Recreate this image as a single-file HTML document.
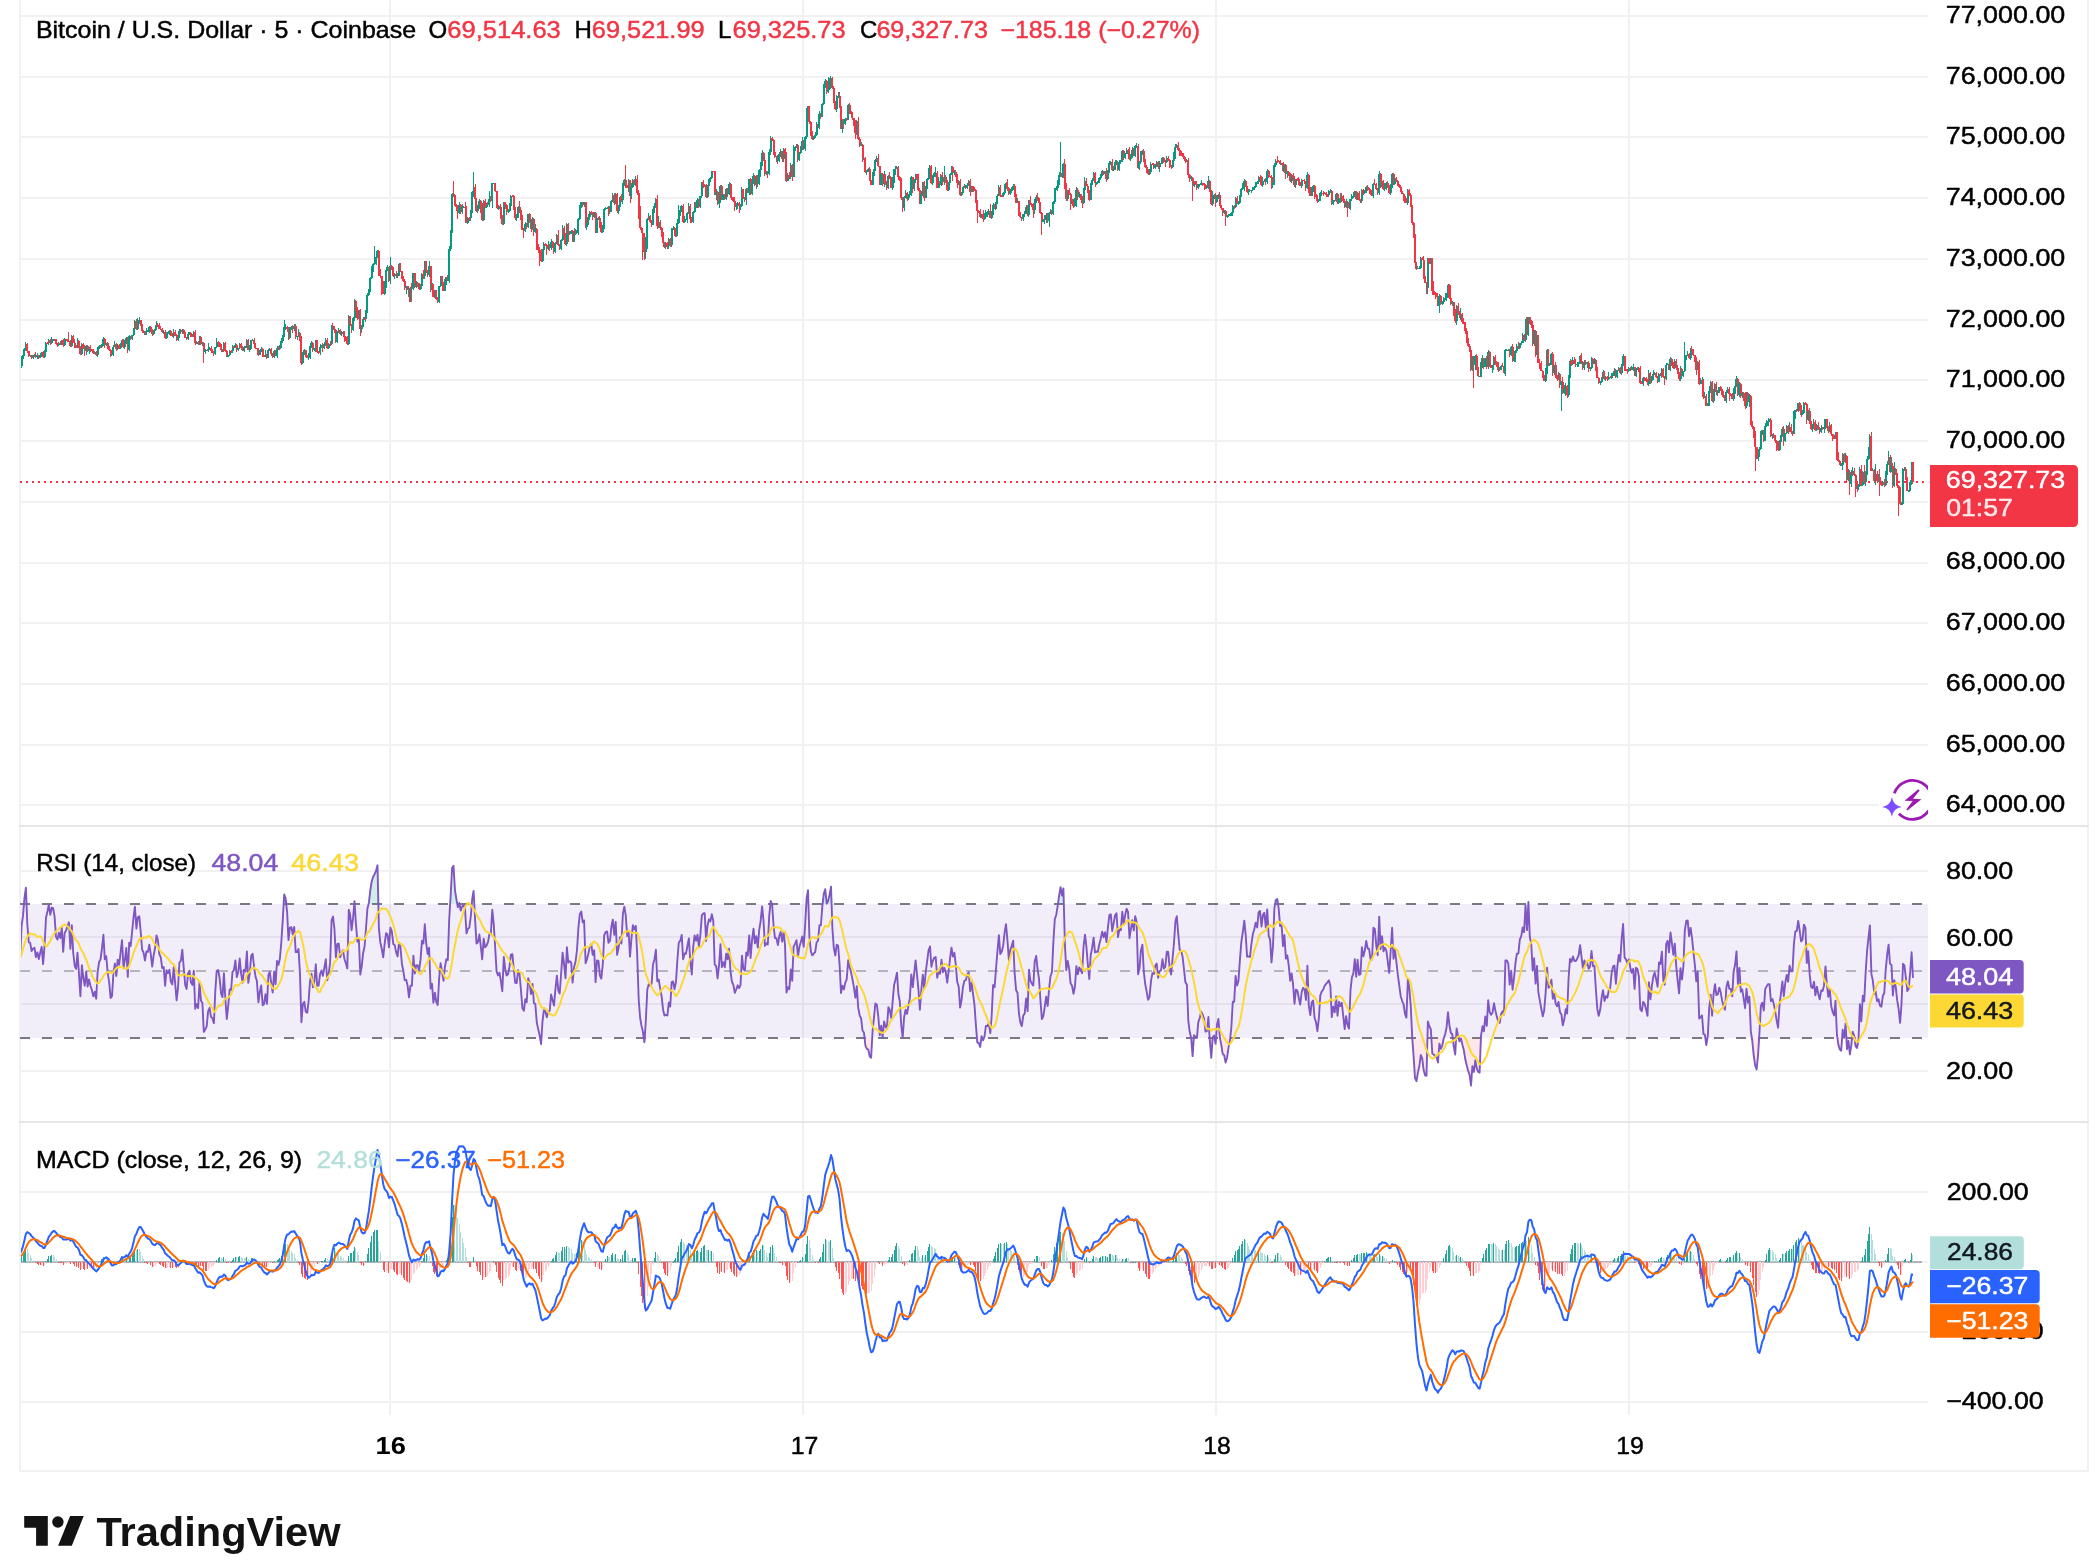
<!DOCTYPE html>
<html><head><meta charset="utf-8"><title>BTCUSD</title>
<style>
html,body{margin:0;padding:0;background:#fff;}
body{width:2097px;height:1560px;position:relative;overflow:hidden;}
svg text{font-family:"Liberation Sans",sans-serif;}
.tv{position:absolute;left:96px;top:1503px;font:bold 40px "Liberation Sans",sans-serif;color:#131313;letter-spacing:-0.6px;white-space:nowrap;line-height:1;}
</style></head><body>
<svg width="2097" height="1560" style="position:absolute;left:0;top:0;will-change:transform">
<defs><clipPath id="clipi"><rect x="1860" y="760" width="68" height="70"/></clipPath><clipPath id="clipc"><rect x="21" y="0" width="1907" height="824"/></clipPath>
<clipPath id="clipm"><rect x="21" y="0" width="1907" height="824"/></clipPath>
<clipPath id="clipob"><rect x="21" y="827" width="1907" height="77.0"/></clipPath><clipPath id="clipos"><rect x="21" y="1037.6" width="1907" height="90"/></clipPath><clipPath id="clipr"><rect x="21" y="827" width="1907" height="294"/></clipPath>
<clipPath id="clipd"><rect x="21" y="1123" width="1907" height="292"/></clipPath></defs>
<rect x="389" y="0" width="2" height="1415" fill="#F1F1F1"/><rect x="802" y="0" width="2" height="1415" fill="#F1F1F1"/><rect x="1215" y="0" width="2" height="1415" fill="#F1F1F1"/><rect x="1628" y="0" width="2" height="1415" fill="#F1F1F1"/><rect x="21" y="15" width="1907" height="2" fill="#F1F1F1"/><rect x="21" y="76" width="1907" height="2" fill="#F1F1F1"/><rect x="21" y="136" width="1907" height="2" fill="#F1F1F1"/><rect x="21" y="197" width="1907" height="2" fill="#F1F1F1"/><rect x="21" y="258" width="1907" height="2" fill="#F1F1F1"/><rect x="21" y="319" width="1907" height="2" fill="#F1F1F1"/><rect x="21" y="379" width="1907" height="2" fill="#F1F1F1"/><rect x="21" y="440" width="1907" height="2" fill="#F1F1F1"/><rect x="21" y="501" width="1907" height="2" fill="#F1F1F1"/><rect x="21" y="562" width="1907" height="2" fill="#F1F1F1"/><rect x="21" y="622" width="1907" height="2" fill="#F1F1F1"/><rect x="21" y="683" width="1907" height="2" fill="#F1F1F1"/><rect x="21" y="744" width="1907" height="2" fill="#F1F1F1"/><rect x="21" y="804" width="1907" height="2" fill="#F1F1F1"/><rect x="21" y="870" width="1907" height="2" fill="#F1F1F1"/><rect x="21" y="936" width="1907" height="2" fill="#F1F1F1"/><rect x="21" y="1003" width="1907" height="2" fill="#F1F1F1"/><rect x="21" y="1070" width="1907" height="2" fill="#F1F1F1"/><rect x="21" y="1191" width="1907" height="2" fill="#F1F1F1"/><rect x="21" y="1261" width="1907" height="2" fill="#F1F1F1"/><rect x="21" y="1331" width="1907" height="2" fill="#F1F1F1"/><rect x="21" y="1401" width="1907" height="2" fill="#F1F1F1"/><rect x="19" y="0" width="2" height="1472" fill="#F1F1F1"/><rect x="2087" y="0" width="2" height="1472" fill="#F1F1F1"/><rect x="19" y="825" width="2070" height="2" fill="#E6E6E6"/><rect x="19" y="1121" width="2070" height="2" fill="#E6E6E6"/><rect x="19" y="1470" width="2070" height="2" fill="#F1F1F1"/><rect x="21" y="904" width="1907" height="133.6" fill="#7E57C2" fill-opacity="0.1"/><line x1="20" x2="1922" y1="904" y2="904" stroke="#787B86" stroke-width="2" stroke-dasharray="10 12"/><line x1="20" x2="1922" y1="971" y2="971" stroke="rgba(120,123,134,0.5)" stroke-width="2" stroke-dasharray="10 12"/><line x1="20" x2="1922" y1="1038" y2="1038" stroke="#787B86" stroke-width="2" stroke-dasharray="10 12"/><line x1="20" x2="1926" y1="482" y2="482" stroke="#F23645" stroke-width="2" stroke-dasharray="2 4"/>
<g clip-path="url(#clipm)"><g shape-rendering="crispEdges"><path d="M20 365h1v5h-1zM21 356h1v12h-1zM23 355h1v4h-1zM24 348h1v8h-1zM25 342h1v9h-1z" fill="#089981"/><path d="M27 343h1v10h-1zM28 351h1v6h-1z" fill="#F23645"/><path d="M30 355h1v2h-1z" fill="#089981"/><path d="M31 355h1v4h-1z" fill="#F23645"/><path d="M33 356h1v3h-1zM34 354h1v3h-1z" fill="#089981"/><path d="M35 352h1v6h-1z" fill="#F23645"/><path d="M37 353h1v6h-1z" fill="#089981"/><path d="M38 355h1v4h-1z" fill="#F23645"/><path d="M40 353h1v5h-1zM41 352h1v5h-1z" fill="#089981"/><path d="M43 351h1v7h-1z" fill="#F23645"/><path d="M44 350h1v8h-1zM45 342h1v12h-1z" fill="#089981"/><path d="M47 342h1v2h-1z" fill="#F23645"/><path d="M48 339h1v6h-1z" fill="#089981"/><path d="M50 339h1v6h-1z" fill="#F23645"/><path d="M51 337h1v7h-1zM53 339h1v2h-1z" fill="#089981"/><path d="M54 339h1v2h-1zM56 339h1v6h-1zM57 343h1v4h-1z" fill="#F23645"/><path d="M58 342h1v4h-1z" fill="#089981"/><path d="M60 341h1v4h-1z" fill="#F23645"/><path d="M61 340h1v5h-1z" fill="#089981"/><path d="M63 339h1v8h-1z" fill="#F23645"/><path d="M64 338h1v8h-1z" fill="#089981"/><path d="M66 339h1v2h-1zM67 339h1v3h-1zM68 332h1v10h-1zM70 340h1v7h-1z" fill="#F23645"/><path d="M71 335h1v12h-1z" fill="#089981"/><path d="M73 335h1v8h-1zM74 339h1v9h-1zM76 345h1v3h-1z" fill="#F23645"/><path d="M77 338h1v10h-1z" fill="#089981"/><path d="M78 340h1v8h-1zM80 346h1v9h-1z" fill="#F23645"/><path d="M81 343h1v12h-1z" fill="#089981"/><path d="M83 343h1v6h-1zM84 345h1v11h-1z" fill="#F23645"/><path d="M86 345h1v10h-1z" fill="#089981"/><path d="M87 345h1v7h-1z" fill="#F23645"/><path d="M89 347h1v7h-1z" fill="#089981"/><path d="M90 345h1v7h-1zM91 349h1v2h-1zM93 349h1v5h-1z" fill="#F23645"/><path d="M94 351h1v3h-1z" fill="#089981"/><path d="M96 351h1v5h-1z" fill="#F23645"/><path d="M97 347h1v10h-1zM99 345h1v4h-1z" fill="#089981"/><path d="M100 345h1v3h-1z" fill="#F23645"/><path d="M101 344h1v4h-1zM103 337h1v9h-1z" fill="#089981"/><path d="M104 338h1v10h-1z" fill="#F23645"/><path d="M106 343h1v3h-1z" fill="#089981"/><path d="M107 342h1v7h-1zM109 346h1v5h-1zM110 349h1v8h-1z" fill="#F23645"/><path d="M111 353h1v3h-1zM113 345h1v11h-1zM114 341h1v6h-1z" fill="#089981"/><path d="M116 343h1v8h-1z" fill="#F23645"/><path d="M117 344h1v6h-1z" fill="#089981"/><path d="M119 344h1v5h-1z" fill="#F23645"/><path d="M120 343h1v6h-1zM122 339h1v8h-1z" fill="#089981"/><path d="M123 339h1v9h-1z" fill="#F23645"/><path d="M124 340h1v9h-1zM126 337h1v7h-1z" fill="#089981"/><path d="M127 337h1v16h-1z" fill="#F23645"/><path d="M129 335h1v16h-1z" fill="#089981"/><path d="M130 336h1v4h-1z" fill="#F23645"/><path d="M132 335h1v5h-1zM133 328h1v8h-1zM134 320h1v9h-1z" fill="#089981"/><path d="M136 319h1v11h-1z" fill="#F23645"/><path d="M137 318h1v12h-1zM139 317h1v7h-1z" fill="#089981"/><path d="M140 320h1v6h-1zM142 324h1v9h-1zM143 330h1v3h-1zM144 331h1v4h-1z" fill="#F23645"/><path d="M146 328h1v7h-1zM147 330h1v1h-1zM149 326h1v7h-1z" fill="#089981"/><path d="M150 326h1v6h-1zM152 329h1v7h-1z" fill="#F23645"/><path d="M153 330h1v5h-1zM155 329h1v2h-1zM156 321h1v9h-1z" fill="#089981"/><path d="M157 323h1v4h-1zM159 323h1v6h-1zM160 326h1v4h-1zM162 328h1v5h-1z" fill="#F23645"/><path d="M163 330h1v4h-1z" fill="#089981"/><path d="M165 330h1v9h-1z" fill="#F23645"/><path d="M166 332h1v7h-1zM167 332h1v2h-1zM169 330h1v5h-1z" fill="#089981"/><path d="M170 330h1v6h-1zM172 333h1v4h-1z" fill="#F23645"/><path d="M173 329h1v9h-1z" fill="#089981"/><path d="M175 330h1v6h-1zM176 334h1v7h-1z" fill="#F23645"/><path d="M178 337h1v4h-1zM179 329h1v9h-1z" fill="#089981"/><path d="M180 329h1v5h-1z" fill="#F23645"/><path d="M182 329h1v5h-1z" fill="#089981"/><path d="M183 329h1v5h-1zM185 332h1v6h-1zM186 337h1v3h-1z" fill="#F23645"/><path d="M188 332h1v8h-1zM189 332h1v3h-1z" fill="#089981"/><path d="M190 332h1v5h-1zM192 334h1v3h-1z" fill="#F23645"/><path d="M193 331h1v6h-1z" fill="#089981"/><path d="M195 330h1v15h-1z" fill="#F23645"/><path d="M196 341h1v3h-1z" fill="#089981"/><path d="M198 341h1v4h-1z" fill="#F23645"/><path d="M199 336h1v9h-1z" fill="#089981"/><path d="M200 336h1v9h-1z" fill="#F23645"/><path d="M202 342h1v4h-1z" fill="#089981"/><path d="M203 342h1v21h-1z" fill="#F23645"/><path d="M205 349h1v5h-1z" fill="#089981"/><path d="M206 350h1v1h-1z" fill="#F23645"/><path d="M208 343h1v9h-1zM209 347h1v3h-1z" fill="#089981"/><path d="M211 346h1v7h-1zM212 349h1v4h-1zM213 351h1v5h-1z" fill="#F23645"/><path d="M215 347h1v8h-1zM216 338h1v10h-1z" fill="#089981"/><path d="M218 341h1v6h-1zM219 342h1v5h-1zM221 344h1v8h-1zM222 349h1v3h-1z" fill="#F23645"/><path d="M223 342h1v10h-1z" fill="#089981"/><path d="M225 342h1v10h-1zM226 350h1v7h-1z" fill="#F23645"/><path d="M228 355h1v2h-1zM229 350h1v6h-1z" fill="#089981"/><path d="M231 350h1v3h-1z" fill="#F23645"/><path d="M232 345h1v8h-1z" fill="#089981"/><path d="M233 346h1v3h-1z" fill="#F23645"/><path d="M235 343h1v5h-1z" fill="#089981"/><path d="M236 344h1v8h-1z" fill="#F23645"/><path d="M238 348h1v3h-1zM239 343h1v6h-1z" fill="#089981"/><path d="M241 343h1v7h-1zM242 346h1v5h-1z" fill="#F23645"/><path d="M244 346h1v6h-1zM245 346h1v1h-1zM246 339h1v9h-1z" fill="#089981"/><path d="M248 339h1v11h-1z" fill="#F23645"/><path d="M249 345h1v7h-1zM251 340h1v9h-1zM252 339h1v2h-1z" fill="#089981"/><path d="M254 338h1v9h-1zM255 343h1v6h-1zM256 348h1v1h-1zM258 348h1v8h-1z" fill="#F23645"/><path d="M259 350h1v5h-1zM261 347h1v5h-1z" fill="#089981"/><path d="M262 348h1v9h-1zM264 355h1v2h-1z" fill="#F23645"/><path d="M265 350h1v7h-1z" fill="#089981"/><path d="M266 354h1v5h-1z" fill="#F23645"/><path d="M268 349h1v9h-1zM269 348h1v3h-1z" fill="#089981"/><path d="M271 348h1v8h-1zM272 353h1v5h-1z" fill="#F23645"/><path d="M274 350h1v8h-1z" fill="#089981"/><path d="M275 350h1v6h-1z" fill="#F23645"/><path d="M277 346h1v12h-1z" fill="#089981"/><path d="M278 346h1v4h-1z" fill="#F23645"/><path d="M279 345h1v5h-1zM281 338h1v10h-1zM282 335h1v8h-1zM284 320h1v17h-1zM285 324h1v6h-1z" fill="#089981"/><path d="M287 326h1v6h-1zM288 327h1v13h-1z" fill="#F23645"/><path d="M289 327h1v12h-1zM291 326h1v4h-1z" fill="#089981"/><path d="M292 325h1v8h-1z" fill="#F23645"/><path d="M294 324h1v7h-1z" fill="#089981"/><path d="M295 324h1v15h-1z" fill="#F23645"/><path d="M297 336h1v4h-1zM298 329h1v8h-1z" fill="#089981"/><path d="M299 332h1v9h-1zM301 336h1v29h-1z" fill="#F23645"/><path d="M302 352h1v12h-1zM304 349h1v6h-1z" fill="#089981"/><path d="M305 350h1v7h-1zM307 355h1v3h-1z" fill="#F23645"/><path d="M308 353h1v7h-1zM310 345h1v14h-1zM311 341h1v7h-1z" fill="#089981"/><path d="M312 342h1v10h-1z" fill="#F23645"/><path d="M314 348h1v3h-1zM315 340h1v12h-1z" fill="#089981"/><path d="M317 340h1v13h-1zM318 351h1v3h-1z" fill="#F23645"/><path d="M320 344h1v11h-1zM321 345h1v3h-1z" fill="#089981"/><path d="M322 343h1v9h-1z" fill="#F23645"/><path d="M324 342h1v7h-1zM325 338h1v8h-1z" fill="#089981"/><path d="M327 338h1v11h-1z" fill="#F23645"/><path d="M328 343h1v6h-1z" fill="#089981"/><path d="M330 341h1v5h-1z" fill="#F23645"/><path d="M331 325h1v20h-1z" fill="#089981"/><path d="M332 323h1v6h-1zM334 326h1v7h-1zM335 329h1v14h-1z" fill="#F23645"/><path d="M337 331h1v12h-1zM338 328h1v5h-1z" fill="#089981"/><path d="M340 329h1v6h-1z" fill="#F23645"/><path d="M341 331h1v5h-1zM343 331h1v2h-1z" fill="#089981"/><path d="M344 331h1v11h-1zM345 336h1v5h-1zM347 336h1v9h-1z" fill="#F23645"/><path d="M348 315h1v30h-1z" fill="#089981"/><path d="M350 316h1v10h-1zM351 324h1v9h-1z" fill="#F23645"/><path d="M353 317h1v14h-1zM354 299h1v22h-1z" fill="#089981"/><path d="M355 300h1v14h-1zM357 307h1v13h-1z" fill="#F23645"/><path d="M358 310h1v9h-1z" fill="#089981"/><path d="M360 309h1v27h-1z" fill="#F23645"/><path d="M361 325h1v8h-1zM363 317h1v10h-1z" fill="#089981"/><path d="M364 317h1v3h-1z" fill="#F23645"/><path d="M365 310h1v12h-1zM367 293h1v20h-1zM368 289h1v7h-1zM370 277h1v15h-1zM371 266h1v13h-1zM373 263h1v9h-1zM374 246h1v19h-1zM376 255h1v10h-1zM377 250h1v8h-1z" fill="#089981"/><path d="M378 250h1v26h-1zM380 269h1v9h-1zM381 276h1v19h-1zM383 281h1v13h-1z" fill="#F23645"/><path d="M384 281h1v14h-1zM386 267h1v21h-1zM387 265h1v6h-1z" fill="#089981"/><path d="M388 267h1v15h-1z" fill="#F23645"/><path d="M390 257h1v27h-1z" fill="#089981"/><path d="M391 265h1v5h-1zM393 267h1v10h-1z" fill="#F23645"/><path d="M394 273h1v6h-1z" fill="#089981"/><path d="M396 271h1v7h-1z" fill="#F23645"/><path d="M397 273h1v5h-1zM399 263h1v13h-1z" fill="#089981"/><path d="M400 263h1v9h-1zM401 271h1v8h-1zM403 276h1v6h-1zM404 279h1v11h-1z" fill="#F23645"/><path d="M406 286h1v8h-1z" fill="#089981"/><path d="M407 286h1v4h-1zM409 289h1v13h-1z" fill="#F23645"/><path d="M410 287h1v15h-1z" fill="#089981"/><path d="M411 283h1v19h-1z" fill="#F23645"/><path d="M413 273h1v17h-1z" fill="#089981"/><path d="M414 273h1v15h-1z" fill="#F23645"/><path d="M416 281h1v7h-1z" fill="#089981"/><path d="M417 282h1v5h-1zM419 283h1v7h-1z" fill="#F23645"/><path d="M420 284h1v6h-1zM421 273h1v14h-1z" fill="#089981"/><path d="M423 270h1v9h-1z" fill="#F23645"/><path d="M424 261h1v18h-1z" fill="#089981"/><path d="M426 261h1v12h-1zM427 270h1v7h-1z" fill="#F23645"/><path d="M429 261h1v16h-1z" fill="#089981"/><path d="M430 266h1v26h-1z" fill="#F23645"/><path d="M432 283h1v8h-1z" fill="#089981"/><path d="M433 284h1v13h-1z" fill="#F23645"/><path d="M434 290h1v8h-1z" fill="#089981"/><path d="M436 290h1v10h-1zM437 297h1v6h-1z" fill="#F23645"/><path d="M439 286h1v17h-1zM440 276h1v11h-1z" fill="#089981"/><path d="M442 276h1v8h-1zM443 282h1v9h-1z" fill="#F23645"/><path d="M444 279h1v12h-1zM446 277h1v8h-1z" fill="#089981"/><path d="M447 275h1v6h-1z" fill="#F23645"/><path d="M449 246h1v37h-1zM450 230h1v21h-1zM452 193h1v40h-1z" fill="#089981"/><path d="M453 181h1v16h-1zM454 194h1v12h-1zM456 204h1v7h-1zM457 205h1v14h-1z" fill="#F23645"/><path d="M459 202h1v12h-1z" fill="#089981"/><path d="M460 204h1v10h-1z" fill="#F23645"/><path d="M462 204h1v10h-1zM463 206h1v2h-1z" fill="#089981"/><path d="M465 202h1v7h-1zM466 206h1v17h-1z" fill="#F23645"/><path d="M467 217h1v7h-1z" fill="#089981"/><path d="M469 217h1v4h-1z" fill="#F23645"/><path d="M470 210h1v11h-1zM472 191h1v22h-1zM473 172h1v25h-1z" fill="#089981"/><path d="M475 184h1v16h-1zM476 198h1v14h-1z" fill="#F23645"/><path d="M477 205h1v8h-1zM479 199h1v10h-1z" fill="#089981"/><path d="M480 200h1v13h-1zM482 203h1v18h-1z" fill="#F23645"/><path d="M483 200h1v21h-1z" fill="#089981"/><path d="M485 199h1v9h-1z" fill="#F23645"/><path d="M486 203h1v5h-1z" fill="#089981"/><path d="M487 202h1v3h-1z" fill="#F23645"/><path d="M489 191h1v16h-1z" fill="#089981"/><path d="M490 196h1v6h-1z" fill="#F23645"/><path d="M492 183h1v25h-1zM493 183h1v1h-1z" fill="#089981"/><path d="M495 183h1v9h-1zM496 191h1v17h-1zM498 205h1v5h-1z" fill="#F23645"/><path d="M499 206h1v3h-1z" fill="#089981"/><path d="M500 204h1v15h-1zM502 215h1v10h-1z" fill="#F23645"/><path d="M503 202h1v23h-1z" fill="#089981"/><path d="M505 202h1v7h-1zM506 204h1v11h-1z" fill="#F23645"/><path d="M508 209h1v4h-1zM509 203h1v9h-1zM510 195h1v13h-1z" fill="#089981"/><path d="M512 195h1v2h-1zM513 195h1v15h-1zM515 207h1v13h-1z" fill="#F23645"/><path d="M516 214h1v7h-1zM518 206h1v12h-1z" fill="#089981"/><path d="M519 201h1v12h-1zM520 208h1v12h-1zM522 215h1v15h-1zM523 228h1v10h-1z" fill="#F23645"/><path d="M525 222h1v10h-1z" fill="#089981"/><path d="M526 223h1v6h-1z" fill="#F23645"/><path d="M528 214h1v14h-1z" fill="#089981"/><path d="M529 213h1v10h-1zM531 221h1v11h-1z" fill="#F23645"/><path d="M532 217h1v13h-1z" fill="#089981"/><path d="M533 218h1v18h-1z" fill="#F23645"/><path d="M535 224h1v9h-1z" fill="#089981"/><path d="M536 228h1v22h-1zM538 244h1v9h-1zM539 247h1v19h-1zM541 249h1v13h-1z" fill="#F23645"/><path d="M542 249h1v13h-1zM543 242h1v10h-1z" fill="#089981"/><path d="M545 243h1v3h-1zM546 244h1v11h-1z" fill="#F23645"/><path d="M548 241h1v9h-1z" fill="#089981"/><path d="M549 244h1v7h-1z" fill="#F23645"/><path d="M551 239h1v11h-1z" fill="#089981"/><path d="M552 241h1v7h-1zM553 246h1v8h-1z" fill="#F23645"/><path d="M555 242h1v11h-1zM556 234h1v10h-1z" fill="#089981"/><path d="M558 230h1v16h-1zM559 244h1v6h-1z" fill="#F23645"/><path d="M561 239h1v11h-1zM562 225h1v16h-1z" fill="#089981"/><path d="M564 226h1v10h-1zM565 233h1v12h-1z" fill="#F23645"/><path d="M566 223h1v23h-1z" fill="#089981"/><path d="M568 223h1v19h-1z" fill="#F23645"/><path d="M569 231h1v4h-1zM571 230h1v4h-1z" fill="#089981"/><path d="M572 230h1v12h-1z" fill="#F23645"/><path d="M574 228h1v14h-1z" fill="#089981"/><path d="M575 229h1v6h-1z" fill="#F23645"/><path d="M576 230h1v4h-1zM578 218h1v17h-1zM579 205h1v15h-1zM581 202h1v6h-1z" fill="#089981"/><path d="M582 202h1v5h-1z" fill="#F23645"/><path d="M584 202h1v5h-1z" fill="#089981"/><path d="M585 202h1v26h-1z" fill="#F23645"/><path d="M586 217h1v13h-1zM588 214h1v11h-1zM589 211h1v9h-1z" fill="#089981"/><path d="M591 211h1v4h-1zM592 212h1v8h-1z" fill="#F23645"/><path d="M594 212h1v6h-1z" fill="#089981"/><path d="M595 212h1v21h-1z" fill="#F23645"/><path d="M597 218h1v15h-1zM598 217h1v3h-1z" fill="#089981"/><path d="M599 216h1v12h-1zM601 222h1v11h-1z" fill="#F23645"/><path d="M602 225h1v8h-1zM604 208h1v21h-1zM605 207h1v3h-1zM607 207h1v1h-1z" fill="#089981"/><path d="M608 206h1v10h-1z" fill="#F23645"/><path d="M609 206h1v8h-1zM611 200h1v12h-1zM612 193h1v9h-1z" fill="#089981"/><path d="M614 193h1v12h-1z" fill="#F23645"/><path d="M615 193h1v11h-1z" fill="#089981"/><path d="M617 193h1v20h-1z" fill="#F23645"/><path d="M618 205h1v9h-1zM620 196h1v11h-1z" fill="#089981"/><path d="M621 194h1v8h-1z" fill="#F23645"/><path d="M622 183h1v21h-1zM624 179h1v7h-1z" fill="#089981"/><path d="M625 165h1v23h-1zM627 185h1v2h-1z" fill="#F23645"/><path d="M628 179h1v13h-1z" fill="#089981"/><path d="M630 180h1v23h-1z" fill="#F23645"/><path d="M631 183h1v16h-1zM632 179h1v9h-1z" fill="#089981"/><path d="M634 179h1v6h-1z" fill="#F23645"/><path d="M635 176h1v10h-1z" fill="#089981"/><path d="M637 175h1v20h-1zM638 190h1v29h-1zM640 206h1v24h-1zM641 227h1v6h-1zM642 231h1v29h-1zM644 233h1v27h-1z" fill="#F23645"/><path d="M645 237h1v22h-1zM647 218h1v31h-1zM648 213h1v7h-1z" fill="#089981"/><path d="M650 215h1v8h-1zM651 220h1v7h-1z" fill="#F23645"/><path d="M653 206h1v19h-1zM654 203h1v10h-1zM655 198h1v10h-1z" fill="#089981"/><path d="M657 195h1v34h-1z" fill="#F23645"/><path d="M658 216h1v12h-1z" fill="#089981"/><path d="M660 220h1v10h-1zM661 227h1v10h-1zM663 232h1v12h-1zM664 242h1v6h-1z" fill="#F23645"/><path d="M665 242h1v7h-1z" fill="#089981"/><path d="M667 242h1v7h-1z" fill="#F23645"/><path d="M668 238h1v11h-1z" fill="#089981"/><path d="M670 238h1v9h-1z" fill="#F23645"/><path d="M671 228h1v19h-1zM673 226h1v4h-1z" fill="#089981"/><path d="M674 227h1v9h-1zM675 234h1v3h-1z" fill="#F23645"/><path d="M677 219h1v17h-1zM678 205h1v19h-1zM680 206h1v10h-1zM681 205h1v7h-1z" fill="#089981"/><path d="M683 204h1v19h-1z" fill="#F23645"/><path d="M684 216h1v7h-1zM686 218h1v1h-1zM687 212h1v11h-1zM688 203h1v11h-1z" fill="#089981"/><path d="M690 204h1v19h-1zM691 217h1v6h-1z" fill="#F23645"/><path d="M693 211h1v12h-1zM694 202h1v11h-1z" fill="#089981"/><path d="M696 200h1v8h-1z" fill="#F23645"/><path d="M697 198h1v10h-1z" fill="#089981"/><path d="M698 199h1v9h-1z" fill="#F23645"/><path d="M700 196h1v12h-1zM701 182h1v16h-1z" fill="#089981"/><path d="M703 180h1v8h-1zM704 184h1v3h-1zM706 184h1v14h-1z" fill="#F23645"/><path d="M707 185h1v13h-1zM708 179h1v9h-1zM710 177h1v5h-1zM711 171h1v8h-1z" fill="#089981"/><path d="M713 171h1v1h-1zM714 171h1v24h-1z" fill="#F23645"/><path d="M716 189h1v11h-1z" fill="#089981"/><path d="M717 191h1v14h-1z" fill="#F23645"/><path d="M719 200h1v8h-1zM720 185h1v18h-1z" fill="#089981"/><path d="M721 185h1v15h-1z" fill="#F23645"/><path d="M723 194h1v6h-1z" fill="#089981"/><path d="M724 194h1v6h-1z" fill="#F23645"/><path d="M726 188h1v12h-1z" fill="#089981"/><path d="M727 188h1v9h-1z" fill="#F23645"/><path d="M729 182h1v13h-1z" fill="#089981"/><path d="M730 183h1v15h-1zM731 195h1v5h-1zM733 197h1v5h-1zM734 197h1v14h-1z" fill="#F23645"/><path d="M736 203h1v7h-1zM737 202h1v7h-1z" fill="#089981"/><path d="M739 202h1v11h-1z" fill="#F23645"/><path d="M740 204h1v6h-1zM741 187h1v20h-1z" fill="#089981"/><path d="M743 189h1v10h-1zM744 197h1v5h-1z" fill="#F23645"/><path d="M746 188h1v17h-1z" fill="#089981"/><path d="M747 188h1v5h-1z" fill="#F23645"/><path d="M749 179h1v16h-1z" fill="#089981"/><path d="M750 178h1v17h-1z" fill="#F23645"/><path d="M752 182h1v13h-1zM753 173h1v11h-1z" fill="#089981"/><path d="M754 175h1v11h-1z" fill="#F23645"/><path d="M756 175h1v14h-1z" fill="#089981"/><path d="M757 175h1v12h-1z" fill="#F23645"/><path d="M759 169h1v16h-1zM760 162h1v15h-1zM762 150h1v16h-1z" fill="#089981"/><path d="M763 152h1v9h-1zM764 159h1v17h-1z" fill="#F23645"/><path d="M766 171h1v4h-1z" fill="#089981"/><path d="M767 171h1v7h-1z" fill="#F23645"/><path d="M769 149h1v26h-1zM770 136h1v19h-1z" fill="#089981"/><path d="M772 137h1v4h-1zM773 139h1v16h-1zM774 147h1v11h-1z" fill="#F23645"/><path d="M776 156h1v6h-1z" fill="#089981"/><path d="M777 155h1v9h-1z" fill="#F23645"/><path d="M779 152h1v10h-1zM780 149h1v8h-1z" fill="#089981"/><path d="M782 151h1v11h-1z" fill="#F23645"/><path d="M783 148h1v14h-1z" fill="#089981"/><path d="M785 148h1v9h-1zM786 152h1v30h-1z" fill="#F23645"/><path d="M787 173h1v8h-1z" fill="#089981"/><path d="M789 172h1v7h-1z" fill="#F23645"/><path d="M790 163h1v16h-1z" fill="#089981"/><path d="M792 164h1v17h-1z" fill="#F23645"/><path d="M793 145h1v32h-1zM795 146h1v5h-1zM796 144h1v4h-1z" fill="#089981"/><path d="M797 144h1v18h-1z" fill="#F23645"/><path d="M799 152h1v9h-1zM800 146h1v8h-1zM802 137h1v13h-1z" fill="#089981"/><path d="M803 140h1v10h-1z" fill="#F23645"/><path d="M805 136h1v15h-1zM806 108h1v31h-1zM807 106h1v6h-1z" fill="#089981"/><path d="M809 106h1v18h-1zM810 121h1v15h-1zM812 131h1v9h-1z" fill="#F23645"/><path d="M813 136h1v4h-1zM815 132h1v6h-1zM816 122h1v14h-1z" fill="#089981"/><path d="M818 123h1v5h-1z" fill="#F23645"/><path d="M819 111h1v18h-1z" fill="#089981"/><path d="M820 113h1v6h-1z" fill="#F23645"/><path d="M822 103h1v14h-1zM823 84h1v21h-1zM825 79h1v9h-1z" fill="#089981"/><path d="M826 80h1v14h-1z" fill="#F23645"/><path d="M828 77h1v16h-1zM829 78h1v12h-1zM830 76h1v6h-1z" fill="#089981"/><path d="M832 77h1v12h-1zM833 86h1v17h-1zM835 101h1v9h-1z" fill="#F23645"/><path d="M836 95h1v17h-1zM838 92h1v6h-1z" fill="#089981"/><path d="M839 92h1v16h-1zM841 106h1v23h-1z" fill="#F23645"/><path d="M842 119h1v14h-1z" fill="#089981"/><path d="M843 119h1v10h-1z" fill="#F23645"/><path d="M845 118h1v7h-1z" fill="#089981"/><path d="M846 118h1v3h-1z" fill="#F23645"/><path d="M848 104h1v16h-1z" fill="#089981"/><path d="M849 103h1v11h-1zM851 111h1v6h-1zM852 112h1v8h-1zM853 118h1v8h-1zM855 120h1v19h-1z" fill="#F23645"/><path d="M856 120h1v15h-1z" fill="#089981"/><path d="M858 117h1v23h-1zM859 137h1v10h-1z" fill="#F23645"/><path d="M861 142h1v4h-1z" fill="#089981"/><path d="M862 144h1v18h-1z" fill="#F23645"/><path d="M863 157h1v3h-1z" fill="#089981"/><path d="M865 157h1v16h-1z" fill="#F23645"/><path d="M866 170h1v5h-1zM868 168h1v4h-1z" fill="#089981"/><path d="M869 167h1v14h-1zM871 180h1v5h-1z" fill="#F23645"/><path d="M872 172h1v13h-1zM874 168h1v8h-1zM875 159h1v12h-1zM876 156h1v6h-1z" fill="#089981"/><path d="M878 154h1v13h-1zM879 166h1v19h-1z" fill="#F23645"/><path d="M881 173h1v12h-1z" fill="#089981"/><path d="M882 173h1v13h-1z" fill="#F23645"/><path d="M884 171h1v16h-1z" fill="#089981"/><path d="M885 174h1v11h-1zM886 181h1v9h-1z" fill="#F23645"/><path d="M888 175h1v14h-1z" fill="#089981"/><path d="M889 172h1v7h-1zM891 177h1v11h-1z" fill="#F23645"/><path d="M892 177h1v13h-1zM894 169h1v14h-1zM895 166h1v9h-1zM896 166h1v1h-1z" fill="#089981"/><path d="M898 166h1v14h-1zM899 176h1v5h-1zM901 178h1v22h-1zM902 197h1v15h-1z" fill="#F23645"/><path d="M904 196h1v15h-1zM905 190h1v8h-1z" fill="#089981"/><path d="M907 192h1v9h-1z" fill="#F23645"/><path d="M908 194h1v6h-1zM909 191h1v7h-1zM911 176h1v20h-1z" fill="#089981"/><path d="M912 177h1v16h-1z" fill="#F23645"/><path d="M914 179h1v12h-1zM915 174h1v9h-1z" fill="#089981"/><path d="M917 174h1v5h-1zM918 174h1v17h-1zM919 188h1v16h-1z" fill="#F23645"/><path d="M921 191h1v13h-1zM922 182h1v14h-1z" fill="#089981"/><path d="M924 181h1v20h-1z" fill="#F23645"/><path d="M925 186h1v12h-1zM927 178h1v11h-1zM928 168h1v12h-1zM929 165h1v5h-1z" fill="#089981"/><path d="M931 165h1v19h-1z" fill="#F23645"/><path d="M932 175h1v10h-1zM934 172h1v5h-1zM935 167h1v10h-1z" fill="#089981"/><path d="M937 171h1v17h-1z" fill="#F23645"/><path d="M938 177h1v11h-1z" fill="#089981"/><path d="M940 174h1v11h-1z" fill="#F23645"/><path d="M941 175h1v11h-1z" fill="#089981"/><path d="M942 172h1v13h-1z" fill="#F23645"/><path d="M944 166h1v19h-1z" fill="#089981"/><path d="M945 175h1v8h-1zM947 180h1v11h-1z" fill="#F23645"/><path d="M948 182h1v9h-1zM950 173h1v10h-1zM951 166h1v9h-1z" fill="#089981"/><path d="M952 166h1v15h-1z" fill="#F23645"/><path d="M954 170h1v5h-1z" fill="#089981"/><path d="M955 170h1v7h-1zM957 174h1v14h-1z" fill="#F23645"/><path d="M958 180h1v5h-1z" fill="#089981"/><path d="M960 179h1v17h-1z" fill="#F23645"/><path d="M961 192h1v4h-1zM962 187h1v8h-1zM964 184h1v4h-1z" fill="#089981"/><path d="M965 185h1v4h-1z" fill="#F23645"/><path d="M967 183h1v6h-1zM968 180h1v6h-1z" fill="#089981"/><path d="M970 179h1v17h-1z" fill="#F23645"/><path d="M971 186h1v6h-1z" fill="#089981"/><path d="M973 186h1v6h-1zM974 187h1v4h-1zM975 189h1v14h-1zM977 200h1v23h-1zM978 210h1v3h-1zM980 209h1v9h-1z" fill="#F23645"/><path d="M981 214h1v4h-1z" fill="#089981"/><path d="M983 210h1v12h-1z" fill="#F23645"/><path d="M984 213h1v7h-1zM985 210h1v8h-1zM987 211h1v6h-1zM988 209h1v6h-1z" fill="#089981"/><path d="M990 204h1v14h-1z" fill="#F23645"/><path d="M991 211h1v8h-1zM993 203h1v12h-1z" fill="#089981"/><path d="M994 204h1v5h-1z" fill="#F23645"/><path d="M995 202h1v8h-1zM997 194h1v10h-1zM998 185h1v11h-1z" fill="#089981"/><path d="M1000 185h1v12h-1zM1001 195h1v1h-1z" fill="#F23645"/><path d="M1003 192h1v5h-1zM1004 184h1v11h-1zM1006 182h1v7h-1z" fill="#089981"/><path d="M1007 179h1v12h-1zM1008 187h1v8h-1z" fill="#F23645"/><path d="M1010 189h1v6h-1zM1011 187h1v6h-1zM1013 184h1v6h-1z" fill="#089981"/><path d="M1014 184h1v13h-1zM1016 194h1v9h-1z" fill="#F23645"/><path d="M1017 198h1v5h-1z" fill="#089981"/><path d="M1018 201h1v15h-1zM1020 212h1v6h-1zM1021 217h1v4h-1z" fill="#F23645"/><path d="M1023 214h1v7h-1zM1024 211h1v6h-1zM1026 205h1v9h-1z" fill="#089981"/><path d="M1027 205h1v11h-1z" fill="#F23645"/><path d="M1028 200h1v17h-1z" fill="#089981"/><path d="M1030 196h1v9h-1zM1031 203h1v4h-1zM1033 203h1v15h-1z" fill="#F23645"/><path d="M1034 199h1v15h-1zM1036 195h1v8h-1z" fill="#089981"/><path d="M1037 193h1v8h-1zM1039 198h1v8h-1zM1040 202h1v12h-1zM1041 212h1v23h-1z" fill="#F23645"/><path d="M1043 219h1v3h-1zM1044 215h1v9h-1zM1046 213h1v10h-1z" fill="#089981"/><path d="M1047 213h1v10h-1z" fill="#F23645"/><path d="M1049 212h1v15h-1zM1050 209h1v5h-1z" fill="#089981"/><path d="M1051 210h1v5h-1z" fill="#F23645"/><path d="M1053 201h1v14h-1zM1054 188h1v16h-1zM1056 186h1v4h-1zM1057 180h1v11h-1zM1059 172h1v13h-1zM1060 142h1v35h-1z" fill="#089981"/><path d="M1062 171h1v7h-1z" fill="#F23645"/><path d="M1063 163h1v15h-1z" fill="#089981"/><path d="M1064 159h1v30h-1zM1066 183h1v18h-1z" fill="#F23645"/><path d="M1067 190h1v11h-1z" fill="#089981"/><path d="M1069 188h1v7h-1zM1070 193h1v17h-1z" fill="#F23645"/><path d="M1072 199h1v6h-1z" fill="#089981"/><path d="M1073 199h1v9h-1z" fill="#F23645"/><path d="M1074 198h1v9h-1zM1076 187h1v20h-1z" fill="#089981"/><path d="M1077 188h1v12h-1z" fill="#F23645"/><path d="M1079 192h1v6h-1z" fill="#089981"/><path d="M1080 194h1v6h-1zM1082 196h1v12h-1z" fill="#F23645"/><path d="M1083 188h1v16h-1zM1084 177h1v13h-1z" fill="#089981"/><path d="M1086 178h1v8h-1zM1087 184h1v9h-1zM1089 190h1v11h-1z" fill="#F23645"/><path d="M1090 183h1v17h-1zM1092 178h1v7h-1zM1093 172h1v9h-1z" fill="#089981"/><path d="M1095 172h1v15h-1z" fill="#F23645"/><path d="M1096 182h1v3h-1zM1097 181h1v3h-1zM1099 177h1v6h-1zM1100 174h1v6h-1zM1102 170h1v6h-1z" fill="#089981"/><path d="M1103 171h1v4h-1z" fill="#F23645"/><path d="M1105 171h1v4h-1z" fill="#089981"/><path d="M1106 168h1v14h-1z" fill="#F23645"/><path d="M1107 170h1v10h-1zM1109 161h1v12h-1zM1110 161h1v4h-1z" fill="#089981"/><path d="M1112 159h1v12h-1z" fill="#F23645"/><path d="M1113 166h1v5h-1zM1115 160h1v10h-1zM1116 160h1v5h-1z" fill="#089981"/><path d="M1117 161h1v10h-1z" fill="#F23645"/><path d="M1119 160h1v11h-1zM1120 160h1v4h-1zM1122 150h1v12h-1z" fill="#089981"/><path d="M1123 150h1v10h-1z" fill="#F23645"/><path d="M1125 153h1v6h-1zM1126 148h1v6h-1z" fill="#089981"/><path d="M1128 149h1v1h-1zM1129 147h1v13h-1z" fill="#F23645"/><path d="M1130 154h1v7h-1zM1132 147h1v11h-1z" fill="#089981"/><path d="M1133 148h1v8h-1z" fill="#F23645"/><path d="M1135 145h1v12h-1zM1136 143h1v5h-1z" fill="#089981"/><path d="M1138 144h1v25h-1z" fill="#F23645"/><path d="M1139 161h1v9h-1zM1140 151h1v13h-1zM1142 150h1v5h-1z" fill="#089981"/><path d="M1143 149h1v13h-1zM1145 159h1v9h-1zM1146 165h1v8h-1zM1148 169h1v6h-1z" fill="#F23645"/><path d="M1149 169h1v6h-1zM1150 162h1v12h-1z" fill="#089981"/><path d="M1152 163h1v2h-1zM1153 163h1v6h-1z" fill="#F23645"/><path d="M1155 164h1v5h-1zM1156 161h1v6h-1z" fill="#089981"/><path d="M1158 161h1v8h-1z" fill="#F23645"/><path d="M1159 161h1v11h-1zM1161 162h1v2h-1zM1162 157h1v7h-1z" fill="#089981"/><path d="M1163 157h1v6h-1zM1165 160h1v7h-1z" fill="#F23645"/><path d="M1166 156h1v7h-1z" fill="#089981"/><path d="M1168 156h1v5h-1zM1169 159h1v9h-1zM1171 165h1v4h-1z" fill="#F23645"/><path d="M1172 160h1v8h-1zM1173 152h1v12h-1zM1175 144h1v15h-1zM1176 144h1v4h-1z" fill="#089981"/><path d="M1178 142h1v9h-1zM1179 148h1v8h-1zM1181 151h1v5h-1zM1182 153h1v4h-1zM1183 153h1v6h-1zM1185 157h1v6h-1z" fill="#F23645"/><path d="M1186 159h1v3h-1z" fill="#089981"/><path d="M1188 158h1v20h-1zM1189 174h1v8h-1z" fill="#F23645"/><path d="M1191 176h1v5h-1z" fill="#089981"/><path d="M1192 177h1v24h-1z" fill="#F23645"/><path d="M1194 181h1v6h-1z" fill="#089981"/><path d="M1195 181h1v4h-1zM1196 181h1v9h-1z" fill="#F23645"/><path d="M1198 184h1v5h-1zM1199 184h1v3h-1zM1201 180h1v5h-1z" fill="#089981"/><path d="M1202 183h1v3h-1zM1204 183h1v7h-1zM1205 184h1v5h-1z" fill="#F23645"/><path d="M1206 185h1v4h-1zM1208 176h1v13h-1z" fill="#089981"/><path d="M1209 180h1v12h-1zM1211 190h1v15h-1z" fill="#F23645"/><path d="M1212 191h1v15h-1zM1214 194h1v5h-1z" fill="#089981"/><path d="M1215 193h1v14h-1z" fill="#F23645"/><path d="M1216 196h1v7h-1zM1218 194h1v5h-1z" fill="#089981"/><path d="M1219 192h1v14h-1zM1221 205h1v5h-1zM1222 208h1v8h-1z" fill="#F23645"/><path d="M1224 210h1v4h-1z" fill="#089981"/><path d="M1225 210h1v16h-1z" fill="#F23645"/><path d="M1227 215h1v3h-1zM1228 214h1v3h-1zM1229 214h1v2h-1zM1231 212h1v4h-1zM1232 205h1v11h-1z" fill="#089981"/><path d="M1234 205h1v4h-1z" fill="#F23645"/><path d="M1235 197h1v11h-1z" fill="#089981"/><path d="M1237 196h1v8h-1z" fill="#F23645"/><path d="M1238 201h1v4h-1zM1239 195h1v8h-1zM1241 188h1v9h-1zM1242 183h1v7h-1zM1244 179h1v12h-1z" fill="#089981"/><path d="M1245 180h1v7h-1zM1247 186h1v7h-1z" fill="#F23645"/><path d="M1248 189h1v6h-1z" fill="#089981"/><path d="M1249 189h1v3h-1z" fill="#F23645"/><path d="M1251 190h1v3h-1zM1252 187h1v4h-1zM1254 186h1v4h-1zM1255 182h1v6h-1zM1257 181h1v3h-1zM1258 176h1v8h-1z" fill="#089981"/><path d="M1260 175h1v5h-1zM1261 176h1v10h-1z" fill="#F23645"/><path d="M1262 177h1v10h-1zM1264 179h1v3h-1z" fill="#089981"/><path d="M1265 178h1v7h-1z" fill="#F23645"/><path d="M1267 169h1v15h-1z" fill="#089981"/><path d="M1268 170h1v8h-1zM1270 176h1v2h-1zM1271 175h1v14h-1z" fill="#F23645"/><path d="M1272 181h1v7h-1zM1274 163h1v22h-1zM1275 159h1v8h-1z" fill="#089981"/><path d="M1277 156h1v7h-1zM1278 160h1v2h-1zM1280 160h1v5h-1z" fill="#F23645"/><path d="M1281 163h1v2h-1z" fill="#089981"/><path d="M1283 162h1v10h-1z" fill="#F23645"/><path d="M1284 164h1v9h-1z" fill="#089981"/><path d="M1285 164h1v15h-1z" fill="#F23645"/><path d="M1287 171h1v7h-1z" fill="#089981"/><path d="M1288 171h1v5h-1zM1290 173h1v9h-1z" fill="#F23645"/><path d="M1291 174h1v9h-1z" fill="#089981"/><path d="M1293 173h1v4h-1zM1294 176h1v11h-1z" fill="#F23645"/><path d="M1295 179h1v9h-1z" fill="#089981"/><path d="M1297 178h1v3h-1zM1298 177h1v8h-1zM1300 182h1v4h-1z" fill="#F23645"/><path d="M1301 179h1v9h-1z" fill="#089981"/><path d="M1303 180h1v1h-1zM1304 179h1v5h-1zM1305 183h1v8h-1z" fill="#F23645"/><path d="M1307 172h1v17h-1z" fill="#089981"/><path d="M1308 174h1v19h-1zM1310 187h1v9h-1z" fill="#F23645"/><path d="M1311 187h1v9h-1zM1313 185h1v7h-1z" fill="#089981"/><path d="M1314 185h1v14h-1zM1316 194h1v5h-1zM1317 195h1v8h-1z" fill="#F23645"/><path d="M1318 199h1v3h-1zM1320 192h1v9h-1zM1321 190h1v6h-1z" fill="#089981"/><path d="M1323 191h1v5h-1zM1324 192h1v2h-1zM1326 192h1v5h-1zM1327 194h1v3h-1z" fill="#F23645"/><path d="M1328 190h1v7h-1zM1330 189h1v4h-1z" fill="#089981"/><path d="M1331 190h1v15h-1z" fill="#F23645"/><path d="M1333 200h1v5h-1z" fill="#089981"/><path d="M1334 200h1v2h-1z" fill="#F23645"/><path d="M1336 193h1v9h-1z" fill="#089981"/><path d="M1337 193h1v11h-1z" fill="#F23645"/><path d="M1338 194h1v10h-1z" fill="#089981"/><path d="M1340 193h1v10h-1z" fill="#F23645"/><path d="M1341 193h1v9h-1z" fill="#089981"/><path d="M1343 195h1v8h-1zM1344 199h1v9h-1z" fill="#F23645"/><path d="M1346 199h1v9h-1z" fill="#089981"/><path d="M1347 201h1v16h-1zM1349 204h1v5h-1z" fill="#F23645"/><path d="M1350 199h1v11h-1zM1351 194h1v7h-1zM1353 192h1v6h-1zM1354 191h1v6h-1z" fill="#089981"/><path d="M1356 191h1v9h-1z" fill="#F23645"/><path d="M1357 192h1v8h-1z" fill="#089981"/><path d="M1359 191h1v10h-1zM1360 199h1v4h-1z" fill="#F23645"/><path d="M1361 189h1v14h-1z" fill="#089981"/><path d="M1363 189h1v6h-1z" fill="#F23645"/><path d="M1364 190h1v4h-1zM1366 186h1v7h-1z" fill="#089981"/><path d="M1367 185h1v6h-1zM1369 188h1v6h-1zM1370 189h1v6h-1zM1371 193h1v3h-1z" fill="#F23645"/><path d="M1373 183h1v15h-1z" fill="#089981"/><path d="M1374 179h1v6h-1zM1376 183h1v7h-1zM1377 188h1v7h-1z" fill="#F23645"/><path d="M1379 171h1v24h-1z" fill="#089981"/><path d="M1380 173h1v15h-1z" fill="#F23645"/><path d="M1382 181h1v7h-1z" fill="#089981"/><path d="M1383 180h1v10h-1z" fill="#F23645"/><path d="M1384 183h1v8h-1zM1386 182h1v8h-1z" fill="#089981"/><path d="M1387 181h1v7h-1zM1389 185h1v9h-1z" fill="#F23645"/><path d="M1390 184h1v11h-1zM1392 173h1v15h-1z" fill="#089981"/><path d="M1393 173h1v12h-1z" fill="#F23645"/><path d="M1394 174h1v11h-1z" fill="#089981"/><path d="M1396 177h1v5h-1zM1397 180h1v6h-1zM1399 184h1v4h-1zM1400 185h1v7h-1zM1402 191h1v3h-1zM1403 193h1v8h-1zM1404 195h1v8h-1zM1406 198h1v5h-1z" fill="#F23645"/><path d="M1407 189h1v16h-1z" fill="#089981"/><path d="M1409 189h1v7h-1zM1410 193h1v14h-1zM1412 205h1v20h-1zM1413 222h1v16h-1zM1415 234h1v34h-1zM1416 262h1v8h-1z" fill="#F23645"/><path d="M1417 266h1v3h-1zM1419 266h1v3h-1zM1420 257h1v12h-1z" fill="#089981"/><path d="M1422 257h1v3h-1zM1423 256h1v23h-1zM1425 276h1v7h-1zM1426 282h1v12h-1z" fill="#F23645"/><path d="M1427 258h1v36h-1z" fill="#089981"/><path d="M1429 258h1v6h-1z" fill="#F23645"/><path d="M1430 258h1v6h-1z" fill="#089981"/><path d="M1432 258h1v37h-1zM1433 281h1v14h-1zM1435 292h1v7h-1zM1436 293h1v4h-1zM1437 293h1v13h-1z" fill="#F23645"/><path d="M1439 294h1v19h-1z" fill="#089981"/><path d="M1440 295h1v10h-1z" fill="#F23645"/><path d="M1442 301h1v4h-1zM1443 297h1v7h-1zM1445 293h1v7h-1zM1446 293h1v8h-1zM1448 284h1v13h-1z" fill="#089981"/><path d="M1449 284h1v15h-1zM1450 285h1v20h-1z" fill="#F23645"/><path d="M1452 301h1v5h-1z" fill="#089981"/><path d="M1453 302h1v14h-1zM1455 309h1v14h-1z" fill="#F23645"/><path d="M1456 305h1v20h-1z" fill="#089981"/><path d="M1458 303h1v12h-1zM1459 311h1v7h-1z" fill="#F23645"/><path d="M1460 308h1v12h-1z" fill="#089981"/><path d="M1462 313h1v11h-1zM1463 318h1v6h-1zM1465 322h1v12h-1zM1466 328h1v15h-1zM1468 338h1v9h-1zM1469 344h1v8h-1zM1470 347h1v24h-1z" fill="#F23645"/><path d="M1472 356h1v15h-1z" fill="#089981"/><path d="M1473 356h1v32h-1z" fill="#F23645"/><path d="M1475 355h1v15h-1z" fill="#089981"/><path d="M1476 354h1v16h-1zM1478 367h1v10h-1z" fill="#F23645"/><path d="M1479 376h1v1h-1zM1481 361h1v16h-1zM1482 355h1v13h-1z" fill="#089981"/><path d="M1483 358h1v11h-1z" fill="#F23645"/><path d="M1485 358h1v9h-1z" fill="#089981"/><path d="M1486 356h1v13h-1z" fill="#F23645"/><path d="M1488 350h1v19h-1z" fill="#089981"/><path d="M1489 351h1v16h-1zM1491 365h1v3h-1z" fill="#F23645"/><path d="M1492 365h1v8h-1zM1493 356h1v14h-1z" fill="#089981"/><path d="M1495 355h1v10h-1zM1496 361h1v6h-1zM1498 362h1v10h-1z" fill="#F23645"/><path d="M1499 367h1v4h-1zM1501 365h1v5h-1z" fill="#089981"/><path d="M1502 363h1v4h-1zM1504 366h1v8h-1z" fill="#F23645"/><path d="M1505 349h1v27h-1zM1506 349h1v1h-1zM1508 349h1v1h-1z" fill="#089981"/><path d="M1509 349h1v8h-1z" fill="#F23645"/><path d="M1511 346h1v10h-1z" fill="#089981"/><path d="M1512 344h1v18h-1z" fill="#F23645"/><path d="M1514 357h1v5h-1zM1515 350h1v12h-1zM1516 344h1v9h-1z" fill="#089981"/><path d="M1518 342h1v7h-1z" fill="#F23645"/><path d="M1519 343h1v6h-1zM1521 341h1v4h-1zM1522 333h1v10h-1z" fill="#089981"/><path d="M1524 334h1v7h-1z" fill="#F23645"/><path d="M1525 319h1v23h-1z" fill="#089981"/><path d="M1526 317h1v22h-1z" fill="#F23645"/><path d="M1528 317h1v19h-1z" fill="#089981"/><path d="M1529 317h1v7h-1zM1531 320h1v8h-1zM1532 321h1v25h-1z" fill="#F23645"/><path d="M1534 330h1v16h-1z" fill="#089981"/><path d="M1535 330h1v27h-1z" fill="#F23645"/><path d="M1537 335h1v23h-1z" fill="#089981"/><path d="M1538 335h1v28h-1zM1539 359h1v10h-1zM1541 361h1v10h-1zM1542 370h1v8h-1zM1544 375h1v6h-1z" fill="#F23645"/><path d="M1545 368h1v14h-1zM1547 349h1v25h-1z" fill="#089981"/><path d="M1548 349h1v17h-1z" fill="#F23645"/><path d="M1549 363h1v3h-1zM1551 353h1v12h-1z" fill="#089981"/><path d="M1552 352h1v24h-1z" fill="#F23645"/><path d="M1554 365h1v10h-1z" fill="#089981"/><path d="M1555 362h1v16h-1zM1557 375h1v6h-1z" fill="#F23645"/><path d="M1558 372h1v8h-1z" fill="#089981"/><path d="M1559 373h1v15h-1z" fill="#F23645"/><path d="M1561 381h1v30h-1z" fill="#089981"/><path d="M1562 377h1v17h-1z" fill="#F23645"/><path d="M1564 385h1v9h-1zM1565 383h1v13h-1z" fill="#089981"/><path d="M1567 385h1v13h-1z" fill="#F23645"/><path d="M1568 375h1v22h-1zM1570 359h1v19h-1z" fill="#089981"/><path d="M1571 360h1v6h-1z" fill="#F23645"/><path d="M1572 357h1v8h-1z" fill="#089981"/><path d="M1574 357h1v7h-1zM1575 359h1v8h-1z" fill="#F23645"/><path d="M1577 362h1v5h-1zM1578 362h1v5h-1zM1580 355h1v9h-1z" fill="#089981"/><path d="M1581 353h1v11h-1zM1582 361h1v9h-1z" fill="#F23645"/><path d="M1584 360h1v10h-1z" fill="#089981"/><path d="M1585 360h1v5h-1z" fill="#F23645"/><path d="M1587 362h1v6h-1z" fill="#089981"/><path d="M1588 361h1v11h-1z" fill="#F23645"/><path d="M1590 367h1v4h-1zM1591 357h1v12h-1z" fill="#089981"/><path d="M1592 358h1v6h-1z" fill="#F23645"/><path d="M1594 358h1v6h-1z" fill="#089981"/><path d="M1595 359h1v12h-1zM1597 367h1v11h-1zM1598 377h1v7h-1z" fill="#F23645"/><path d="M1600 381h1v4h-1zM1601 377h1v6h-1zM1603 370h1v9h-1z" fill="#089981"/><path d="M1604 371h1v9h-1z" fill="#F23645"/><path d="M1605 376h1v5h-1z" fill="#089981"/><path d="M1607 376h1v5h-1z" fill="#F23645"/><path d="M1608 372h1v8h-1z" fill="#089981"/><path d="M1610 376h1v2h-1z" fill="#F23645"/><path d="M1611 373h1v6h-1zM1613 371h1v5h-1zM1614 368h1v8h-1z" fill="#089981"/><path d="M1615 369h1v9h-1z" fill="#F23645"/><path d="M1617 370h1v8h-1zM1618 367h1v4h-1z" fill="#089981"/><path d="M1620 367h1v7h-1z" fill="#F23645"/><path d="M1621 364h1v11h-1zM1623 354h1v12h-1z" fill="#089981"/><path d="M1624 356h1v15h-1zM1625 366h1v5h-1zM1627 369h1v5h-1z" fill="#F23645"/><path d="M1628 367h1v5h-1z" fill="#089981"/><path d="M1630 367h1v4h-1z" fill="#F23645"/><path d="M1631 366h1v4h-1zM1633 364h1v7h-1z" fill="#089981"/><path d="M1634 367h1v9h-1z" fill="#F23645"/><path d="M1636 368h1v9h-1zM1637 367h1v3h-1z" fill="#089981"/><path d="M1638 367h1v5h-1zM1640 366h1v18h-1zM1641 381h1v3h-1z" fill="#F23645"/><path d="M1643 377h1v9h-1z" fill="#089981"/><path d="M1644 377h1v4h-1zM1646 377h1v5h-1zM1647 379h1v6h-1z" fill="#F23645"/><path d="M1648 370h1v16h-1z" fill="#089981"/><path d="M1650 372h1v12h-1z" fill="#F23645"/><path d="M1651 376h1v7h-1zM1653 370h1v10h-1zM1654 372h1v3h-1z" fill="#089981"/><path d="M1656 372h1v6h-1zM1657 376h1v7h-1z" fill="#F23645"/><path d="M1658 373h1v9h-1z" fill="#089981"/><path d="M1660 373h1v3h-1z" fill="#F23645"/><path d="M1661 368h1v10h-1z" fill="#089981"/><path d="M1663 368h1v10h-1zM1664 376h1v9h-1z" fill="#F23645"/><path d="M1666 363h1v17h-1zM1667 363h1v2h-1z" fill="#089981"/><path d="M1669 363h1v7h-1z" fill="#F23645"/><path d="M1670 357h1v14h-1z" fill="#089981"/><path d="M1671 358h1v8h-1zM1673 362h1v7h-1z" fill="#F23645"/><path d="M1674 359h1v10h-1z" fill="#089981"/><path d="M1676 359h1v11h-1zM1677 365h1v9h-1zM1679 372h1v9h-1z" fill="#F23645"/><path d="M1680 366h1v15h-1z" fill="#089981"/><path d="M1681 368h1v9h-1z" fill="#F23645"/><path d="M1683 371h1v6h-1zM1684 342h1v30h-1zM1686 355h1v5h-1zM1687 351h1v5h-1z" fill="#089981"/><path d="M1689 353h1v6h-1z" fill="#F23645"/><path d="M1690 348h1v12h-1z" fill="#089981"/><path d="M1691 346h1v6h-1zM1693 349h1v7h-1zM1694 355h1v7h-1zM1696 357h1v18h-1z" fill="#F23645"/><path d="M1697 361h1v9h-1z" fill="#089981"/><path d="M1699 360h1v25h-1z" fill="#F23645"/><path d="M1700 378h1v6h-1zM1702 377h1v6h-1z" fill="#089981"/><path d="M1703 379h1v20h-1z" fill="#F23645"/><path d="M1704 392h1v6h-1z" fill="#089981"/><path d="M1706 394h1v12h-1z" fill="#F23645"/><path d="M1707 403h1v3h-1zM1709 386h1v20h-1zM1710 381h1v12h-1z" fill="#089981"/><path d="M1712 381h1v21h-1z" fill="#F23645"/><path d="M1713 389h1v14h-1zM1714 383h1v8h-1z" fill="#089981"/><path d="M1716 382h1v13h-1z" fill="#F23645"/><path d="M1717 390h1v6h-1zM1719 387h1v6h-1z" fill="#089981"/><path d="M1720 386h1v5h-1zM1722 389h1v8h-1zM1723 391h1v7h-1zM1725 396h1v5h-1z" fill="#F23645"/><path d="M1726 390h1v13h-1zM1727 387h1v6h-1z" fill="#089981"/><path d="M1729 387h1v14h-1zM1730 393h1v3h-1zM1732 393h1v6h-1z" fill="#F23645"/><path d="M1733 388h1v13h-1zM1735 385h1v9h-1zM1736 376h1v11h-1z" fill="#089981"/><path d="M1737 378h1v18h-1z" fill="#F23645"/><path d="M1739 382h1v15h-1z" fill="#089981"/><path d="M1740 383h1v15h-1z" fill="#F23645"/><path d="M1742 392h1v6h-1z" fill="#089981"/><path d="M1743 392h1v9h-1zM1745 392h1v17h-1z" fill="#F23645"/><path d="M1746 392h1v16h-1z" fill="#089981"/><path d="M1747 392h1v10h-1z" fill="#F23645"/><path d="M1749 394h1v13h-1z" fill="#089981"/><path d="M1750 395h1v30h-1zM1752 421h1v8h-1zM1753 426h1v12h-1zM1755 431h1v40h-1zM1756 447h1v12h-1z" fill="#F23645"/><path d="M1758 456h1v5h-1zM1759 447h1v10h-1zM1760 431h1v19h-1zM1762 430h1v5h-1z" fill="#089981"/><path d="M1763 430h1v12h-1z" fill="#F23645"/><path d="M1765 423h1v18h-1zM1766 420h1v7h-1zM1768 418h1v8h-1zM1769 419h1v3h-1z" fill="#089981"/><path d="M1770 418h1v19h-1z" fill="#F23645"/><path d="M1772 434h1v5h-1z" fill="#089981"/><path d="M1773 433h1v5h-1zM1775 435h1v8h-1zM1776 440h1v11h-1zM1778 441h1v10h-1z" fill="#F23645"/><path d="M1779 440h1v11h-1zM1780 435h1v9h-1zM1782 427h1v10h-1z" fill="#089981"/><path d="M1783 426h1v20h-1z" fill="#F23645"/><path d="M1785 433h1v9h-1zM1786 425h1v9h-1z" fill="#089981"/><path d="M1788 425h1v9h-1z" fill="#F23645"/><path d="M1789 422h1v10h-1z" fill="#089981"/><path d="M1791 424h1v10h-1zM1792 431h1v5h-1z" fill="#F23645"/><path d="M1793 411h1v23h-1zM1795 410h1v9h-1z" fill="#089981"/><path d="M1796 409h1v3h-1z" fill="#F23645"/><path d="M1798 403h1v9h-1z" fill="#089981"/><path d="M1799 402h1v9h-1zM1801 405h1v12h-1z" fill="#F23645"/><path d="M1802 410h1v5h-1zM1803 402h1v12h-1z" fill="#089981"/><path d="M1805 402h1v3h-1zM1806 403h1v21h-1z" fill="#F23645"/><path d="M1808 410h1v11h-1z" fill="#089981"/><path d="M1809 408h1v16h-1zM1811 421h1v9h-1z" fill="#F23645"/><path d="M1812 424h1v8h-1zM1813 419h1v8h-1z" fill="#089981"/><path d="M1815 420h1v11h-1z" fill="#F23645"/><path d="M1816 424h1v7h-1z" fill="#089981"/><path d="M1818 422h1v8h-1zM1819 427h1v7h-1z" fill="#F23645"/><path d="M1821 425h1v8h-1z" fill="#089981"/><path d="M1822 427h1v3h-1z" fill="#F23645"/><path d="M1824 426h1v7h-1zM1825 419h1v10h-1z" fill="#089981"/><path d="M1826 419h1v9h-1zM1828 426h1v7h-1z" fill="#F23645"/><path d="M1829 422h1v10h-1z" fill="#089981"/><path d="M1831 424h1v12h-1zM1832 434h1v7h-1zM1834 435h1v4h-1z" fill="#F23645"/><path d="M1835 432h1v7h-1z" fill="#089981"/><path d="M1836 432h1v28h-1zM1838 452h1v10h-1zM1839 460h1v5h-1z" fill="#F23645"/><path d="M1841 463h1v3h-1zM1842 453h1v17h-1z" fill="#089981"/><path d="M1844 453h1v9h-1z" fill="#F23645"/><path d="M1845 453h1v10h-1z" fill="#089981"/><path d="M1846 455h1v28h-1z" fill="#F23645"/><path d="M1848 469h1v12h-1z" fill="#089981"/><path d="M1849 470h1v25h-1z" fill="#F23645"/><path d="M1851 470h1v17h-1zM1852 467h1v9h-1z" fill="#089981"/><path d="M1854 468h1v8h-1zM1855 474h1v23h-1zM1857 483h1v9h-1z" fill="#F23645"/><path d="M1858 484h1v6h-1zM1859 467h1v20h-1z" fill="#089981"/><path d="M1861 465h1v21h-1z" fill="#F23645"/><path d="M1862 471h1v15h-1z" fill="#089981"/><path d="M1864 465h1v19h-1z" fill="#F23645"/><path d="M1865 471h1v15h-1zM1867 456h1v19h-1zM1868 447h1v13h-1zM1869 434h1v20h-1z" fill="#089981"/><path d="M1871 432h1v39h-1z" fill="#F23645"/><path d="M1872 468h1v3h-1z" fill="#089981"/><path d="M1874 469h1v12h-1z" fill="#F23645"/><path d="M1875 464h1v21h-1z" fill="#089981"/><path d="M1877 471h1v12h-1z" fill="#F23645"/><path d="M1878 474h1v8h-1z" fill="#089981"/><path d="M1879 469h1v27h-1zM1881 481h1v5h-1z" fill="#F23645"/><path d="M1882 481h1v5h-1z" fill="#089981"/><path d="M1884 479h1v8h-1z" fill="#F23645"/><path d="M1885 471h1v15h-1zM1887 461h1v14h-1zM1888 451h1v14h-1z" fill="#089981"/><path d="M1890 455h1v18h-1z" fill="#F23645"/><path d="M1891 457h1v15h-1z" fill="#089981"/><path d="M1892 463h1v25h-1z" fill="#F23645"/><path d="M1894 462h1v25h-1z" fill="#089981"/><path d="M1895 468h1v7h-1zM1897 473h1v15h-1zM1898 485h1v31h-1zM1900 487h1v18h-1z" fill="#F23645"/><path d="M1901 502h1v3h-1zM1902 468h1v37h-1zM1904 467h1v4h-1z" fill="#089981"/><path d="M1905 467h1v13h-1zM1907 477h1v14h-1z" fill="#F23645"/><path d="M1908 490h1v1h-1zM1910 480h1v11h-1zM1911 462h1v23h-1z" fill="#089981"/><path d="M1912 462h1v22h-1z" fill="#F23645"/><path d="M19 366h2v3h-2zM21 357h2v9h-2zM22 355h2v2h-2zM23 349h2v6h-2zM25 344h2v5h-2z" fill="#089981"/><path d="M26 344h2v7h-2zM28 351h2v5h-2z" fill="#F23645"/><path d="M29 355h2v1h-2z" fill="#089981"/><path d="M31 355h2v3h-2z" fill="#F23645"/><path d="M32 357h2v1h-2zM33 355h2v2h-2z" fill="#089981"/><path d="M35 355h2v2h-2z" fill="#F23645"/><path d="M36 356h2v1h-2z" fill="#089981"/><path d="M38 356h2v2h-2z" fill="#F23645"/><path d="M39 355h2v3h-2zM41 352h2v3h-2z" fill="#089981"/><path d="M42 352h2v5h-2z" fill="#F23645"/><path d="M44 352h2v5h-2zM45 343h2v9h-2z" fill="#089981"/><path d="M46 343h2v1h-2z" fill="#F23645"/><path d="M48 340h2v3h-2z" fill="#089981"/><path d="M49 340h2v3h-2z" fill="#F23645"/><path d="M51 340h2v3h-2zM52 339h2v1h-2z" fill="#089981"/><path d="M54 339h2v1h-2zM55 340h2v4h-2zM56 344h2v1h-2z" fill="#F23645"/><path d="M58 343h2v2h-2z" fill="#089981"/><path d="M59 343h2v1h-2z" fill="#F23645"/><path d="M61 340h2v4h-2z" fill="#089981"/><path d="M62 340h2v5h-2z" fill="#F23645"/><path d="M64 339h2v6h-2z" fill="#089981"/><path d="M65 339h2v1h-2zM67 340h2v1h-2zM68 341h2v1h-2zM69 341h2v5h-2z" fill="#F23645"/><path d="M71 336h2v10h-2z" fill="#089981"/><path d="M72 336h2v7h-2zM74 343h2v4h-2zM75 347h2v1h-2z" fill="#F23645"/><path d="M77 341h2v6h-2z" fill="#089981"/><path d="M78 341h2v6h-2zM79 347h2v7h-2z" fill="#F23645"/><path d="M81 344h2v10h-2z" fill="#089981"/><path d="M82 344h2v4h-2zM84 348h2v3h-2z" fill="#F23645"/><path d="M85 346h2v5h-2z" fill="#089981"/><path d="M87 346h2v5h-2z" fill="#F23645"/><path d="M88 348h2v3h-2z" fill="#089981"/><path d="M89 348h2v1h-2zM91 349h2v1h-2zM92 350h2v3h-2z" fill="#F23645"/><path d="M94 352h2v1h-2z" fill="#089981"/><path d="M95 352h2v3h-2z" fill="#F23645"/><path d="M97 348h2v7h-2zM98 346h2v2h-2z" fill="#089981"/><path d="M100 346h2v1h-2z" fill="#F23645"/><path d="M101 345h2v2h-2zM102 339h2v6h-2z" fill="#089981"/><path d="M104 339h2v6h-2z" fill="#F23645"/><path d="M105 343h2v2h-2z" fill="#089981"/><path d="M107 343h2v5h-2zM108 348h2v2h-2zM110 350h2v5h-2z" fill="#F23645"/><path d="M111 354h2v1h-2zM112 347h2v7h-2zM114 344h2v3h-2z" fill="#089981"/><path d="M115 344h2v5h-2z" fill="#F23645"/><path d="M117 345h2v4h-2z" fill="#089981"/><path d="M118 345h2v3h-2z" fill="#F23645"/><path d="M120 344h2v4h-2zM121 340h2v4h-2z" fill="#089981"/><path d="M122 340h2v7h-2z" fill="#F23645"/><path d="M124 344h2v3h-2zM125 338h2v6h-2z" fill="#089981"/><path d="M127 338h2v12h-2z" fill="#F23645"/><path d="M128 336h2v14h-2z" fill="#089981"/><path d="M130 336h2v3h-2z" fill="#F23645"/><path d="M131 335h2v4h-2zM133 329h2v6h-2zM134 321h2v8h-2z" fill="#089981"/><path d="M135 321h2v8h-2z" fill="#F23645"/><path d="M137 321h2v8h-2zM138 320h2v1h-2z" fill="#089981"/><path d="M140 320h2v5h-2zM141 325h2v6h-2zM143 331h2v1h-2zM144 332h2v3h-2z" fill="#F23645"/><path d="M145 331h2v4h-2zM147 331h2v1h-2zM148 327h2v4h-2z" fill="#089981"/><path d="M150 327h2v3h-2zM151 330h2v4h-2z" fill="#F23645"/><path d="M153 331h2v3h-2zM154 329h2v2h-2zM155 325h2v4h-2z" fill="#089981"/><path d="M157 325h2v1h-2zM158 325h2v4h-2zM160 329h2v1h-2zM161 329h2v3h-2z" fill="#F23645"/><path d="M163 332h2v1h-2z" fill="#089981"/><path d="M164 332h2v6h-2z" fill="#F23645"/><path d="M166 333h2v5h-2zM167 333h2v1h-2zM168 331h2v2h-2z" fill="#089981"/><path d="M170 331h2v3h-2zM171 334h2v2h-2z" fill="#F23645"/><path d="M173 332h2v4h-2z" fill="#089981"/><path d="M174 332h2v3h-2zM176 335h2v5h-2z" fill="#F23645"/><path d="M177 337h2v3h-2zM178 331h2v6h-2z" fill="#089981"/><path d="M180 331h2v1h-2z" fill="#F23645"/><path d="M181 330h2v2h-2z" fill="#089981"/><path d="M183 330h2v3h-2zM184 333h2v5h-2zM186 338h2v1h-2z" fill="#F23645"/><path d="M187 334h2v5h-2zM188 333h2v1h-2z" fill="#089981"/><path d="M190 333h2v3h-2zM191 336h2v1h-2z" fill="#F23645"/><path d="M193 332h2v4h-2z" fill="#089981"/><path d="M194 332h2v11h-2z" fill="#F23645"/><path d="M196 342h2v1h-2z" fill="#089981"/><path d="M197 342h2v2h-2z" fill="#F23645"/><path d="M199 337h2v7h-2z" fill="#089981"/><path d="M200 337h2v7h-2z" fill="#F23645"/><path d="M201 343h2v1h-2z" fill="#089981"/><path d="M203 343h2v9h-2z" fill="#F23645"/><path d="M204 350h2v2h-2z" fill="#089981"/><path d="M206 350h2v1h-2z" fill="#F23645"/><path d="M207 349h2v2h-2zM209 348h2v1h-2z" fill="#089981"/><path d="M210 348h2v3h-2zM211 351h2v1h-2zM213 352h2v2h-2z" fill="#F23645"/><path d="M214 347h2v7h-2zM216 342h2v5h-2z" fill="#089981"/><path d="M217 342h2v1h-2zM219 343h2v3h-2zM220 346h2v4h-2zM221 350h2v1h-2z" fill="#F23645"/><path d="M223 343h2v8h-2z" fill="#089981"/><path d="M224 343h2v8h-2zM226 351h2v6h-2z" fill="#F23645"/><path d="M227 355h2v2h-2zM229 351h2v4h-2z" fill="#089981"/><path d="M230 351h2v1h-2z" fill="#F23645"/><path d="M232 347h2v4h-2z" fill="#089981"/><path d="M233 347h2v1h-2z" fill="#F23645"/><path d="M234 345h2v2h-2z" fill="#089981"/><path d="M236 345h2v5h-2z" fill="#F23645"/><path d="M237 348h2v2h-2zM239 344h2v4h-2z" fill="#089981"/><path d="M240 344h2v4h-2zM242 348h2v3h-2z" fill="#F23645"/><path d="M243 347h2v4h-2zM244 347h2v1h-2zM246 340h2v7h-2z" fill="#089981"/><path d="M247 340h2v10h-2z" fill="#F23645"/><path d="M249 347h2v3h-2zM250 340h2v7h-2zM252 340h2v1h-2z" fill="#089981"/><path d="M253 340h2v4h-2zM254 344h2v4h-2zM256 348h2v1h-2zM257 349h2v6h-2z" fill="#F23645"/><path d="M259 351h2v4h-2zM260 349h2v2h-2z" fill="#089981"/><path d="M262 349h2v7h-2zM263 356h2v1h-2z" fill="#F23645"/><path d="M265 354h2v2h-2z" fill="#089981"/><path d="M266 354h2v4h-2z" fill="#F23645"/><path d="M267 350h2v8h-2zM269 349h2v1h-2z" fill="#089981"/><path d="M270 349h2v5h-2zM272 354h2v3h-2z" fill="#F23645"/><path d="M273 351h2v6h-2z" fill="#089981"/><path d="M275 351h2v5h-2z" fill="#F23645"/><path d="M276 348h2v8h-2z" fill="#089981"/><path d="M277 348h2v1h-2z" fill="#F23645"/><path d="M279 347h2v2h-2zM280 341h2v6h-2zM282 336h2v5h-2zM283 327h2v9h-2zM285 327h2v1h-2z" fill="#089981"/><path d="M286 327h2v2h-2zM288 329h2v9h-2z" fill="#F23645"/><path d="M289 329h2v9h-2zM290 327h2v2h-2z" fill="#089981"/><path d="M292 327h2v2h-2z" fill="#F23645"/><path d="M293 326h2v3h-2z" fill="#089981"/><path d="M295 326h2v11h-2z" fill="#F23645"/><path d="M296 336h2v1h-2zM298 333h2v3h-2z" fill="#089981"/><path d="M299 333h2v5h-2zM300 338h2v25h-2z" fill="#F23645"/><path d="M302 353h2v10h-2zM303 350h2v3h-2z" fill="#089981"/><path d="M305 350h2v6h-2zM306 356h2v2h-2z" fill="#F23645"/><path d="M308 354h2v4h-2zM309 346h2v8h-2zM310 343h2v3h-2z" fill="#089981"/><path d="M312 343h2v7h-2z" fill="#F23645"/><path d="M313 349h2v1h-2zM315 340h2v9h-2z" fill="#089981"/><path d="M316 340h2v12h-2zM318 352h2v1h-2z" fill="#F23645"/><path d="M319 347h2v5h-2zM321 346h2v1h-2z" fill="#089981"/><path d="M322 346h2v2h-2z" fill="#F23645"/><path d="M323 344h2v4h-2zM325 340h2v4h-2z" fill="#089981"/><path d="M326 340h2v8h-2z" fill="#F23645"/><path d="M328 344h2v4h-2z" fill="#089981"/><path d="M329 344h2v1h-2z" fill="#F23645"/><path d="M331 326h2v18h-2z" fill="#089981"/><path d="M332 326h2v1h-2zM333 326h2v4h-2zM335 330h2v12h-2z" fill="#F23645"/><path d="M336 332h2v10h-2zM338 330h2v2h-2z" fill="#089981"/><path d="M339 330h2v4h-2z" fill="#F23645"/><path d="M341 332h2v2h-2zM342 332h2v1h-2z" fill="#089981"/><path d="M343 332h2v5h-2zM345 337h2v3h-2zM346 340h2v4h-2z" fill="#F23645"/><path d="M348 316h2v28h-2z" fill="#089981"/><path d="M349 316h2v9h-2zM351 325h2v5h-2z" fill="#F23645"/><path d="M352 318h2v12h-2zM354 301h2v17h-2z" fill="#089981"/><path d="M355 301h2v10h-2zM356 311h2v7h-2z" fill="#F23645"/><path d="M358 310h2v8h-2z" fill="#089981"/><path d="M359 310h2v19h-2z" fill="#F23645"/><path d="M361 326h2v3h-2zM362 319h2v7h-2z" fill="#089981"/><path d="M364 319h2v1h-2z" fill="#F23645"/><path d="M365 312h2v7h-2zM366 295h2v17h-2zM368 291h2v4h-2zM369 278h2v13h-2zM371 267h2v11h-2zM372 264h2v3h-2zM374 263h2v1h-2zM375 257h2v6h-2zM376 251h2v6h-2z" fill="#089981"/><path d="M378 251h2v23h-2zM379 274h2v2h-2zM381 276h2v8h-2zM382 284h2v10h-2z" fill="#F23645"/><path d="M384 281h2v13h-2zM385 270h2v11h-2zM387 268h2v2h-2z" fill="#089981"/><path d="M388 268h2v13h-2z" fill="#F23645"/><path d="M389 266h2v15h-2z" fill="#089981"/><path d="M391 266h2v3h-2zM392 269h2v7h-2z" fill="#F23645"/><path d="M394 274h2v2h-2z" fill="#089981"/><path d="M395 274h2v2h-2z" fill="#F23645"/><path d="M397 275h2v1h-2zM398 264h2v11h-2z" fill="#089981"/><path d="M399 264h2v7h-2zM401 271h2v6h-2zM402 277h2v4h-2zM404 281h2v7h-2z" fill="#F23645"/><path d="M405 286h2v2h-2z" fill="#089981"/><path d="M407 286h2v3h-2zM408 289h2v8h-2z" fill="#F23645"/><path d="M409 288h2v9h-2z" fill="#089981"/><path d="M411 288h2v1h-2z" fill="#F23645"/><path d="M412 273h2v16h-2z" fill="#089981"/><path d="M414 273h2v14h-2z" fill="#F23645"/><path d="M415 283h2v4h-2z" fill="#089981"/><path d="M417 283h2v1h-2zM418 284h2v5h-2z" fill="#F23645"/><path d="M420 286h2v3h-2zM421 274h2v12h-2z" fill="#089981"/><path d="M422 274h2v2h-2z" fill="#F23645"/><path d="M424 261h2v15h-2z" fill="#089981"/><path d="M425 261h2v10h-2zM427 271h2v4h-2z" fill="#F23645"/><path d="M428 266h2v9h-2z" fill="#089981"/><path d="M430 266h2v24h-2z" fill="#F23645"/><path d="M431 284h2v6h-2z" fill="#089981"/><path d="M432 284h2v13h-2z" fill="#F23645"/><path d="M434 290h2v7h-2z" fill="#089981"/><path d="M435 290h2v9h-2zM437 299h2v3h-2z" fill="#F23645"/><path d="M438 286h2v16h-2zM440 276h2v10h-2z" fill="#089981"/><path d="M441 276h2v7h-2zM442 283h2v8h-2z" fill="#F23645"/><path d="M444 282h2v9h-2zM445 277h2v5h-2z" fill="#089981"/><path d="M447 277h2v4h-2z" fill="#F23645"/><path d="M448 249h2v32h-2zM450 232h2v17h-2zM451 194h2v38h-2z" fill="#089981"/><path d="M453 194h2v1h-2zM454 195h2v9h-2zM455 204h2v3h-2zM457 207h2v6h-2z" fill="#F23645"/><path d="M458 205h2v8h-2z" fill="#089981"/><path d="M460 205h2v7h-2z" fill="#F23645"/><path d="M461 207h2v5h-2zM463 207h2v1h-2z" fill="#089981"/><path d="M464 207h2v1h-2zM465 207h2v16h-2z" fill="#F23645"/><path d="M467 218h2v5h-2z" fill="#089981"/><path d="M468 218h2v1h-2z" fill="#F23645"/><path d="M470 211h2v7h-2zM471 192h2v19h-2zM473 187h2v5h-2z" fill="#089981"/><path d="M474 187h2v12h-2zM475 199h2v12h-2z" fill="#F23645"/><path d="M477 207h2v4h-2zM478 201h2v6h-2z" fill="#089981"/><path d="M480 201h2v9h-2zM481 210h2v10h-2z" fill="#F23645"/><path d="M483 201h2v19h-2z" fill="#089981"/><path d="M484 201h2v6h-2z" fill="#F23645"/><path d="M486 204h2v3h-2z" fill="#089981"/><path d="M487 204h2v1h-2z" fill="#F23645"/><path d="M488 199h2v6h-2z" fill="#089981"/><path d="M490 199h2v2h-2z" fill="#F23645"/><path d="M491 183h2v18h-2zM493 183h2v1h-2z" fill="#089981"/><path d="M494 183h2v8h-2zM496 191h2v16h-2zM497 207h2v2h-2z" fill="#F23645"/><path d="M498 207h2v2h-2z" fill="#089981"/><path d="M500 207h2v9h-2zM501 216h2v8h-2z" fill="#F23645"/><path d="M503 202h2v22h-2z" fill="#089981"/><path d="M504 202h2v3h-2zM506 205h2v7h-2z" fill="#F23645"/><path d="M507 211h2v1h-2zM509 206h2v5h-2zM510 196h2v10h-2z" fill="#089981"/><path d="M511 196h2v1h-2zM513 196h2v12h-2zM514 208h2v10h-2z" fill="#F23645"/><path d="M516 216h2v2h-2zM517 207h2v9h-2z" fill="#089981"/><path d="M519 207h2v3h-2zM520 210h2v8h-2zM521 218h2v12h-2zM523 230h2v1h-2z" fill="#F23645"/><path d="M524 224h2v7h-2z" fill="#089981"/><path d="M526 224h2v3h-2z" fill="#F23645"/><path d="M527 214h2v13h-2z" fill="#089981"/><path d="M529 214h2v7h-2zM530 221h2v8h-2z" fill="#F23645"/><path d="M531 219h2v10h-2z" fill="#089981"/><path d="M533 219h2v13h-2z" fill="#F23645"/><path d="M534 229h2v3h-2z" fill="#089981"/><path d="M536 229h2v16h-2zM537 245h2v5h-2zM539 250h2v1h-2zM540 251h2v10h-2z" fill="#F23645"/><path d="M542 250h2v11h-2zM543 244h2v6h-2z" fill="#089981"/><path d="M544 244h2v1h-2zM546 245h2v4h-2z" fill="#F23645"/><path d="M547 247h2v2h-2z" fill="#089981"/><path d="M549 247h2v1h-2z" fill="#F23645"/><path d="M550 242h2v6h-2z" fill="#089981"/><path d="M552 242h2v5h-2zM553 247h2v5h-2z" fill="#F23645"/><path d="M554 243h2v9h-2zM556 235h2v8h-2z" fill="#089981"/><path d="M557 235h2v10h-2zM559 245h2v4h-2z" fill="#F23645"/><path d="M560 240h2v9h-2zM562 228h2v12h-2z" fill="#089981"/><path d="M563 228h2v7h-2zM564 235h2v9h-2z" fill="#F23645"/><path d="M566 224h2v20h-2z" fill="#089981"/><path d="M567 224h2v10h-2z" fill="#F23645"/><path d="M569 232h2v2h-2zM570 231h2v1h-2z" fill="#089981"/><path d="M572 231h2v11h-2z" fill="#F23645"/><path d="M573 232h2v10h-2z" fill="#089981"/><path d="M575 232h2v1h-2z" fill="#F23645"/><path d="M576 232h2v1h-2zM577 219h2v13h-2zM579 207h2v12h-2zM580 202h2v5h-2z" fill="#089981"/><path d="M582 202h2v3h-2z" fill="#F23645"/><path d="M583 202h2v3h-2z" fill="#089981"/><path d="M585 202h2v25h-2z" fill="#F23645"/><path d="M586 223h2v4h-2zM587 217h2v6h-2zM589 212h2v5h-2z" fill="#089981"/><path d="M590 212h2v1h-2zM592 212h2v5h-2z" fill="#F23645"/><path d="M593 213h2v4h-2z" fill="#089981"/><path d="M595 213h2v20h-2z" fill="#F23645"/><path d="M596 219h2v14h-2zM597 218h2v1h-2z" fill="#089981"/><path d="M599 218h2v8h-2zM600 226h2v6h-2z" fill="#F23645"/><path d="M602 228h2v4h-2zM603 209h2v19h-2zM605 208h2v1h-2zM606 208h2v1h-2z" fill="#089981"/><path d="M608 208h2v4h-2z" fill="#F23645"/><path d="M609 211h2v1h-2zM610 201h2v10h-2zM612 195h2v6h-2z" fill="#089981"/><path d="M613 195h2v8h-2z" fill="#F23645"/><path d="M615 194h2v9h-2z" fill="#089981"/><path d="M616 194h2v17h-2z" fill="#F23645"/><path d="M618 206h2v5h-2zM619 197h2v9h-2z" fill="#089981"/><path d="M620 197h2v3h-2z" fill="#F23645"/><path d="M622 184h2v16h-2zM623 180h2v4h-2z" fill="#089981"/><path d="M625 180h2v7h-2zM626 187h2v1h-2z" fill="#F23645"/><path d="M628 180h2v7h-2z" fill="#089981"/><path d="M629 180h2v16h-2z" fill="#F23645"/><path d="M630 187h2v9h-2zM632 180h2v7h-2z" fill="#089981"/><path d="M633 180h2v3h-2z" fill="#F23645"/><path d="M635 179h2v4h-2z" fill="#089981"/><path d="M636 179h2v14h-2zM638 193h2v19h-2zM639 212h2v16h-2zM641 228h2v5h-2zM642 233h2v4h-2zM643 237h2v15h-2z" fill="#F23645"/><path d="M645 244h2v8h-2zM646 219h2v25h-2zM648 216h2v3h-2z" fill="#089981"/><path d="M649 216h2v6h-2zM651 222h2v3h-2z" fill="#F23645"/><path d="M652 209h2v16h-2zM653 206h2v3h-2zM655 199h2v7h-2z" fill="#089981"/><path d="M656 199h2v27h-2z" fill="#F23645"/><path d="M658 222h2v4h-2z" fill="#089981"/><path d="M659 222h2v6h-2zM661 228h2v5h-2zM662 233h2v10h-2zM663 243h2v4h-2z" fill="#F23645"/><path d="M665 243h2v4h-2z" fill="#089981"/><path d="M666 243h2v3h-2z" fill="#F23645"/><path d="M668 239h2v7h-2z" fill="#089981"/><path d="M669 239h2v6h-2z" fill="#F23645"/><path d="M671 230h2v15h-2zM672 228h2v2h-2z" fill="#089981"/><path d="M674 228h2v8h-2zM675 236h2v1h-2z" fill="#F23645"/><path d="M676 223h2v13h-2zM678 210h2v13h-2zM679 210h2v1h-2zM681 206h2v4h-2z" fill="#089981"/><path d="M682 206h2v16h-2z" fill="#F23645"/><path d="M684 219h2v3h-2zM685 219h2v1h-2zM686 213h2v6h-2zM688 206h2v7h-2z" fill="#089981"/><path d="M689 206h2v13h-2zM691 219h2v3h-2z" fill="#F23645"/><path d="M692 212h2v10h-2zM694 202h2v10h-2z" fill="#089981"/><path d="M695 202h2v5h-2z" fill="#F23645"/><path d="M696 200h2v7h-2z" fill="#089981"/><path d="M698 200h2v7h-2z" fill="#F23645"/><path d="M699 196h2v11h-2zM701 182h2v14h-2z" fill="#089981"/><path d="M702 182h2v3h-2zM704 185h2v1h-2zM705 186h2v11h-2z" fill="#F23645"/><path d="M707 186h2v11h-2zM708 181h2v5h-2zM709 178h2v3h-2zM711 171h2v7h-2z" fill="#089981"/><path d="M712 171h2v1h-2zM714 171h2v24h-2z" fill="#F23645"/><path d="M715 192h2v3h-2z" fill="#089981"/><path d="M717 192h2v12h-2z" fill="#F23645"/><path d="M718 201h2v3h-2zM719 186h2v15h-2z" fill="#089981"/><path d="M721 186h2v14h-2z" fill="#F23645"/><path d="M722 195h2v5h-2z" fill="#089981"/><path d="M724 195h2v4h-2z" fill="#F23645"/><path d="M725 189h2v10h-2z" fill="#089981"/><path d="M727 189h2v5h-2z" fill="#F23645"/><path d="M728 184h2v10h-2z" fill="#089981"/><path d="M730 184h2v13h-2zM731 197h2v2h-2zM732 199h2v2h-2zM734 201h2v6h-2z" fill="#F23645"/><path d="M735 206h2v1h-2zM737 203h2v3h-2z" fill="#089981"/><path d="M738 203h2v3h-2z" fill="#F23645"/><path d="M740 206h2v1h-2zM741 189h2v17h-2z" fill="#089981"/><path d="M742 189h2v9h-2zM744 198h2v2h-2z" fill="#F23645"/><path d="M745 189h2v11h-2z" fill="#089981"/><path d="M747 189h2v4h-2z" fill="#F23645"/><path d="M748 179h2v14h-2z" fill="#089981"/><path d="M750 179h2v15h-2z" fill="#F23645"/><path d="M751 183h2v11h-2zM752 176h2v7h-2z" fill="#089981"/><path d="M754 176h2v9h-2z" fill="#F23645"/><path d="M755 178h2v7h-2z" fill="#089981"/><path d="M757 178h2v6h-2z" fill="#F23645"/><path d="M758 170h2v14h-2zM760 165h2v5h-2zM761 153h2v12h-2z" fill="#089981"/><path d="M763 153h2v7h-2zM764 160h2v14h-2z" fill="#F23645"/><path d="M765 172h2v2h-2z" fill="#089981"/><path d="M767 172h2v2h-2z" fill="#F23645"/><path d="M768 152h2v22h-2zM770 138h2v14h-2z" fill="#089981"/><path d="M771 138h2v2h-2zM773 140h2v12h-2zM774 152h2v5h-2z" fill="#F23645"/><path d="M775 156h2v1h-2z" fill="#089981"/><path d="M777 156h2v5h-2z" fill="#F23645"/><path d="M778 154h2v7h-2zM780 151h2v3h-2z" fill="#089981"/><path d="M781 151h2v8h-2z" fill="#F23645"/><path d="M783 149h2v10h-2z" fill="#089981"/><path d="M784 149h2v5h-2zM785 154h2v27h-2z" fill="#F23645"/><path d="M787 175h2v6h-2z" fill="#089981"/><path d="M788 175h2v2h-2z" fill="#F23645"/><path d="M790 165h2v12h-2z" fill="#089981"/><path d="M791 165h2v12h-2z" fill="#F23645"/><path d="M793 148h2v29h-2zM794 147h2v1h-2zM796 145h2v2h-2z" fill="#089981"/><path d="M797 145h2v15h-2z" fill="#F23645"/><path d="M798 153h2v7h-2zM800 148h2v5h-2zM801 141h2v7h-2z" fill="#089981"/><path d="M803 141h2v8h-2z" fill="#F23645"/><path d="M804 137h2v12h-2zM806 112h2v25h-2zM807 106h2v6h-2z" fill="#089981"/><path d="M808 106h2v16h-2zM810 122h2v13h-2zM811 135h2v4h-2z" fill="#F23645"/><path d="M813 137h2v2h-2zM814 135h2v2h-2zM816 124h2v11h-2z" fill="#089981"/><path d="M817 124h2v3h-2z" fill="#F23645"/><path d="M818 114h2v13h-2z" fill="#089981"/><path d="M820 114h2v3h-2z" fill="#F23645"/><path d="M821 104h2v13h-2zM823 88h2v16h-2zM824 81h2v7h-2z" fill="#089981"/><path d="M826 81h2v11h-2z" fill="#F23645"/><path d="M827 89h2v3h-2zM829 80h2v9h-2zM830 78h2v2h-2z" fill="#089981"/><path d="M831 78h2v10h-2zM833 88h2v14h-2zM834 102h2v7h-2z" fill="#F23645"/><path d="M836 97h2v12h-2zM837 96h2v1h-2z" fill="#089981"/><path d="M839 96h2v10h-2zM840 106h2v23h-2z" fill="#F23645"/><path d="M841 120h2v9h-2z" fill="#089981"/><path d="M843 120h2v4h-2z" fill="#F23645"/><path d="M844 119h2v5h-2z" fill="#089981"/><path d="M846 119h2v1h-2z" fill="#F23645"/><path d="M847 105h2v15h-2z" fill="#089981"/><path d="M849 105h2v7h-2zM850 112h2v2h-2zM851 114h2v4h-2zM853 118h2v7h-2zM854 125h2v8h-2z" fill="#F23645"/><path d="M856 121h2v12h-2z" fill="#089981"/><path d="M857 121h2v18h-2zM859 139h2v7h-2z" fill="#F23645"/><path d="M860 145h2v1h-2z" fill="#089981"/><path d="M862 145h2v13h-2z" fill="#F23645"/><path d="M863 158h2v1h-2z" fill="#089981"/><path d="M864 158h2v14h-2z" fill="#F23645"/><path d="M866 170h2v2h-2zM867 169h2v1h-2z" fill="#089981"/><path d="M869 169h2v11h-2zM870 180h2v5h-2z" fill="#F23645"/><path d="M872 174h2v11h-2zM873 169h2v5h-2zM874 160h2v9h-2zM876 158h2v2h-2z" fill="#089981"/><path d="M877 158h2v8h-2zM879 166h2v19h-2z" fill="#F23645"/><path d="M880 174h2v11h-2z" fill="#089981"/><path d="M882 174h2v10h-2z" fill="#F23645"/><path d="M883 175h2v9h-2z" fill="#089981"/><path d="M884 175h2v8h-2zM886 183h2v5h-2z" fill="#F23645"/><path d="M887 176h2v12h-2z" fill="#089981"/><path d="M889 176h2v2h-2zM890 178h2v10h-2z" fill="#F23645"/><path d="M892 179h2v9h-2zM893 169h2v10h-2zM895 167h2v2h-2zM896 167h2v1h-2z" fill="#089981"/><path d="M897 167h2v10h-2zM899 177h2v2h-2zM900 179h2v19h-2zM902 198h2v10h-2z" fill="#F23645"/><path d="M903 197h2v11h-2zM905 193h2v4h-2z" fill="#089981"/><path d="M906 193h2v6h-2z" fill="#F23645"/><path d="M907 195h2v4h-2zM909 192h2v3h-2zM910 177h2v15h-2z" fill="#089981"/><path d="M912 177h2v12h-2z" fill="#F23645"/><path d="M913 180h2v9h-2zM915 174h2v6h-2z" fill="#089981"/><path d="M916 174h2v5h-2zM917 179h2v11h-2zM919 190h2v14h-2z" fill="#F23645"/><path d="M920 194h2v10h-2zM922 182h2v12h-2z" fill="#089981"/><path d="M923 182h2v16h-2z" fill="#F23645"/><path d="M925 187h2v11h-2zM926 179h2v8h-2zM928 169h2v10h-2zM929 166h2v3h-2z" fill="#089981"/><path d="M930 166h2v17h-2z" fill="#F23645"/><path d="M932 177h2v6h-2zM933 173h2v4h-2zM935 173h2v1h-2z" fill="#089981"/><path d="M936 173h2v15h-2z" fill="#F23645"/><path d="M938 181h2v7h-2z" fill="#089981"/><path d="M939 181h2v3h-2z" fill="#F23645"/><path d="M940 177h2v7h-2z" fill="#089981"/><path d="M942 177h2v5h-2z" fill="#F23645"/><path d="M943 177h2v5h-2z" fill="#089981"/><path d="M945 177h2v5h-2zM946 182h2v8h-2z" fill="#F23645"/><path d="M948 183h2v7h-2zM949 174h2v9h-2zM951 167h2v7h-2z" fill="#089981"/><path d="M952 167h2v6h-2z" fill="#F23645"/><path d="M953 172h2v1h-2z" fill="#089981"/><path d="M955 172h2v4h-2zM956 176h2v7h-2z" fill="#F23645"/><path d="M958 181h2v2h-2z" fill="#089981"/><path d="M959 181h2v14h-2z" fill="#F23645"/><path d="M961 193h2v2h-2zM962 188h2v5h-2zM963 186h2v2h-2z" fill="#089981"/><path d="M965 186h2v2h-2z" fill="#F23645"/><path d="M966 185h2v3h-2zM968 181h2v4h-2z" fill="#089981"/><path d="M969 181h2v11h-2z" fill="#F23645"/><path d="M971 186h2v6h-2z" fill="#089981"/><path d="M972 186h2v3h-2zM973 189h2v1h-2zM975 190h2v12h-2zM976 202h2v9h-2zM978 211h2v1h-2zM979 212h2v5h-2z" fill="#F23645"/><path d="M981 214h2v3h-2z" fill="#089981"/><path d="M982 214h2v5h-2z" fill="#F23645"/><path d="M984 217h2v2h-2zM985 213h2v4h-2zM986 212h2v1h-2zM988 211h2v1h-2z" fill="#089981"/><path d="M989 211h2v7h-2z" fill="#F23645"/><path d="M991 213h2v5h-2zM992 205h2v8h-2z" fill="#089981"/><path d="M994 205h2v4h-2z" fill="#F23645"/><path d="M995 203h2v6h-2zM996 196h2v7h-2zM998 187h2v9h-2z" fill="#089981"/><path d="M999 187h2v9h-2zM1001 196h2v1h-2z" fill="#F23645"/><path d="M1002 193h2v3h-2zM1004 188h2v5h-2zM1005 183h2v5h-2z" fill="#089981"/><path d="M1006 183h2v5h-2zM1008 188h2v6h-2z" fill="#F23645"/><path d="M1009 191h2v3h-2zM1011 189h2v2h-2zM1012 186h2v3h-2z" fill="#089981"/><path d="M1014 186h2v11h-2zM1015 197h2v6h-2z" fill="#F23645"/><path d="M1017 201h2v2h-2z" fill="#089981"/><path d="M1018 201h2v11h-2zM1019 212h2v5h-2zM1021 217h2v2h-2z" fill="#F23645"/><path d="M1022 214h2v5h-2zM1024 213h2v1h-2zM1025 207h2v6h-2z" fill="#089981"/><path d="M1027 207h2v8h-2z" fill="#F23645"/><path d="M1028 200h2v15h-2z" fill="#089981"/><path d="M1029 200h2v4h-2zM1031 204h2v2h-2zM1032 206h2v4h-2z" fill="#F23645"/><path d="M1034 202h2v8h-2zM1035 197h2v5h-2z" fill="#089981"/><path d="M1037 197h2v2h-2zM1038 199h2v4h-2zM1039 203h2v10h-2zM1041 213h2v9h-2z" fill="#F23645"/><path d="M1042 220h2v2h-2zM1044 217h2v3h-2zM1045 215h2v2h-2z" fill="#089981"/><path d="M1047 215h2v6h-2z" fill="#F23645"/><path d="M1048 213h2v8h-2zM1050 211h2v2h-2z" fill="#089981"/><path d="M1051 211h2v3h-2z" fill="#F23645"/><path d="M1052 202h2v12h-2zM1054 189h2v13h-2zM1055 188h2v1h-2zM1057 180h2v8h-2zM1058 175h2v5h-2zM1060 173h2v2h-2z" fill="#089981"/><path d="M1061 173h2v4h-2z" fill="#F23645"/><path d="M1062 164h2v13h-2z" fill="#089981"/><path d="M1064 164h2v20h-2zM1065 184h2v15h-2z" fill="#F23645"/><path d="M1067 190h2v9h-2z" fill="#089981"/><path d="M1068 190h2v4h-2zM1070 194h2v10h-2z" fill="#F23645"/><path d="M1071 201h2v3h-2z" fill="#089981"/><path d="M1072 201h2v5h-2z" fill="#F23645"/><path d="M1074 203h2v3h-2zM1075 190h2v13h-2z" fill="#089981"/><path d="M1077 190h2v7h-2z" fill="#F23645"/><path d="M1078 194h2v3h-2z" fill="#089981"/><path d="M1080 194h2v4h-2zM1081 198h2v5h-2z" fill="#F23645"/><path d="M1083 190h2v13h-2zM1084 181h2v9h-2z" fill="#089981"/><path d="M1085 181h2v5h-2zM1087 186h2v6h-2zM1088 192h2v8h-2z" fill="#F23645"/><path d="M1090 184h2v16h-2zM1091 180h2v4h-2zM1093 173h2v7h-2z" fill="#089981"/><path d="M1094 173h2v10h-2z" fill="#F23645"/><path d="M1095 183h2v1h-2zM1097 181h2v2h-2zM1098 178h2v3h-2zM1100 175h2v3h-2zM1101 171h2v4h-2z" fill="#089981"/><path d="M1103 171h2v3h-2z" fill="#F23645"/><path d="M1104 172h2v2h-2z" fill="#089981"/><path d="M1105 172h2v7h-2z" fill="#F23645"/><path d="M1107 172h2v7h-2zM1108 163h2v9h-2zM1110 162h2v1h-2z" fill="#089981"/><path d="M1111 162h2v8h-2z" fill="#F23645"/><path d="M1113 166h2v4h-2zM1114 162h2v4h-2zM1116 162h2v1h-2z" fill="#089981"/><path d="M1117 162h2v8h-2z" fill="#F23645"/><path d="M1118 162h2v8h-2zM1120 161h2v1h-2zM1121 151h2v10h-2z" fill="#089981"/><path d="M1123 151h2v7h-2z" fill="#F23645"/><path d="M1124 154h2v4h-2zM1126 150h2v4h-2z" fill="#089981"/><path d="M1127 150h2v1h-2zM1128 150h2v9h-2z" fill="#F23645"/><path d="M1130 154h2v5h-2zM1131 150h2v4h-2z" fill="#089981"/><path d="M1133 150h2v6h-2z" fill="#F23645"/><path d="M1134 146h2v10h-2zM1136 146h2v1h-2z" fill="#089981"/><path d="M1137 146h2v22h-2z" fill="#F23645"/><path d="M1138 162h2v6h-2zM1140 154h2v8h-2zM1141 151h2v3h-2z" fill="#089981"/><path d="M1143 151h2v9h-2zM1144 160h2v7h-2zM1146 167h2v4h-2zM1147 171h2v3h-2z" fill="#F23645"/><path d="M1149 172h2v2h-2zM1150 164h2v8h-2z" fill="#089981"/><path d="M1151 164h2v1h-2zM1153 164h2v4h-2z" fill="#F23645"/><path d="M1154 165h2v3h-2zM1156 162h2v3h-2z" fill="#089981"/><path d="M1157 162h2v5h-2z" fill="#F23645"/><path d="M1159 163h2v4h-2zM1160 163h2v1h-2zM1161 158h2v5h-2z" fill="#089981"/><path d="M1163 158h2v3h-2zM1164 161h2v1h-2z" fill="#F23645"/><path d="M1166 158h2v4h-2z" fill="#089981"/><path d="M1167 158h2v2h-2zM1169 160h2v6h-2zM1170 166h2v1h-2z" fill="#F23645"/><path d="M1172 161h2v6h-2zM1173 155h2v6h-2zM1174 147h2v8h-2zM1176 145h2v2h-2z" fill="#089981"/><path d="M1177 145h2v5h-2zM1179 150h2v5h-2zM1180 155h2v1h-2zM1182 155h2v1h-2zM1183 156h2v3h-2zM1184 159h2v2h-2z" fill="#F23645"/><path d="M1186 160h2v1h-2z" fill="#089981"/><path d="M1187 160h2v15h-2zM1189 175h2v4h-2z" fill="#F23645"/><path d="M1190 178h2v1h-2z" fill="#089981"/><path d="M1192 178h2v8h-2z" fill="#F23645"/><path d="M1193 182h2v4h-2z" fill="#089981"/><path d="M1194 182h2v2h-2zM1196 184h2v4h-2z" fill="#F23645"/><path d="M1197 185h2v3h-2zM1199 184h2v1h-2zM1200 183h2v1h-2z" fill="#089981"/><path d="M1202 183h2v1h-2zM1203 184h2v1h-2zM1205 185h2v3h-2z" fill="#F23645"/><path d="M1206 187h2v1h-2zM1207 181h2v6h-2z" fill="#089981"/><path d="M1209 181h2v10h-2zM1210 191h2v13h-2z" fill="#F23645"/><path d="M1212 197h2v7h-2zM1213 195h2v2h-2z" fill="#089981"/><path d="M1215 195h2v7h-2z" fill="#F23645"/><path d="M1216 197h2v5h-2zM1217 195h2v2h-2z" fill="#089981"/><path d="M1219 195h2v11h-2zM1220 206h2v2h-2zM1222 208h2v5h-2z" fill="#F23645"/><path d="M1223 211h2v2h-2z" fill="#089981"/><path d="M1225 211h2v6h-2z" fill="#F23645"/><path d="M1226 216h2v1h-2zM1227 215h2v1h-2zM1229 215h2v1h-2zM1230 213h2v2h-2zM1232 206h2v7h-2z" fill="#089981"/><path d="M1233 206h2v1h-2z" fill="#F23645"/><path d="M1235 198h2v9h-2z" fill="#089981"/><path d="M1236 198h2v5h-2z" fill="#F23645"/><path d="M1238 203h2v1h-2zM1239 195h2v8h-2zM1240 189h2v6h-2zM1242 187h2v2h-2zM1243 181h2v6h-2z" fill="#089981"/><path d="M1245 181h2v6h-2zM1246 187h2v5h-2z" fill="#F23645"/><path d="M1248 190h2v2h-2z" fill="#089981"/><path d="M1249 190h2v1h-2z" fill="#F23645"/><path d="M1250 190h2v1h-2zM1252 188h2v2h-2zM1253 187h2v1h-2zM1255 183h2v4h-2zM1256 182h2v1h-2zM1258 177h2v5h-2z" fill="#089981"/><path d="M1259 177h2v2h-2zM1260 179h2v6h-2z" fill="#F23645"/><path d="M1262 181h2v4h-2zM1263 181h2v1h-2z" fill="#089981"/><path d="M1265 181h2v1h-2z" fill="#F23645"/><path d="M1266 171h2v11h-2z" fill="#089981"/><path d="M1268 171h2v5h-2zM1269 176h2v1h-2zM1271 177h2v8h-2z" fill="#F23645"/><path d="M1272 183h2v2h-2zM1273 165h2v18h-2zM1275 161h2v4h-2z" fill="#089981"/><path d="M1276 161h2v1h-2zM1278 161h2v1h-2zM1279 161h2v3h-2z" fill="#F23645"/><path d="M1281 163h2v1h-2z" fill="#089981"/><path d="M1282 163h2v8h-2z" fill="#F23645"/><path d="M1283 165h2v6h-2z" fill="#089981"/><path d="M1285 165h2v9h-2z" fill="#F23645"/><path d="M1286 172h2v2h-2z" fill="#089981"/><path d="M1288 172h2v3h-2zM1289 175h2v6h-2z" fill="#F23645"/><path d="M1291 175h2v6h-2z" fill="#089981"/><path d="M1292 175h2v2h-2zM1293 177h2v8h-2z" fill="#F23645"/><path d="M1295 179h2v6h-2z" fill="#089981"/><path d="M1296 179h2v1h-2zM1298 179h2v4h-2zM1299 183h2v3h-2z" fill="#F23645"/><path d="M1301 180h2v6h-2z" fill="#089981"/><path d="M1302 180h2v1h-2zM1304 181h2v2h-2zM1305 183h2v5h-2z" fill="#F23645"/><path d="M1306 175h2v13h-2z" fill="#089981"/><path d="M1308 175h2v16h-2zM1309 191h2v5h-2z" fill="#F23645"/><path d="M1311 189h2v7h-2zM1312 186h2v3h-2z" fill="#089981"/><path d="M1314 186h2v10h-2zM1315 196h2v1h-2zM1316 197h2v4h-2z" fill="#F23645"/><path d="M1318 200h2v1h-2zM1319 193h2v7h-2zM1321 193h2v1h-2z" fill="#089981"/><path d="M1322 193h2v1h-2zM1324 193h2v1h-2zM1325 193h2v2h-2zM1326 195h2v1h-2z" fill="#F23645"/><path d="M1328 192h2v3h-2zM1329 191h2v1h-2z" fill="#089981"/><path d="M1331 191h2v13h-2z" fill="#F23645"/><path d="M1332 200h2v4h-2z" fill="#089981"/><path d="M1334 200h2v1h-2z" fill="#F23645"/><path d="M1335 194h2v7h-2z" fill="#089981"/><path d="M1337 194h2v9h-2z" fill="#F23645"/><path d="M1338 198h2v5h-2z" fill="#089981"/><path d="M1339 198h2v1h-2z" fill="#F23645"/><path d="M1341 196h2v3h-2z" fill="#089981"/><path d="M1342 196h2v5h-2zM1344 201h2v6h-2z" fill="#F23645"/><path d="M1345 202h2v5h-2z" fill="#089981"/><path d="M1347 202h2v3h-2zM1348 205h2v3h-2z" fill="#F23645"/><path d="M1349 199h2v9h-2zM1351 196h2v3h-2zM1352 196h2v1h-2zM1354 191h2v5h-2z" fill="#089981"/><path d="M1355 191h2v8h-2z" fill="#F23645"/><path d="M1357 193h2v6h-2z" fill="#089981"/><path d="M1358 193h2v7h-2zM1359 200h2v1h-2z" fill="#F23645"/><path d="M1361 190h2v11h-2z" fill="#089981"/><path d="M1362 190h2v3h-2z" fill="#F23645"/><path d="M1364 191h2v2h-2zM1365 187h2v4h-2z" fill="#089981"/><path d="M1367 187h2v2h-2zM1368 189h2v1h-2zM1370 190h2v4h-2zM1371 194h2v2h-2z" fill="#F23645"/><path d="M1372 184h2v12h-2z" fill="#089981"/><path d="M1374 184h2v1h-2zM1375 184h2v5h-2zM1377 189h2v4h-2z" fill="#F23645"/><path d="M1378 174h2v19h-2z" fill="#089981"/><path d="M1380 174h2v13h-2z" fill="#F23645"/><path d="M1381 182h2v5h-2z" fill="#089981"/><path d="M1382 182h2v7h-2z" fill="#F23645"/><path d="M1384 184h2v5h-2zM1385 183h2v1h-2z" fill="#089981"/><path d="M1387 183h2v4h-2zM1388 187h2v6h-2z" fill="#F23645"/><path d="M1390 185h2v8h-2zM1391 174h2v11h-2z" fill="#089981"/><path d="M1393 174h2v10h-2z" fill="#F23645"/><path d="M1394 178h2v6h-2z" fill="#089981"/><path d="M1395 178h2v3h-2zM1397 181h2v4h-2zM1398 185h2v2h-2zM1400 187h2v4h-2zM1401 191h2v3h-2zM1403 194h2v2h-2zM1404 196h2v5h-2zM1405 201h2v2h-2z" fill="#F23645"/><path d="M1407 190h2v13h-2z" fill="#089981"/><path d="M1408 190h2v5h-2zM1410 195h2v11h-2zM1411 206h2v17h-2zM1413 223h2v13h-2zM1414 236h2v27h-2zM1415 263h2v6h-2z" fill="#F23645"/><path d="M1417 268h2v1h-2zM1418 268h2v1h-2zM1420 258h2v10h-2z" fill="#089981"/><path d="M1421 258h2v2h-2zM1423 260h2v18h-2zM1424 278h2v5h-2zM1426 283h2v5h-2z" fill="#F23645"/><path d="M1427 258h2v30h-2z" fill="#089981"/><path d="M1428 258h2v5h-2z" fill="#F23645"/><path d="M1430 258h2v5h-2z" fill="#089981"/><path d="M1431 258h2v33h-2zM1433 291h2v2h-2zM1434 293h2v2h-2zM1436 295h2v1h-2zM1437 296h2v10h-2z" fill="#F23645"/><path d="M1438 296h2v10h-2z" fill="#089981"/><path d="M1440 296h2v8h-2z" fill="#F23645"/><path d="M1441 302h2v2h-2zM1443 299h2v3h-2zM1444 298h2v1h-2zM1446 294h2v4h-2zM1447 285h2v9h-2z" fill="#089981"/><path d="M1448 285h2v13h-2zM1450 298h2v6h-2z" fill="#F23645"/><path d="M1451 302h2v2h-2z" fill="#089981"/><path d="M1453 302h2v11h-2zM1454 313h2v8h-2z" fill="#F23645"/><path d="M1456 306h2v15h-2z" fill="#089981"/><path d="M1457 306h2v7h-2zM1459 313h2v4h-2z" fill="#F23645"/><path d="M1460 314h2v3h-2z" fill="#089981"/><path d="M1461 314h2v8h-2zM1463 322h2v1h-2zM1464 323h2v8h-2zM1466 331h2v8h-2zM1467 339h2v7h-2zM1469 346h2v4h-2zM1470 350h2v20h-2z" fill="#F23645"/><path d="M1471 358h2v12h-2z" fill="#089981"/><path d="M1473 358h2v7h-2z" fill="#F23645"/><path d="M1474 356h2v9h-2z" fill="#089981"/><path d="M1476 356h2v13h-2zM1477 369h2v7h-2z" fill="#F23645"/><path d="M1479 376h2v1h-2zM1480 362h2v14h-2zM1481 358h2v4h-2z" fill="#089981"/><path d="M1483 358h2v9h-2z" fill="#F23645"/><path d="M1484 359h2v8h-2z" fill="#089981"/><path d="M1486 359h2v8h-2z" fill="#F23645"/><path d="M1487 352h2v15h-2z" fill="#089981"/><path d="M1489 352h2v13h-2zM1490 365h2v3h-2z" fill="#F23645"/><path d="M1492 365h2v3h-2zM1493 357h2v8h-2z" fill="#089981"/><path d="M1494 357h2v5h-2zM1496 362h2v4h-2zM1497 366h2v4h-2z" fill="#F23645"/><path d="M1499 369h2v1h-2zM1500 366h2v3h-2z" fill="#089981"/><path d="M1502 366h2v1h-2zM1503 367h2v6h-2z" fill="#F23645"/><path d="M1504 350h2v23h-2zM1506 350h2v1h-2zM1507 350h2v1h-2z" fill="#089981"/><path d="M1509 350h2v5h-2z" fill="#F23645"/><path d="M1510 347h2v8h-2z" fill="#089981"/><path d="M1512 347h2v14h-2z" fill="#F23645"/><path d="M1513 358h2v3h-2zM1514 351h2v7h-2zM1516 346h2v5h-2z" fill="#089981"/><path d="M1517 346h2v2h-2z" fill="#F23645"/><path d="M1519 343h2v5h-2zM1520 343h2v1h-2zM1522 335h2v8h-2z" fill="#089981"/><path d="M1523 335h2v5h-2z" fill="#F23645"/><path d="M1525 321h2v19h-2z" fill="#089981"/><path d="M1526 321h2v14h-2z" fill="#F23645"/><path d="M1527 317h2v18h-2z" fill="#089981"/><path d="M1529 317h2v5h-2zM1530 322h2v3h-2zM1532 325h2v19h-2z" fill="#F23645"/><path d="M1533 331h2v13h-2z" fill="#089981"/><path d="M1535 331h2v24h-2z" fill="#F23645"/><path d="M1536 336h2v19h-2z" fill="#089981"/><path d="M1537 336h2v27h-2zM1539 363h2v4h-2zM1540 367h2v4h-2zM1542 371h2v7h-2zM1543 378h2v3h-2z" fill="#F23645"/><path d="M1545 370h2v11h-2zM1546 350h2v20h-2z" fill="#089981"/><path d="M1547 350h2v15h-2z" fill="#F23645"/><path d="M1549 364h2v1h-2zM1550 354h2v10h-2z" fill="#089981"/><path d="M1552 354h2v19h-2z" fill="#F23645"/><path d="M1553 365h2v8h-2z" fill="#089981"/><path d="M1555 365h2v11h-2zM1556 376h2v3h-2z" fill="#F23645"/><path d="M1558 374h2v5h-2z" fill="#089981"/><path d="M1559 374h2v11h-2z" fill="#F23645"/><path d="M1560 382h2v3h-2z" fill="#089981"/><path d="M1562 382h2v11h-2z" fill="#F23645"/><path d="M1563 389h2v4h-2zM1565 386h2v3h-2z" fill="#089981"/><path d="M1566 386h2v9h-2z" fill="#F23645"/><path d="M1568 376h2v19h-2zM1569 361h2v15h-2z" fill="#089981"/><path d="M1570 361h2v3h-2z" fill="#F23645"/><path d="M1572 360h2v4h-2z" fill="#089981"/><path d="M1573 360h2v4h-2zM1575 364h2v1h-2z" fill="#F23645"/><path d="M1576 364h2v1h-2zM1578 362h2v2h-2zM1579 356h2v6h-2z" fill="#089981"/><path d="M1580 356h2v6h-2zM1582 362h2v6h-2z" fill="#F23645"/><path d="M1583 362h2v6h-2z" fill="#089981"/><path d="M1585 362h2v2h-2z" fill="#F23645"/><path d="M1586 363h2v1h-2z" fill="#089981"/><path d="M1588 363h2v5h-2z" fill="#F23645"/><path d="M1589 368h2v1h-2zM1591 359h2v9h-2z" fill="#089981"/><path d="M1592 359h2v5h-2z" fill="#F23645"/><path d="M1593 360h2v4h-2z" fill="#089981"/><path d="M1595 360h2v8h-2zM1596 368h2v10h-2zM1598 378h2v5h-2z" fill="#F23645"/><path d="M1599 382h2v1h-2zM1601 377h2v5h-2zM1602 372h2v5h-2z" fill="#089981"/><path d="M1603 372h2v7h-2z" fill="#F23645"/><path d="M1605 377h2v2h-2z" fill="#089981"/><path d="M1606 377h2v2h-2z" fill="#F23645"/><path d="M1608 377h2v2h-2z" fill="#089981"/><path d="M1609 377h2v1h-2z" fill="#F23645"/><path d="M1611 374h2v4h-2zM1612 373h2v1h-2zM1614 370h2v3h-2z" fill="#089981"/><path d="M1615 370h2v7h-2z" fill="#F23645"/><path d="M1616 370h2v7h-2zM1618 368h2v2h-2z" fill="#089981"/><path d="M1619 368h2v5h-2z" fill="#F23645"/><path d="M1621 365h2v8h-2zM1622 356h2v9h-2z" fill="#089981"/><path d="M1624 356h2v13h-2zM1625 369h2v1h-2zM1626 369h2v2h-2z" fill="#F23645"/><path d="M1628 368h2v3h-2z" fill="#089981"/><path d="M1629 368h2v1h-2z" fill="#F23645"/><path d="M1631 369h2v1h-2zM1632 367h2v2h-2z" fill="#089981"/><path d="M1634 367h2v9h-2z" fill="#F23645"/><path d="M1635 369h2v7h-2zM1636 368h2v1h-2z" fill="#089981"/><path d="M1638 368h2v1h-2zM1639 369h2v14h-2zM1641 383h2v1h-2z" fill="#F23645"/><path d="M1642 378h2v5h-2z" fill="#089981"/><path d="M1644 378h2v1h-2zM1645 379h2v2h-2zM1647 381h2v3h-2z" fill="#F23645"/><path d="M1648 373h2v11h-2z" fill="#089981"/><path d="M1649 373h2v8h-2z" fill="#F23645"/><path d="M1651 378h2v3h-2zM1652 374h2v4h-2zM1654 373h2v1h-2z" fill="#089981"/><path d="M1655 373h2v4h-2zM1657 377h2v5h-2z" fill="#F23645"/><path d="M1658 374h2v8h-2z" fill="#089981"/><path d="M1659 374h2v1h-2z" fill="#F23645"/><path d="M1661 369h2v6h-2z" fill="#089981"/><path d="M1662 369h2v8h-2zM1664 377h2v2h-2z" fill="#F23645"/><path d="M1665 365h2v14h-2zM1667 364h2v1h-2z" fill="#089981"/><path d="M1668 364h2v6h-2z" fill="#F23645"/><path d="M1669 359h2v11h-2z" fill="#089981"/><path d="M1671 359h2v4h-2zM1672 363h2v5h-2z" fill="#F23645"/><path d="M1674 361h2v7h-2z" fill="#089981"/><path d="M1675 361h2v7h-2zM1677 368h2v5h-2zM1678 373h2v6h-2z" fill="#F23645"/><path d="M1680 369h2v10h-2z" fill="#089981"/><path d="M1681 369h2v7h-2z" fill="#F23645"/><path d="M1682 371h2v5h-2zM1684 360h2v11h-2zM1685 355h2v5h-2zM1687 354h2v1h-2z" fill="#089981"/><path d="M1688 354h2v4h-2z" fill="#F23645"/><path d="M1690 349h2v9h-2z" fill="#089981"/><path d="M1691 349h2v2h-2zM1692 351h2v4h-2zM1694 355h2v6h-2zM1695 361h2v9h-2z" fill="#F23645"/><path d="M1697 362h2v8h-2z" fill="#089981"/><path d="M1698 362h2v22h-2z" fill="#F23645"/><path d="M1700 381h2v3h-2zM1701 380h2v1h-2z" fill="#089981"/><path d="M1702 380h2v17h-2z" fill="#F23645"/><path d="M1704 396h2v1h-2z" fill="#089981"/><path d="M1705 396h2v10h-2z" fill="#F23645"/><path d="M1707 404h2v2h-2zM1708 391h2v13h-2zM1710 382h2v9h-2z" fill="#089981"/><path d="M1711 382h2v19h-2z" fill="#F23645"/><path d="M1713 391h2v10h-2zM1714 384h2v7h-2z" fill="#089981"/><path d="M1715 384h2v8h-2z" fill="#F23645"/><path d="M1717 392h2v1h-2zM1718 387h2v5h-2z" fill="#089981"/><path d="M1720 387h2v3h-2zM1721 390h2v5h-2zM1723 395h2v2h-2zM1724 397h2v4h-2z" fill="#F23645"/><path d="M1725 392h2v9h-2zM1727 389h2v3h-2z" fill="#089981"/><path d="M1728 389h2v5h-2zM1730 394h2v1h-2zM1731 394h2v5h-2z" fill="#F23645"/><path d="M1733 389h2v10h-2zM1734 386h2v3h-2zM1735 379h2v7h-2z" fill="#089981"/><path d="M1737 379h2v16h-2z" fill="#F23645"/><path d="M1738 384h2v11h-2z" fill="#089981"/><path d="M1740 384h2v12h-2z" fill="#F23645"/><path d="M1741 393h2v3h-2z" fill="#089981"/><path d="M1743 393h2v6h-2zM1744 399h2v7h-2z" fill="#F23645"/><path d="M1746 393h2v13h-2z" fill="#089981"/><path d="M1747 393h2v9h-2z" fill="#F23645"/><path d="M1748 396h2v6h-2z" fill="#089981"/><path d="M1750 396h2v26h-2zM1751 422h2v5h-2zM1753 427h2v8h-2zM1754 435h2v12h-2zM1756 447h2v12h-2z" fill="#F23645"/><path d="M1757 457h2v2h-2zM1758 449h2v8h-2zM1760 432h2v17h-2zM1761 430h2v2h-2z" fill="#089981"/><path d="M1763 430h2v11h-2z" fill="#F23645"/><path d="M1764 426h2v15h-2zM1766 424h2v2h-2zM1767 421h2v3h-2zM1768 420h2v1h-2z" fill="#089981"/><path d="M1770 420h2v15h-2z" fill="#F23645"/><path d="M1771 435h2v1h-2z" fill="#089981"/><path d="M1773 435h2v2h-2zM1774 437h2v4h-2zM1776 441h2v7h-2zM1777 448h2v2h-2z" fill="#F23645"/><path d="M1779 442h2v8h-2zM1780 436h2v6h-2zM1781 429h2v7h-2z" fill="#089981"/><path d="M1783 429h2v12h-2z" fill="#F23645"/><path d="M1784 433h2v8h-2zM1786 426h2v7h-2z" fill="#089981"/><path d="M1787 426h2v6h-2z" fill="#F23645"/><path d="M1789 427h2v5h-2z" fill="#089981"/><path d="M1790 427h2v5h-2zM1791 432h2v2h-2z" fill="#F23645"/><path d="M1793 418h2v16h-2zM1794 410h2v8h-2z" fill="#089981"/><path d="M1796 410h2v1h-2z" fill="#F23645"/><path d="M1797 403h2v8h-2z" fill="#089981"/><path d="M1799 403h2v6h-2zM1800 409h2v6h-2z" fill="#F23645"/><path d="M1801 413h2v2h-2zM1803 403h2v10h-2z" fill="#089981"/><path d="M1804 403h2v1h-2zM1806 404h2v16h-2z" fill="#F23645"/><path d="M1807 411h2v9h-2z" fill="#089981"/><path d="M1809 411h2v12h-2zM1810 423h2v6h-2z" fill="#F23645"/><path d="M1812 427h2v2h-2zM1813 422h2v5h-2z" fill="#089981"/><path d="M1814 422h2v8h-2z" fill="#F23645"/><path d="M1816 425h2v5h-2z" fill="#089981"/><path d="M1817 425h2v4h-2zM1819 429h2v3h-2z" fill="#F23645"/><path d="M1820 428h2v4h-2z" fill="#089981"/><path d="M1822 428h2v1h-2z" fill="#F23645"/><path d="M1823 427h2v2h-2zM1824 419h2v8h-2z" fill="#089981"/><path d="M1826 419h2v8h-2zM1827 427h2v4h-2z" fill="#F23645"/><path d="M1829 425h2v6h-2z" fill="#089981"/><path d="M1830 425h2v9h-2zM1832 434h2v4h-2zM1833 438h2v1h-2z" fill="#F23645"/><path d="M1835 432h2v7h-2z" fill="#089981"/><path d="M1836 432h2v21h-2zM1837 453h2v8h-2zM1839 461h2v4h-2z" fill="#F23645"/><path d="M1840 465h2v1h-2zM1842 454h2v11h-2z" fill="#089981"/><path d="M1843 454h2v8h-2z" fill="#F23645"/><path d="M1845 456h2v6h-2z" fill="#089981"/><path d="M1846 456h2v24h-2z" fill="#F23645"/><path d="M1847 472h2v8h-2z" fill="#089981"/><path d="M1849 472h2v12h-2z" fill="#F23645"/><path d="M1850 475h2v9h-2zM1852 471h2v4h-2z" fill="#089981"/><path d="M1853 471h2v4h-2zM1855 475h2v11h-2zM1856 486h2v3h-2z" fill="#F23645"/><path d="M1857 486h2v3h-2zM1859 469h2v17h-2z" fill="#089981"/><path d="M1860 469h2v16h-2z" fill="#F23645"/><path d="M1862 472h2v13h-2z" fill="#089981"/><path d="M1863 472h2v10h-2z" fill="#F23645"/><path d="M1865 473h2v9h-2zM1866 459h2v14h-2zM1868 452h2v7h-2zM1869 436h2v16h-2z" fill="#089981"/><path d="M1870 436h2v35h-2z" fill="#F23645"/><path d="M1872 470h2v1h-2z" fill="#089981"/><path d="M1873 470h2v11h-2z" fill="#F23645"/><path d="M1875 474h2v7h-2z" fill="#089981"/><path d="M1876 474h2v7h-2z" fill="#F23645"/><path d="M1878 477h2v4h-2z" fill="#089981"/><path d="M1879 477h2v6h-2zM1880 483h2v2h-2z" fill="#F23645"/><path d="M1882 482h2v3h-2z" fill="#089981"/><path d="M1883 482h2v3h-2z" fill="#F23645"/><path d="M1885 473h2v12h-2zM1886 464h2v9h-2zM1888 457h2v7h-2z" fill="#089981"/><path d="M1889 457h2v15h-2z" fill="#F23645"/><path d="M1890 466h2v6h-2z" fill="#089981"/><path d="M1892 466h2v20h-2z" fill="#F23645"/><path d="M1893 469h2v17h-2z" fill="#089981"/><path d="M1895 469h2v5h-2zM1896 474h2v12h-2zM1898 486h2v6h-2zM1899 492h2v12h-2z" fill="#F23645"/><path d="M1901 504h2v1h-2zM1902 470h2v34h-2zM1903 469h2v1h-2z" fill="#089981"/><path d="M1905 469h2v9h-2zM1906 478h2v13h-2z" fill="#F23645"/><path d="M1908 491h2v1h-2zM1909 482h2v9h-2zM1911 462h2v20h-2z" fill="#089981"/><path d="M1912 462h2v20h-2z" fill="#F23645"/></g></g>
<g clip-path="url(#clipr)"><polygon points="20.1,959.4 21.6,925.7 23,915.9 24.4,898.6 25.9,887.6 27.3,923.9 28.8,942.3 30.2,942.8 31.6,951 33.1,948.5 34.5,947.7 35.9,957.1 37.4,952.4 38.8,959 40.2,952.7 41.7,946.8 43.1,964.1 44.5,946.7 46,917.8 47.4,911.6 48.8,904.7 50.3,914.9 51.7,907.6 53.1,908.2 54.6,916.7 56,936.9 57.5,939.6 58.9,932.6 60.3,938.1 61.8,927.9 63.2,951.7 64.6,933.3 66.1,930.4 67.5,926.1 68.9,922.3 70.4,948.9 71.8,925.2 73.2,952.7 74.7,965.9 76.1,968.8 77.5,952.7 79,974.3 80.4,996.3 81.9,965.2 83.3,977.8 84.7,985.7 86.2,971.6 87.6,986.6 89,979.5 90.5,986 91.9,990 93.3,996.4 94.8,991.7 96.2,998.7 97.6,971.9 99.1,962 100.5,959.5 101.9,949 103.4,934.8 104.8,959.3 106.2,956.2 107.7,972.9 109.1,981.6 110.6,998 112,996.1 113.4,973.4 114.9,963.5 116.3,976 117.7,959.7 119.2,964.7 120.6,952.4 122,940.1 123.5,967.9 124.9,960.2 126.3,947.9 127.8,976.9 129.2,942.6 130.6,946.2 132.1,932.1 133.5,917.5 134.9,906.8 136.4,928.6 137.8,917.2 139.3,916.3 140.7,931.6 142.1,949.5 143.6,952.8 145,960.6 146.4,951.5 147.9,951.9 149.3,944.6 150.7,953.7 152.2,966.6 153.6,955.6 155,948.3 156.5,935.4 157.9,940 159.3,954 160.8,957.4 162.2,968.1 163.7,967 165.1,985.8 166.5,970.3 168,973.2 169.4,969.8 170.8,981.5 172.3,984.4 173.7,967.1 175.1,982.6 176.6,1000.4 178,988.3 179.4,962.7 180.9,960.6 182.3,949.6 183.7,967.5 185.2,985 186.6,989 188,973.6 189.5,970.7 190.9,982.3 192.4,984.9 193.8,970.7 195.2,1008.7 196.7,1004.1 198.1,1008.1 199.5,982 201,1000.8 202.4,1003 203.8,1031.9 205.3,1029.4 206.7,1026.4 208.1,1011.4 209.6,1007.8 211,1016.8 212.4,1018.2 213.9,1023.2 215.3,991.2 216.7,970.9 218.2,970.1 219.6,978.2 221.1,993.6 222.5,997.1 223.9,973.2 225.4,999.9 226.8,1019 228.2,1005.9 229.7,989.5 231.1,990 232.5,971.9 234,970 235.4,960.5 236.8,977.1 238.3,971.7 239.7,958.5 241.1,973.6 242.6,982.7 244,969.7 245.4,971.5 246.9,951.5 248.3,982.9 249.8,972.8 251.2,955.8 252.6,953.7 254.1,966.9 255.5,976.6 256.9,981 258.4,1002.4 259.8,992.1 261.2,985.5 262.7,1005.3 264.1,1004 265.5,994.2 267,1003.9 268.4,975 269.8,972 271.3,983.6 272.7,992.6 274.2,971.4 275.6,984.1 277,960.9 278.5,964.8 279.9,958.6 281.3,942.3 282.8,919.4 284.2,894.4 285.6,898.4 287.1,911.9 288.5,940.1 289.9,927.6 291.4,927.2 292.8,934.5 294.2,927 295.7,952.1 297.1,952.1 298.5,949 300,973.9 301.4,1022.2 302.9,1004 304.3,1001.8 305.7,1011.7 307.2,1012.8 308.6,1001.3 310,981.4 311.5,973.6 312.9,987.2 314.3,982.1 315.8,964.3 317.2,985.8 318.6,985.6 320.1,974 321.5,970.5 322.9,975.9 324.4,967.4 325.8,959.3 327.2,980.3 328.7,973.6 330.1,962.9 331.6,920.5 333,916.6 334.4,928.3 335.9,957.4 337.3,944.2 338.7,943.5 340.2,957.3 341.6,953 343,950.3 344.5,959.3 345.9,963.2 347.3,968.6 348.8,909.7 350.2,915.1 351.6,930.2 353.1,917.4 354.5,901.3 355.9,923.4 357.4,941.6 358.8,937.9 360.3,974.5 361.7,966.4 363.1,953.2 364.6,946.3 366,928.3 367.4,908.7 368.9,902.7 370.3,890.3 371.7,881.4 373.2,876.7 374.6,874.1 376,870.9 377.5,865.3 378.9,928.3 380.3,942.2 381.8,949 383.2,957.3 384.7,943.3 386.1,933.2 387.5,934.5 389,947.4 390.4,927.7 391.8,931 393.3,944.1 394.7,945.1 396.1,952.1 397.6,956.4 399,942.6 400.4,946.5 401.9,963.7 403.3,970.8 404.7,980.2 406.2,979.8 407.6,985.6 409,997.4 410.5,985.6 411.9,985.6 413.4,955.6 414.8,973.5 416.2,965.1 417.7,965.4 419.1,970.7 420.5,959.9 422,940.6 423.4,943.5 424.8,924.3 426.3,944.1 427.7,954.1 429.1,947.8 430.6,988.6 432,983.7 433.4,1002.7 434.9,992.8 436.3,1001.8 437.7,1005 439.2,977.8 440.6,963.3 442.1,972 443.5,980.9 444.9,967 446.4,959.3 447.8,960 449.2,919.3 450.7,894.7 452.1,868 453.5,865.9 455,890.5 456.4,899 457.8,907.3 459.3,903 460.7,910.6 462.1,906.5 463.6,905.2 465,908.6 466.5,933.4 467.9,928.8 469.3,927.7 470.8,916.7 472.2,898.9 473.6,891 475.1,919.6 476.5,943.5 477.9,942.3 479.4,934.5 480.8,946.4 482.2,959.3 483.7,938.6 485.1,947.4 486.5,945.7 488,942.2 489.4,933.9 490.8,934.3 492.3,909.8 493.7,923.8 495.2,947.9 496.6,971.4 498,975.4 499.5,972.8 500.9,981.1 502.3,991.2 503.8,956.9 505.2,968.7 506.6,975.5 508.1,974 509.5,966.7 510.9,954.6 512.4,954.3 513.8,969 515.2,982.9 516.7,983.1 518.1,970.2 519.5,973.9 521,990.6 522.4,1008.2 523.9,1010.7 525.3,999.2 526.7,1002.2 528.2,978.2 529.6,982.3 531,994.1 532.5,983.9 533.9,1003.2 535.3,1003.8 536.8,1022.8 538.2,1029.1 539.6,1035.1 541.1,1044.2 542.5,1021.4 543.9,1010.2 545.4,1011.5 546.8,1017.2 548.2,1011.3 549.7,1010.8 551.1,994.5 552.6,1000.2 554,1005.6 555.4,989.4 556.9,975.6 558.3,990.4 559.7,993.5 561.2,973 562.6,952.6 564,963.4 565.5,978.2 566.9,947.3 568.3,962.6 569.8,961.2 571.2,962.4 572.6,982.6 574.1,967.1 575.5,961.8 577,950 578.4,927.8 579.8,914.3 581.3,911.5 582.7,922.4 584.1,920.4 585.6,963.2 587,959.2 588.4,953.5 589.9,946.1 591.3,944.1 592.7,954.9 594.2,950.3 595.6,982.1 597,960.5 598.5,961 599.9,975.5 601.3,978.6 602.8,964.5 604.2,935.3 605.7,931.8 607.1,931.4 608.5,942.8 610,940.7 611.4,926.8 612.8,919.8 614.3,934.8 615.7,922 617.1,954.9 618.6,947.7 620,937.3 621.4,943.5 622.9,913.6 624.3,906.6 625.7,915.1 627.2,936 628.6,930.8 630,956.6 631.5,937.9 632.9,925.2 634.4,929.3 635.8,925.9 637.2,955 638.7,999.5 640.1,1017.5 641.5,1025.9 643,1032.3 644.4,1042.3 645.8,1021.3 647.3,989.6 648.7,984.3 650.1,985.7 651.6,983.7 653,964.5 654.4,959.7 655.9,949.8 657.3,981.3 658.7,979.5 660.2,988.7 661.6,996.2 663.1,1009.9 664.5,1015.5 665.9,1014.8 667.4,1015.5 668.8,1002.5 670.2,1006.6 671.7,982.1 673.1,981.4 674.5,989.2 676,981.9 677.4,959.8 678.8,942.3 680.3,940.6 681.7,934.9 683.1,959.2 684.6,953.4 686,953.7 687.5,945.5 688.9,938.4 690.3,961.8 691.8,974.5 693.2,947.2 694.6,935.4 696.1,940.8 697.5,934.6 698.9,946.6 700.4,934.4 701.8,915.6 703.2,913.5 704.7,913.2 706.1,941 707.5,925.7 709,919.3 710.4,921.4 711.8,914.1 713.3,921 714.7,964.5 716.2,966.1 717.6,978.5 719,965.7 720.5,944.3 721.9,967.1 723.3,962.1 724.8,967.3 726.2,953.6 727.6,959.3 729.1,948.7 730.5,971.5 731.9,981.7 733.4,985 734.8,992.8 736.2,989.5 737.7,985.3 739.1,988.1 740.5,985.1 742,955.7 743.4,969 744.9,970.7 746.3,952.5 747.7,955.7 749.2,935.4 750.6,958 752,940.4 753.5,928.7 754.9,943.4 756.3,936.1 757.8,947.6 759.2,929.9 760.6,921.3 762.1,906.4 763.5,920.4 764.9,945.9 766.4,943.2 767.8,944.5 769.2,915.9 770.7,901 772.1,904.4 773.6,926.2 775,938.1 776.4,938.1 777.9,945.1 779.3,935.8 780.7,931.9 782.2,941.6 783.6,931.8 785,944.7 786.5,992.5 787.9,987.3 789.3,989.3 790.8,969.4 792.2,980.7 793.6,946.5 795.1,943.9 796.5,940.2 798,956.9 799.4,946.6 800.8,942.3 802.3,936.4 803.7,946.9 805.1,925.6 806.6,898.1 808,890.1 809.4,936.5 810.9,951.6 812.3,955.3 813.7,953.7 815.2,952 816.6,942.3 818,940.8 819.5,925.2 820.9,925.3 822.3,906.7 823.8,893.7 825.2,889.2 826.7,903.7 828.1,901.1 829.5,895.1 831,886.6 832.4,928.3 833.8,948 835.3,955.5 836.7,944.7 838.1,945.5 839.6,964.8 841,993 842.4,985.6 843.9,989.4 845.3,982.6 846.7,979.4 848.2,960.1 849.6,967 851,972.1 852.5,979.5 853.9,987.3 855.4,997.7 856.8,986.1 858.2,1007.6 859.7,1015.6 861.1,1018.2 862.5,1030.4 864,1032.8 865.4,1045.5 866.8,1048.9 868.3,1049.6 869.7,1056.3 871.1,1057.8 872.6,1030.9 874,1017.4 875.4,1003.4 876.9,1004.9 878.3,1016.5 879.8,1035.4 881.2,1025.6 882.6,1037.9 884.1,1021.4 885.5,1026.8 886.9,1028.4 888.4,1007.2 889.8,1010 891.2,1018.2 892.7,1000.9 894.1,984.9 895.5,979.5 897,972.8 898.4,994.2 899.8,1001.3 901.3,1025.9 902.7,1037.6 904.1,1017.3 905.6,1009.8 907,1013.9 908.5,1005.3 909.9,997.9 911.3,974.5 912.8,987.1 914.2,973.2 915.6,960.4 917.1,975.6 918.5,990.4 919.9,1009.8 921.4,989.1 922.8,974.8 924.2,988 925.7,972.1 927.1,961.6 928.5,950.5 930,946.5 931.4,966.8 932.8,960.8 934.3,957.6 935.7,957.1 937.2,977.7 938.6,971.3 940,973.8 941.5,959.8 942.9,972.2 944.3,967.9 945.8,972.3 947.2,982.7 948.6,971.6 950.1,958.1 951.5,947.6 952.9,956.6 954.4,952.8 955.8,964.9 957.2,981.8 958.7,986.8 960.1,1007.6 961.5,1000.3 963,986.7 964.4,980.8 965.9,980 967.3,974.4 968.7,972.2 970.2,991.3 971.6,982.7 973,993.7 974.5,1005.1 975.9,1025 977.3,1042.5 978.8,1043.1 980.2,1046.9 981.6,1036.1 983.1,1040.3 984.5,1036.5 985.9,1025.9 987.4,1026 988.8,1023.2 990.3,1033.2 991.7,1015.3 993.1,985 994.6,987.2 996,969 997.4,951.7 998.9,935.1 1000.3,954.1 1001.7,951.8 1003.2,945.7 1004.6,932.7 1006,924.1 1007.5,941.1 1008.9,960 1010.3,950 1011.8,945.6 1013.2,940.7 1014.6,972.7 1016.1,990.2 1017.5,992.8 1019,1014.1 1020.4,1022.6 1021.8,1026.1 1023.3,1015.6 1024.7,1013.4 1026.1,998.5 1027.6,1011.1 1029,969.6 1030.4,980.7 1031.9,983.7 1033.3,985.6 1034.7,961.6 1036.2,955.9 1037.6,969.5 1039,978.9 1040.5,1001.3 1041.9,1019.1 1043.3,1016.3 1044.8,1006.5 1046.2,996.6 1047.7,1006 1049.1,988.7 1050.5,976.2 1052,971.8 1053.4,941.4 1054.8,919.2 1056.3,914.7 1057.7,905.8 1059.1,895.6 1060.6,887.2 1062,895.6 1063.4,888.4 1064.9,944.2 1066.3,970.2 1067.7,960.9 1069.2,968.9 1070.6,983.5 1072,985.5 1073.5,993.9 1074.9,986.7 1076.4,966.1 1077.8,974.3 1079.2,967.4 1080.7,969.9 1082.1,973.2 1083.5,946.9 1085,934.6 1086.4,946.6 1087.8,964.1 1089.3,979 1090.7,955.3 1092.1,948.2 1093.6,937.7 1095,952.4 1096.4,951.7 1097.9,951.7 1099.3,944.3 1100.8,938.4 1102.2,931.6 1103.6,937.3 1105.1,932.3 1106.5,942.1 1107.9,927.7 1109.4,915 1110.8,914.2 1112.2,931 1113.7,922.8 1115.1,915.2 1116.5,913.3 1118,937.1 1119.4,929.4 1120.8,930.2 1122.3,911.8 1123.7,924.2 1125.1,915.3 1126.6,908.7 1128,911.8 1129.5,938.2 1130.9,929.1 1132.3,920.3 1133.8,930.5 1135.2,916.3 1136.6,921.7 1138.1,974.2 1139.5,968.3 1140.9,950.8 1142.4,944.6 1143.8,971.7 1145.2,984.1 1146.7,991.8 1148.1,999.8 1149.5,997.1 1151,981.1 1152.4,973.1 1153.8,974.1 1155.3,965.7 1156.7,963.5 1158.2,977.9 1159.6,971 1161,970.4 1162.5,959.2 1163.9,968.5 1165.3,966.8 1166.8,951.6 1168.2,952 1169.6,967.5 1171.1,974.5 1172.5,959.4 1173.9,944 1175.4,921.6 1176.8,916.2 1178.2,933.3 1179.7,949.9 1181.1,950.8 1182.5,956.2 1184,969.4 1185.4,982.2 1186.9,984.8 1188.3,1020.6 1189.7,1031.8 1191.2,1038.2 1192.6,1056.1 1194,1035.2 1195.5,1037.1 1196.9,1037.9 1198.3,1022.1 1199.8,1017.8 1201.2,1011.6 1202.6,1014.4 1204.1,1018.9 1205.5,1031.5 1206.9,1031 1208.4,1017 1209.8,1040.7 1211.3,1057.8 1212.7,1037.4 1214.1,1035.6 1215.6,1043.9 1217,1024.6 1218.4,1019 1219.9,1037.6 1221.3,1044.9 1222.7,1054.1 1224.2,1055.3 1225.6,1062.5 1227,1058 1228.5,1047.6 1229.9,1040.8 1231.3,1027.9 1232.8,1001.8 1234.2,1001.7 1235.6,975.9 1237.1,985.6 1238.5,980.4 1240,958.6 1241.4,941.3 1242.8,932.3 1244.3,920.6 1245.7,934.8 1247.1,956.7 1248.6,956.3 1250,956.9 1251.4,943.9 1252.9,934 1254.3,929.2 1255.7,922.8 1257.2,927.5 1258.6,912.5 1260,910.9 1261.5,926.6 1262.9,914.9 1264.3,912.8 1265.8,927.5 1267.2,909.4 1268.7,935.8 1270.1,939.6 1271.5,962.5 1273,945.9 1274.4,908.3 1275.8,900 1277.3,899 1278.7,908.8 1280.1,926.1 1281.6,925.3 1283,946.1 1284.4,935 1285.9,958.6 1287.3,955.4 1288.7,965.2 1290.2,980.7 1291.6,973.4 1293,983.6 1294.5,1003.8 1295.9,989.6 1297.4,990.8 1298.8,998.2 1300.2,1004.6 1301.7,992 1303.1,987.8 1304.5,989.3 1306,1000 1307.4,965.7 1308.8,1005.6 1310.3,1015.1 1311.7,1002.4 1313.1,1000.5 1314.6,1017.8 1316,1022.3 1317.4,1031.2 1318.9,1017.8 1320.3,995.3 1321.8,991.3 1323.2,989.7 1324.6,985.8 1326.1,983.9 1327.5,982.3 1328.9,980.2 1330.4,986.3 1331.8,1017.1 1333.2,1006.7 1334.7,1012.3 1336.1,996.5 1337.5,1015.7 1339,1001.8 1340.4,1006.1 1341.8,1002.8 1343.3,1016.5 1344.7,1029.1 1346.1,1016.2 1347.6,1025.2 1349,1028.6 1350.5,990.2 1351.9,977.3 1353.3,973.7 1354.8,959.1 1356.2,976.8 1357.6,959.8 1359.1,974.8 1360.5,974.1 1361.9,947.3 1363.4,956.4 1364.8,950.6 1366.2,941 1367.7,948.5 1369.1,948.9 1370.5,959.1 1372,959.5 1373.4,927.7 1374.8,928.9 1376.3,945.9 1377.7,955.2 1379.2,916.6 1380.6,949.1 1382,936.3 1383.5,951.3 1384.9,947.7 1386.3,950.4 1387.8,962 1389.2,972.9 1390.6,952.3 1392.1,927.8 1393.5,958.8 1394.9,949.7 1396.4,961.9 1397.8,974.7 1399.2,984.8 1400.7,996.2 1402.1,1000.8 1403.6,1004.5 1405,1013.9 1406.4,1017.6 1407.9,979 1409.3,988.4 1410.7,1005 1412.2,1037.2 1413.6,1056.2 1415,1078.1 1416.5,1081.2 1417.9,1072.5 1419.3,1066.5 1420.8,1055 1422.2,1058.3 1423.6,1069.8 1425.1,1075.4 1426.5,1075.8 1427.9,1021.5 1429.4,1026.5 1430.8,1029.1 1432.3,1053.7 1433.7,1054.4 1435.1,1056.4 1436.6,1057.4 1438,1062.5 1439.4,1043.8 1440.9,1048.9 1442.3,1045.3 1443.7,1038.5 1445.2,1034 1446.6,1027.2 1448,1012.3 1449.5,1025.7 1450.9,1033 1452.3,1034.3 1453.8,1046.7 1455.2,1054.6 1456.6,1028.4 1458.1,1036.4 1459.5,1041.4 1461,1038.5 1462.4,1044.7 1463.8,1050 1465.3,1059.3 1466.7,1065.3 1468.1,1070.7 1469.6,1074.9 1471,1085.6 1472.4,1066.3 1473.9,1072 1475.3,1060.1 1476.7,1068.2 1478.2,1072 1479.6,1072.6 1481,1035.8 1482.5,1026.3 1483.9,1031.3 1485.3,1016.5 1486.8,1025.9 1488.2,1000.3 1489.7,1012.1 1491.1,1014.8 1492.5,1012.7 1494,1003.1 1495.4,1010.6 1496.8,1016.6 1498.3,1021.7 1499.7,1022.9 1501.1,1014 1502.6,1011.2 1504,1014.7 1505.4,960.4 1506.9,960.5 1508.3,963.7 1509.7,984.6 1511.2,970.8 1512.6,989.7 1514.1,977.4 1515.5,962.8 1516.9,953.7 1518.4,953.5 1519.8,939.7 1521.2,936.3 1522.7,927.5 1524.1,932.2 1525.5,905.4 1527,930.1 1528.4,902 1529.8,936.8 1531.3,944.5 1532.7,970.7 1534.1,958.2 1535.6,983.6 1537,966 1538.4,992.7 1539.9,1000.9 1541.3,1008.8 1542.8,1016.2 1544.2,1010.2 1545.6,993.4 1547.1,967.8 1548.5,987.7 1549.9,987 1551.4,979.6 1552.8,998.7 1554.2,993.5 1555.7,1003.7 1557.1,1006.3 1558.5,1001.9 1560,1012.3 1561.4,1014.2 1562.8,1025.2 1564.3,1019.2 1565.7,1009.3 1567.1,1013.5 1568.6,978 1570,959 1571.5,961.7 1572.9,956.4 1574.3,960.8 1575.8,961 1577.2,958.7 1578.6,955.3 1580.1,945.2 1581.5,956.9 1582.9,967.8 1584.4,960.4 1585.8,965.2 1587.2,962.6 1588.7,968.8 1590.1,966.5 1591.5,951 1593,966.2 1594.4,965.8 1595.8,988.3 1597.3,1008.9 1598.7,1015.7 1600.2,1009.8 1601.6,997.9 1603,990.1 1604.5,1001 1605.9,996.2 1607.3,997.7 1608.8,990.3 1610.2,988.1 1611.6,973.3 1613.1,966.4 1614.5,965.6 1615.9,983.8 1617.4,966.1 1618.8,954.9 1620.2,961.6 1621.7,938 1623.1,924 1624.6,957.6 1626,959.4 1627.4,963.5 1628.9,959.4 1630.3,967.4 1631.7,972.7 1633.2,968.8 1634.6,988.9 1636,967.7 1637.5,969.2 1638.9,976.7 1640.3,1009.1 1641.8,1011.2 1643.2,1001.9 1644.6,1003.8 1646.1,1009.4 1647.5,1015.9 1648.9,982.1 1650.4,999.4 1651.8,986.4 1653.3,976.6 1654.7,972.6 1656.1,979 1657.6,986.9 1659,962.4 1660.4,964.1 1661.9,951.7 1663.3,980.3 1664.7,984.7 1666.2,943.8 1667.6,940.8 1669,952.4 1670.5,932.5 1671.9,942.8 1673.3,954.7 1674.8,943.6 1676.2,965.6 1677.6,980.4 1679.1,993.4 1680.5,968.3 1682,979.5 1683.4,966.1 1684.8,930.6 1686.3,920.9 1687.7,920.4 1689.1,936.2 1690.6,927.9 1692,937.9 1693.4,951.6 1694.9,965.3 1696.3,981.4 1697.7,971.6 1699.2,1018.5 1700.6,1017 1702,1015.5 1703.5,1034.2 1704.9,1034.7 1706.3,1045.1 1707.8,1035.9 1709.2,1008 1710.7,994.7 1712.1,1015.7 1713.5,994.6 1715,984.1 1716.4,995.1 1717.8,994.2 1719.3,987.6 1720.7,992.3 1722.1,1000.7 1723.6,1006.2 1725,1009.7 1726.4,987.1 1727.9,981.3 1729.3,988.7 1730.7,988.9 1732.2,996.4 1733.6,971.6 1735.1,964.5 1736.5,951.4 1737.9,983.9 1739.4,967.9 1740.8,991.7 1742.2,989.4 1743.7,998.8 1745.1,1008.2 1746.5,988.7 1748,1002.6 1749.4,996.8 1750.8,1030.9 1752.3,1041 1753.7,1055.1 1755.1,1065.2 1756.6,1069.5 1758,1055.5 1759.4,1033.8 1760.9,1005.6 1762.3,1002.7 1763.8,1010.5 1765.2,989.1 1766.6,986.4 1768.1,984.1 1769.5,984.1 1770.9,1001.1 1772.4,999 1773.8,1004.1 1775.2,1011.4 1776.7,1020.9 1778.1,1027.7 1779.5,1005 1781,993.2 1782.4,981.4 1783.8,996.1 1785.3,982.7 1786.7,975 1788.1,981.7 1789.6,965.7 1791,971.4 1792.5,971.3 1793.9,943.9 1795.3,931.7 1796.8,930.9 1798.2,920.9 1799.6,930 1801.1,941.5 1802.5,939.6 1803.9,924.6 1805.4,927.6 1806.8,963.1 1808.2,951.3 1809.7,974.9 1811.1,986.8 1812.5,988.1 1814,981.8 1815.4,995.3 1816.9,986.7 1818.3,993.8 1819.7,999.4 1821.2,990.4 1822.6,991 1824,985.4 1825.5,966.5 1826.9,984.4 1828.3,996.8 1829.8,989 1831.2,1006 1832.6,1011.8 1834.1,1015.4 1835.5,1000.8 1836.9,1034.3 1838.4,1044.9 1839.8,1049.4 1841.2,1050.7 1842.7,1029.8 1844.1,1037.9 1845.6,1023.7 1847,1049.2 1848.4,1040.9 1849.9,1054.3 1851.3,1045.2 1852.7,1031.8 1854.2,1035.8 1855.6,1046.1 1857,1048 1858.5,1040 1859.9,1004.1 1861.3,1021.3 1862.8,995.7 1864.2,1001.3 1865.6,973.2 1867.1,950.5 1868.5,937.7 1869.9,925.4 1871.4,973.9 1872.8,980.4 1874.3,994 1875.7,991.5 1877.1,1001.3 1878.6,999.3 1880,1005.7 1881.4,1006.7 1882.9,995.7 1884.3,993 1885.7,969.9 1887.2,954.5 1888.6,944.6 1890,963.7 1891.5,964.7 1892.9,995.5 1894.3,980.2 1895.8,987.3 1897.2,1000.4 1898.6,1009 1900.1,1022.9 1901.5,1004.3 1903,963.8 1904.4,965.3 1905.8,977.2 1907.3,991.1 1908.7,988.7 1910.1,973.4 1911.6,952.2 1913,977.9 1913,904 20.1,904" fill="#089981" fill-opacity="0.18" clip-path="url(#clipob)"/><polygon points="20.1,959.4 21.6,925.7 23,915.9 24.4,898.6 25.9,887.6 27.3,923.9 28.8,942.3 30.2,942.8 31.6,951 33.1,948.5 34.5,947.7 35.9,957.1 37.4,952.4 38.8,959 40.2,952.7 41.7,946.8 43.1,964.1 44.5,946.7 46,917.8 47.4,911.6 48.8,904.7 50.3,914.9 51.7,907.6 53.1,908.2 54.6,916.7 56,936.9 57.5,939.6 58.9,932.6 60.3,938.1 61.8,927.9 63.2,951.7 64.6,933.3 66.1,930.4 67.5,926.1 68.9,922.3 70.4,948.9 71.8,925.2 73.2,952.7 74.7,965.9 76.1,968.8 77.5,952.7 79,974.3 80.4,996.3 81.9,965.2 83.3,977.8 84.7,985.7 86.2,971.6 87.6,986.6 89,979.5 90.5,986 91.9,990 93.3,996.4 94.8,991.7 96.2,998.7 97.6,971.9 99.1,962 100.5,959.5 101.9,949 103.4,934.8 104.8,959.3 106.2,956.2 107.7,972.9 109.1,981.6 110.6,998 112,996.1 113.4,973.4 114.9,963.5 116.3,976 117.7,959.7 119.2,964.7 120.6,952.4 122,940.1 123.5,967.9 124.9,960.2 126.3,947.9 127.8,976.9 129.2,942.6 130.6,946.2 132.1,932.1 133.5,917.5 134.9,906.8 136.4,928.6 137.8,917.2 139.3,916.3 140.7,931.6 142.1,949.5 143.6,952.8 145,960.6 146.4,951.5 147.9,951.9 149.3,944.6 150.7,953.7 152.2,966.6 153.6,955.6 155,948.3 156.5,935.4 157.9,940 159.3,954 160.8,957.4 162.2,968.1 163.7,967 165.1,985.8 166.5,970.3 168,973.2 169.4,969.8 170.8,981.5 172.3,984.4 173.7,967.1 175.1,982.6 176.6,1000.4 178,988.3 179.4,962.7 180.9,960.6 182.3,949.6 183.7,967.5 185.2,985 186.6,989 188,973.6 189.5,970.7 190.9,982.3 192.4,984.9 193.8,970.7 195.2,1008.7 196.7,1004.1 198.1,1008.1 199.5,982 201,1000.8 202.4,1003 203.8,1031.9 205.3,1029.4 206.7,1026.4 208.1,1011.4 209.6,1007.8 211,1016.8 212.4,1018.2 213.9,1023.2 215.3,991.2 216.7,970.9 218.2,970.1 219.6,978.2 221.1,993.6 222.5,997.1 223.9,973.2 225.4,999.9 226.8,1019 228.2,1005.9 229.7,989.5 231.1,990 232.5,971.9 234,970 235.4,960.5 236.8,977.1 238.3,971.7 239.7,958.5 241.1,973.6 242.6,982.7 244,969.7 245.4,971.5 246.9,951.5 248.3,982.9 249.8,972.8 251.2,955.8 252.6,953.7 254.1,966.9 255.5,976.6 256.9,981 258.4,1002.4 259.8,992.1 261.2,985.5 262.7,1005.3 264.1,1004 265.5,994.2 267,1003.9 268.4,975 269.8,972 271.3,983.6 272.7,992.6 274.2,971.4 275.6,984.1 277,960.9 278.5,964.8 279.9,958.6 281.3,942.3 282.8,919.4 284.2,894.4 285.6,898.4 287.1,911.9 288.5,940.1 289.9,927.6 291.4,927.2 292.8,934.5 294.2,927 295.7,952.1 297.1,952.1 298.5,949 300,973.9 301.4,1022.2 302.9,1004 304.3,1001.8 305.7,1011.7 307.2,1012.8 308.6,1001.3 310,981.4 311.5,973.6 312.9,987.2 314.3,982.1 315.8,964.3 317.2,985.8 318.6,985.6 320.1,974 321.5,970.5 322.9,975.9 324.4,967.4 325.8,959.3 327.2,980.3 328.7,973.6 330.1,962.9 331.6,920.5 333,916.6 334.4,928.3 335.9,957.4 337.3,944.2 338.7,943.5 340.2,957.3 341.6,953 343,950.3 344.5,959.3 345.9,963.2 347.3,968.6 348.8,909.7 350.2,915.1 351.6,930.2 353.1,917.4 354.5,901.3 355.9,923.4 357.4,941.6 358.8,937.9 360.3,974.5 361.7,966.4 363.1,953.2 364.6,946.3 366,928.3 367.4,908.7 368.9,902.7 370.3,890.3 371.7,881.4 373.2,876.7 374.6,874.1 376,870.9 377.5,865.3 378.9,928.3 380.3,942.2 381.8,949 383.2,957.3 384.7,943.3 386.1,933.2 387.5,934.5 389,947.4 390.4,927.7 391.8,931 393.3,944.1 394.7,945.1 396.1,952.1 397.6,956.4 399,942.6 400.4,946.5 401.9,963.7 403.3,970.8 404.7,980.2 406.2,979.8 407.6,985.6 409,997.4 410.5,985.6 411.9,985.6 413.4,955.6 414.8,973.5 416.2,965.1 417.7,965.4 419.1,970.7 420.5,959.9 422,940.6 423.4,943.5 424.8,924.3 426.3,944.1 427.7,954.1 429.1,947.8 430.6,988.6 432,983.7 433.4,1002.7 434.9,992.8 436.3,1001.8 437.7,1005 439.2,977.8 440.6,963.3 442.1,972 443.5,980.9 444.9,967 446.4,959.3 447.8,960 449.2,919.3 450.7,894.7 452.1,868 453.5,865.9 455,890.5 456.4,899 457.8,907.3 459.3,903 460.7,910.6 462.1,906.5 463.6,905.2 465,908.6 466.5,933.4 467.9,928.8 469.3,927.7 470.8,916.7 472.2,898.9 473.6,891 475.1,919.6 476.5,943.5 477.9,942.3 479.4,934.5 480.8,946.4 482.2,959.3 483.7,938.6 485.1,947.4 486.5,945.7 488,942.2 489.4,933.9 490.8,934.3 492.3,909.8 493.7,923.8 495.2,947.9 496.6,971.4 498,975.4 499.5,972.8 500.9,981.1 502.3,991.2 503.8,956.9 505.2,968.7 506.6,975.5 508.1,974 509.5,966.7 510.9,954.6 512.4,954.3 513.8,969 515.2,982.9 516.7,983.1 518.1,970.2 519.5,973.9 521,990.6 522.4,1008.2 523.9,1010.7 525.3,999.2 526.7,1002.2 528.2,978.2 529.6,982.3 531,994.1 532.5,983.9 533.9,1003.2 535.3,1003.8 536.8,1022.8 538.2,1029.1 539.6,1035.1 541.1,1044.2 542.5,1021.4 543.9,1010.2 545.4,1011.5 546.8,1017.2 548.2,1011.3 549.7,1010.8 551.1,994.5 552.6,1000.2 554,1005.6 555.4,989.4 556.9,975.6 558.3,990.4 559.7,993.5 561.2,973 562.6,952.6 564,963.4 565.5,978.2 566.9,947.3 568.3,962.6 569.8,961.2 571.2,962.4 572.6,982.6 574.1,967.1 575.5,961.8 577,950 578.4,927.8 579.8,914.3 581.3,911.5 582.7,922.4 584.1,920.4 585.6,963.2 587,959.2 588.4,953.5 589.9,946.1 591.3,944.1 592.7,954.9 594.2,950.3 595.6,982.1 597,960.5 598.5,961 599.9,975.5 601.3,978.6 602.8,964.5 604.2,935.3 605.7,931.8 607.1,931.4 608.5,942.8 610,940.7 611.4,926.8 612.8,919.8 614.3,934.8 615.7,922 617.1,954.9 618.6,947.7 620,937.3 621.4,943.5 622.9,913.6 624.3,906.6 625.7,915.1 627.2,936 628.6,930.8 630,956.6 631.5,937.9 632.9,925.2 634.4,929.3 635.8,925.9 637.2,955 638.7,999.5 640.1,1017.5 641.5,1025.9 643,1032.3 644.4,1042.3 645.8,1021.3 647.3,989.6 648.7,984.3 650.1,985.7 651.6,983.7 653,964.5 654.4,959.7 655.9,949.8 657.3,981.3 658.7,979.5 660.2,988.7 661.6,996.2 663.1,1009.9 664.5,1015.5 665.9,1014.8 667.4,1015.5 668.8,1002.5 670.2,1006.6 671.7,982.1 673.1,981.4 674.5,989.2 676,981.9 677.4,959.8 678.8,942.3 680.3,940.6 681.7,934.9 683.1,959.2 684.6,953.4 686,953.7 687.5,945.5 688.9,938.4 690.3,961.8 691.8,974.5 693.2,947.2 694.6,935.4 696.1,940.8 697.5,934.6 698.9,946.6 700.4,934.4 701.8,915.6 703.2,913.5 704.7,913.2 706.1,941 707.5,925.7 709,919.3 710.4,921.4 711.8,914.1 713.3,921 714.7,964.5 716.2,966.1 717.6,978.5 719,965.7 720.5,944.3 721.9,967.1 723.3,962.1 724.8,967.3 726.2,953.6 727.6,959.3 729.1,948.7 730.5,971.5 731.9,981.7 733.4,985 734.8,992.8 736.2,989.5 737.7,985.3 739.1,988.1 740.5,985.1 742,955.7 743.4,969 744.9,970.7 746.3,952.5 747.7,955.7 749.2,935.4 750.6,958 752,940.4 753.5,928.7 754.9,943.4 756.3,936.1 757.8,947.6 759.2,929.9 760.6,921.3 762.1,906.4 763.5,920.4 764.9,945.9 766.4,943.2 767.8,944.5 769.2,915.9 770.7,901 772.1,904.4 773.6,926.2 775,938.1 776.4,938.1 777.9,945.1 779.3,935.8 780.7,931.9 782.2,941.6 783.6,931.8 785,944.7 786.5,992.5 787.9,987.3 789.3,989.3 790.8,969.4 792.2,980.7 793.6,946.5 795.1,943.9 796.5,940.2 798,956.9 799.4,946.6 800.8,942.3 802.3,936.4 803.7,946.9 805.1,925.6 806.6,898.1 808,890.1 809.4,936.5 810.9,951.6 812.3,955.3 813.7,953.7 815.2,952 816.6,942.3 818,940.8 819.5,925.2 820.9,925.3 822.3,906.7 823.8,893.7 825.2,889.2 826.7,903.7 828.1,901.1 829.5,895.1 831,886.6 832.4,928.3 833.8,948 835.3,955.5 836.7,944.7 838.1,945.5 839.6,964.8 841,993 842.4,985.6 843.9,989.4 845.3,982.6 846.7,979.4 848.2,960.1 849.6,967 851,972.1 852.5,979.5 853.9,987.3 855.4,997.7 856.8,986.1 858.2,1007.6 859.7,1015.6 861.1,1018.2 862.5,1030.4 864,1032.8 865.4,1045.5 866.8,1048.9 868.3,1049.6 869.7,1056.3 871.1,1057.8 872.6,1030.9 874,1017.4 875.4,1003.4 876.9,1004.9 878.3,1016.5 879.8,1035.4 881.2,1025.6 882.6,1037.9 884.1,1021.4 885.5,1026.8 886.9,1028.4 888.4,1007.2 889.8,1010 891.2,1018.2 892.7,1000.9 894.1,984.9 895.5,979.5 897,972.8 898.4,994.2 899.8,1001.3 901.3,1025.9 902.7,1037.6 904.1,1017.3 905.6,1009.8 907,1013.9 908.5,1005.3 909.9,997.9 911.3,974.5 912.8,987.1 914.2,973.2 915.6,960.4 917.1,975.6 918.5,990.4 919.9,1009.8 921.4,989.1 922.8,974.8 924.2,988 925.7,972.1 927.1,961.6 928.5,950.5 930,946.5 931.4,966.8 932.8,960.8 934.3,957.6 935.7,957.1 937.2,977.7 938.6,971.3 940,973.8 941.5,959.8 942.9,972.2 944.3,967.9 945.8,972.3 947.2,982.7 948.6,971.6 950.1,958.1 951.5,947.6 952.9,956.6 954.4,952.8 955.8,964.9 957.2,981.8 958.7,986.8 960.1,1007.6 961.5,1000.3 963,986.7 964.4,980.8 965.9,980 967.3,974.4 968.7,972.2 970.2,991.3 971.6,982.7 973,993.7 974.5,1005.1 975.9,1025 977.3,1042.5 978.8,1043.1 980.2,1046.9 981.6,1036.1 983.1,1040.3 984.5,1036.5 985.9,1025.9 987.4,1026 988.8,1023.2 990.3,1033.2 991.7,1015.3 993.1,985 994.6,987.2 996,969 997.4,951.7 998.9,935.1 1000.3,954.1 1001.7,951.8 1003.2,945.7 1004.6,932.7 1006,924.1 1007.5,941.1 1008.9,960 1010.3,950 1011.8,945.6 1013.2,940.7 1014.6,972.7 1016.1,990.2 1017.5,992.8 1019,1014.1 1020.4,1022.6 1021.8,1026.1 1023.3,1015.6 1024.7,1013.4 1026.1,998.5 1027.6,1011.1 1029,969.6 1030.4,980.7 1031.9,983.7 1033.3,985.6 1034.7,961.6 1036.2,955.9 1037.6,969.5 1039,978.9 1040.5,1001.3 1041.9,1019.1 1043.3,1016.3 1044.8,1006.5 1046.2,996.6 1047.7,1006 1049.1,988.7 1050.5,976.2 1052,971.8 1053.4,941.4 1054.8,919.2 1056.3,914.7 1057.7,905.8 1059.1,895.6 1060.6,887.2 1062,895.6 1063.4,888.4 1064.9,944.2 1066.3,970.2 1067.7,960.9 1069.2,968.9 1070.6,983.5 1072,985.5 1073.5,993.9 1074.9,986.7 1076.4,966.1 1077.8,974.3 1079.2,967.4 1080.7,969.9 1082.1,973.2 1083.5,946.9 1085,934.6 1086.4,946.6 1087.8,964.1 1089.3,979 1090.7,955.3 1092.1,948.2 1093.6,937.7 1095,952.4 1096.4,951.7 1097.9,951.7 1099.3,944.3 1100.8,938.4 1102.2,931.6 1103.6,937.3 1105.1,932.3 1106.5,942.1 1107.9,927.7 1109.4,915 1110.8,914.2 1112.2,931 1113.7,922.8 1115.1,915.2 1116.5,913.3 1118,937.1 1119.4,929.4 1120.8,930.2 1122.3,911.8 1123.7,924.2 1125.1,915.3 1126.6,908.7 1128,911.8 1129.5,938.2 1130.9,929.1 1132.3,920.3 1133.8,930.5 1135.2,916.3 1136.6,921.7 1138.1,974.2 1139.5,968.3 1140.9,950.8 1142.4,944.6 1143.8,971.7 1145.2,984.1 1146.7,991.8 1148.1,999.8 1149.5,997.1 1151,981.1 1152.4,973.1 1153.8,974.1 1155.3,965.7 1156.7,963.5 1158.2,977.9 1159.6,971 1161,970.4 1162.5,959.2 1163.9,968.5 1165.3,966.8 1166.8,951.6 1168.2,952 1169.6,967.5 1171.1,974.5 1172.5,959.4 1173.9,944 1175.4,921.6 1176.8,916.2 1178.2,933.3 1179.7,949.9 1181.1,950.8 1182.5,956.2 1184,969.4 1185.4,982.2 1186.9,984.8 1188.3,1020.6 1189.7,1031.8 1191.2,1038.2 1192.6,1056.1 1194,1035.2 1195.5,1037.1 1196.9,1037.9 1198.3,1022.1 1199.8,1017.8 1201.2,1011.6 1202.6,1014.4 1204.1,1018.9 1205.5,1031.5 1206.9,1031 1208.4,1017 1209.8,1040.7 1211.3,1057.8 1212.7,1037.4 1214.1,1035.6 1215.6,1043.9 1217,1024.6 1218.4,1019 1219.9,1037.6 1221.3,1044.9 1222.7,1054.1 1224.2,1055.3 1225.6,1062.5 1227,1058 1228.5,1047.6 1229.9,1040.8 1231.3,1027.9 1232.8,1001.8 1234.2,1001.7 1235.6,975.9 1237.1,985.6 1238.5,980.4 1240,958.6 1241.4,941.3 1242.8,932.3 1244.3,920.6 1245.7,934.8 1247.1,956.7 1248.6,956.3 1250,956.9 1251.4,943.9 1252.9,934 1254.3,929.2 1255.7,922.8 1257.2,927.5 1258.6,912.5 1260,910.9 1261.5,926.6 1262.9,914.9 1264.3,912.8 1265.8,927.5 1267.2,909.4 1268.7,935.8 1270.1,939.6 1271.5,962.5 1273,945.9 1274.4,908.3 1275.8,900 1277.3,899 1278.7,908.8 1280.1,926.1 1281.6,925.3 1283,946.1 1284.4,935 1285.9,958.6 1287.3,955.4 1288.7,965.2 1290.2,980.7 1291.6,973.4 1293,983.6 1294.5,1003.8 1295.9,989.6 1297.4,990.8 1298.8,998.2 1300.2,1004.6 1301.7,992 1303.1,987.8 1304.5,989.3 1306,1000 1307.4,965.7 1308.8,1005.6 1310.3,1015.1 1311.7,1002.4 1313.1,1000.5 1314.6,1017.8 1316,1022.3 1317.4,1031.2 1318.9,1017.8 1320.3,995.3 1321.8,991.3 1323.2,989.7 1324.6,985.8 1326.1,983.9 1327.5,982.3 1328.9,980.2 1330.4,986.3 1331.8,1017.1 1333.2,1006.7 1334.7,1012.3 1336.1,996.5 1337.5,1015.7 1339,1001.8 1340.4,1006.1 1341.8,1002.8 1343.3,1016.5 1344.7,1029.1 1346.1,1016.2 1347.6,1025.2 1349,1028.6 1350.5,990.2 1351.9,977.3 1353.3,973.7 1354.8,959.1 1356.2,976.8 1357.6,959.8 1359.1,974.8 1360.5,974.1 1361.9,947.3 1363.4,956.4 1364.8,950.6 1366.2,941 1367.7,948.5 1369.1,948.9 1370.5,959.1 1372,959.5 1373.4,927.7 1374.8,928.9 1376.3,945.9 1377.7,955.2 1379.2,916.6 1380.6,949.1 1382,936.3 1383.5,951.3 1384.9,947.7 1386.3,950.4 1387.8,962 1389.2,972.9 1390.6,952.3 1392.1,927.8 1393.5,958.8 1394.9,949.7 1396.4,961.9 1397.8,974.7 1399.2,984.8 1400.7,996.2 1402.1,1000.8 1403.6,1004.5 1405,1013.9 1406.4,1017.6 1407.9,979 1409.3,988.4 1410.7,1005 1412.2,1037.2 1413.6,1056.2 1415,1078.1 1416.5,1081.2 1417.9,1072.5 1419.3,1066.5 1420.8,1055 1422.2,1058.3 1423.6,1069.8 1425.1,1075.4 1426.5,1075.8 1427.9,1021.5 1429.4,1026.5 1430.8,1029.1 1432.3,1053.7 1433.7,1054.4 1435.1,1056.4 1436.6,1057.4 1438,1062.5 1439.4,1043.8 1440.9,1048.9 1442.3,1045.3 1443.7,1038.5 1445.2,1034 1446.6,1027.2 1448,1012.3 1449.5,1025.7 1450.9,1033 1452.3,1034.3 1453.8,1046.7 1455.2,1054.6 1456.6,1028.4 1458.1,1036.4 1459.5,1041.4 1461,1038.5 1462.4,1044.7 1463.8,1050 1465.3,1059.3 1466.7,1065.3 1468.1,1070.7 1469.6,1074.9 1471,1085.6 1472.4,1066.3 1473.9,1072 1475.3,1060.1 1476.7,1068.2 1478.2,1072 1479.6,1072.6 1481,1035.8 1482.5,1026.3 1483.9,1031.3 1485.3,1016.5 1486.8,1025.9 1488.2,1000.3 1489.7,1012.1 1491.1,1014.8 1492.5,1012.7 1494,1003.1 1495.4,1010.6 1496.8,1016.6 1498.3,1021.7 1499.7,1022.9 1501.1,1014 1502.6,1011.2 1504,1014.7 1505.4,960.4 1506.9,960.5 1508.3,963.7 1509.7,984.6 1511.2,970.8 1512.6,989.7 1514.1,977.4 1515.5,962.8 1516.9,953.7 1518.4,953.5 1519.8,939.7 1521.2,936.3 1522.7,927.5 1524.1,932.2 1525.5,905.4 1527,930.1 1528.4,902 1529.8,936.8 1531.3,944.5 1532.7,970.7 1534.1,958.2 1535.6,983.6 1537,966 1538.4,992.7 1539.9,1000.9 1541.3,1008.8 1542.8,1016.2 1544.2,1010.2 1545.6,993.4 1547.1,967.8 1548.5,987.7 1549.9,987 1551.4,979.6 1552.8,998.7 1554.2,993.5 1555.7,1003.7 1557.1,1006.3 1558.5,1001.9 1560,1012.3 1561.4,1014.2 1562.8,1025.2 1564.3,1019.2 1565.7,1009.3 1567.1,1013.5 1568.6,978 1570,959 1571.5,961.7 1572.9,956.4 1574.3,960.8 1575.8,961 1577.2,958.7 1578.6,955.3 1580.1,945.2 1581.5,956.9 1582.9,967.8 1584.4,960.4 1585.8,965.2 1587.2,962.6 1588.7,968.8 1590.1,966.5 1591.5,951 1593,966.2 1594.4,965.8 1595.8,988.3 1597.3,1008.9 1598.7,1015.7 1600.2,1009.8 1601.6,997.9 1603,990.1 1604.5,1001 1605.9,996.2 1607.3,997.7 1608.8,990.3 1610.2,988.1 1611.6,973.3 1613.1,966.4 1614.5,965.6 1615.9,983.8 1617.4,966.1 1618.8,954.9 1620.2,961.6 1621.7,938 1623.1,924 1624.6,957.6 1626,959.4 1627.4,963.5 1628.9,959.4 1630.3,967.4 1631.7,972.7 1633.2,968.8 1634.6,988.9 1636,967.7 1637.5,969.2 1638.9,976.7 1640.3,1009.1 1641.8,1011.2 1643.2,1001.9 1644.6,1003.8 1646.1,1009.4 1647.5,1015.9 1648.9,982.1 1650.4,999.4 1651.8,986.4 1653.3,976.6 1654.7,972.6 1656.1,979 1657.6,986.9 1659,962.4 1660.4,964.1 1661.9,951.7 1663.3,980.3 1664.7,984.7 1666.2,943.8 1667.6,940.8 1669,952.4 1670.5,932.5 1671.9,942.8 1673.3,954.7 1674.8,943.6 1676.2,965.6 1677.6,980.4 1679.1,993.4 1680.5,968.3 1682,979.5 1683.4,966.1 1684.8,930.6 1686.3,920.9 1687.7,920.4 1689.1,936.2 1690.6,927.9 1692,937.9 1693.4,951.6 1694.9,965.3 1696.3,981.4 1697.7,971.6 1699.2,1018.5 1700.6,1017 1702,1015.5 1703.5,1034.2 1704.9,1034.7 1706.3,1045.1 1707.8,1035.9 1709.2,1008 1710.7,994.7 1712.1,1015.7 1713.5,994.6 1715,984.1 1716.4,995.1 1717.8,994.2 1719.3,987.6 1720.7,992.3 1722.1,1000.7 1723.6,1006.2 1725,1009.7 1726.4,987.1 1727.9,981.3 1729.3,988.7 1730.7,988.9 1732.2,996.4 1733.6,971.6 1735.1,964.5 1736.5,951.4 1737.9,983.9 1739.4,967.9 1740.8,991.7 1742.2,989.4 1743.7,998.8 1745.1,1008.2 1746.5,988.7 1748,1002.6 1749.4,996.8 1750.8,1030.9 1752.3,1041 1753.7,1055.1 1755.1,1065.2 1756.6,1069.5 1758,1055.5 1759.4,1033.8 1760.9,1005.6 1762.3,1002.7 1763.8,1010.5 1765.2,989.1 1766.6,986.4 1768.1,984.1 1769.5,984.1 1770.9,1001.1 1772.4,999 1773.8,1004.1 1775.2,1011.4 1776.7,1020.9 1778.1,1027.7 1779.5,1005 1781,993.2 1782.4,981.4 1783.8,996.1 1785.3,982.7 1786.7,975 1788.1,981.7 1789.6,965.7 1791,971.4 1792.5,971.3 1793.9,943.9 1795.3,931.7 1796.8,930.9 1798.2,920.9 1799.6,930 1801.1,941.5 1802.5,939.6 1803.9,924.6 1805.4,927.6 1806.8,963.1 1808.2,951.3 1809.7,974.9 1811.1,986.8 1812.5,988.1 1814,981.8 1815.4,995.3 1816.9,986.7 1818.3,993.8 1819.7,999.4 1821.2,990.4 1822.6,991 1824,985.4 1825.5,966.5 1826.9,984.4 1828.3,996.8 1829.8,989 1831.2,1006 1832.6,1011.8 1834.1,1015.4 1835.5,1000.8 1836.9,1034.3 1838.4,1044.9 1839.8,1049.4 1841.2,1050.7 1842.7,1029.8 1844.1,1037.9 1845.6,1023.7 1847,1049.2 1848.4,1040.9 1849.9,1054.3 1851.3,1045.2 1852.7,1031.8 1854.2,1035.8 1855.6,1046.1 1857,1048 1858.5,1040 1859.9,1004.1 1861.3,1021.3 1862.8,995.7 1864.2,1001.3 1865.6,973.2 1867.1,950.5 1868.5,937.7 1869.9,925.4 1871.4,973.9 1872.8,980.4 1874.3,994 1875.7,991.5 1877.1,1001.3 1878.6,999.3 1880,1005.7 1881.4,1006.7 1882.9,995.7 1884.3,993 1885.7,969.9 1887.2,954.5 1888.6,944.6 1890,963.7 1891.5,964.7 1892.9,995.5 1894.3,980.2 1895.8,987.3 1897.2,1000.4 1898.6,1009 1900.1,1022.9 1901.5,1004.3 1903,963.8 1904.4,965.3 1905.8,977.2 1907.3,991.1 1908.7,988.7 1910.1,973.4 1911.6,952.2 1913,977.9 1913,1037.6 20.1,1037.6" fill="#F23645" fill-opacity="0.12" clip-path="url(#clipos)"/><polyline points="20.1,959.4 21.6,925.7 23,915.9 24.4,898.6 25.9,887.6 27.3,923.9 28.8,942.3 30.2,942.8 31.6,951 33.1,948.5 34.5,947.7 35.9,957.1 37.4,952.4 38.8,959 40.2,952.7 41.7,946.8 43.1,964.1 44.5,946.7 46,917.8 47.4,911.6 48.8,904.7 50.3,914.9 51.7,907.6 53.1,908.2 54.6,916.7 56,936.9 57.5,939.6 58.9,932.6 60.3,938.1 61.8,927.9 63.2,951.7 64.6,933.3 66.1,930.4 67.5,926.1 68.9,922.3 70.4,948.9 71.8,925.2 73.2,952.7 74.7,965.9 76.1,968.8 77.5,952.7 79,974.3 80.4,996.3 81.9,965.2 83.3,977.8 84.7,985.7 86.2,971.6 87.6,986.6 89,979.5 90.5,986 91.9,990 93.3,996.4 94.8,991.7 96.2,998.7 97.6,971.9 99.1,962 100.5,959.5 101.9,949 103.4,934.8 104.8,959.3 106.2,956.2 107.7,972.9 109.1,981.6 110.6,998 112,996.1 113.4,973.4 114.9,963.5 116.3,976 117.7,959.7 119.2,964.7 120.6,952.4 122,940.1 123.5,967.9 124.9,960.2 126.3,947.9 127.8,976.9 129.2,942.6 130.6,946.2 132.1,932.1 133.5,917.5 134.9,906.8 136.4,928.6 137.8,917.2 139.3,916.3 140.7,931.6 142.1,949.5 143.6,952.8 145,960.6 146.4,951.5 147.9,951.9 149.3,944.6 150.7,953.7 152.2,966.6 153.6,955.6 155,948.3 156.5,935.4 157.9,940 159.3,954 160.8,957.4 162.2,968.1 163.7,967 165.1,985.8 166.5,970.3 168,973.2 169.4,969.8 170.8,981.5 172.3,984.4 173.7,967.1 175.1,982.6 176.6,1000.4 178,988.3 179.4,962.7 180.9,960.6 182.3,949.6 183.7,967.5 185.2,985 186.6,989 188,973.6 189.5,970.7 190.9,982.3 192.4,984.9 193.8,970.7 195.2,1008.7 196.7,1004.1 198.1,1008.1 199.5,982 201,1000.8 202.4,1003 203.8,1031.9 205.3,1029.4 206.7,1026.4 208.1,1011.4 209.6,1007.8 211,1016.8 212.4,1018.2 213.9,1023.2 215.3,991.2 216.7,970.9 218.2,970.1 219.6,978.2 221.1,993.6 222.5,997.1 223.9,973.2 225.4,999.9 226.8,1019 228.2,1005.9 229.7,989.5 231.1,990 232.5,971.9 234,970 235.4,960.5 236.8,977.1 238.3,971.7 239.7,958.5 241.1,973.6 242.6,982.7 244,969.7 245.4,971.5 246.9,951.5 248.3,982.9 249.8,972.8 251.2,955.8 252.6,953.7 254.1,966.9 255.5,976.6 256.9,981 258.4,1002.4 259.8,992.1 261.2,985.5 262.7,1005.3 264.1,1004 265.5,994.2 267,1003.9 268.4,975 269.8,972 271.3,983.6 272.7,992.6 274.2,971.4 275.6,984.1 277,960.9 278.5,964.8 279.9,958.6 281.3,942.3 282.8,919.4 284.2,894.4 285.6,898.4 287.1,911.9 288.5,940.1 289.9,927.6 291.4,927.2 292.8,934.5 294.2,927 295.7,952.1 297.1,952.1 298.5,949 300,973.9 301.4,1022.2 302.9,1004 304.3,1001.8 305.7,1011.7 307.2,1012.8 308.6,1001.3 310,981.4 311.5,973.6 312.9,987.2 314.3,982.1 315.8,964.3 317.2,985.8 318.6,985.6 320.1,974 321.5,970.5 322.9,975.9 324.4,967.4 325.8,959.3 327.2,980.3 328.7,973.6 330.1,962.9 331.6,920.5 333,916.6 334.4,928.3 335.9,957.4 337.3,944.2 338.7,943.5 340.2,957.3 341.6,953 343,950.3 344.5,959.3 345.9,963.2 347.3,968.6 348.8,909.7 350.2,915.1 351.6,930.2 353.1,917.4 354.5,901.3 355.9,923.4 357.4,941.6 358.8,937.9 360.3,974.5 361.7,966.4 363.1,953.2 364.6,946.3 366,928.3 367.4,908.7 368.9,902.7 370.3,890.3 371.7,881.4 373.2,876.7 374.6,874.1 376,870.9 377.5,865.3 378.9,928.3 380.3,942.2 381.8,949 383.2,957.3 384.7,943.3 386.1,933.2 387.5,934.5 389,947.4 390.4,927.7 391.8,931 393.3,944.1 394.7,945.1 396.1,952.1 397.6,956.4 399,942.6 400.4,946.5 401.9,963.7 403.3,970.8 404.7,980.2 406.2,979.8 407.6,985.6 409,997.4 410.5,985.6 411.9,985.6 413.4,955.6 414.8,973.5 416.2,965.1 417.7,965.4 419.1,970.7 420.5,959.9 422,940.6 423.4,943.5 424.8,924.3 426.3,944.1 427.7,954.1 429.1,947.8 430.6,988.6 432,983.7 433.4,1002.7 434.9,992.8 436.3,1001.8 437.7,1005 439.2,977.8 440.6,963.3 442.1,972 443.5,980.9 444.9,967 446.4,959.3 447.8,960 449.2,919.3 450.7,894.7 452.1,868 453.5,865.9 455,890.5 456.4,899 457.8,907.3 459.3,903 460.7,910.6 462.1,906.5 463.6,905.2 465,908.6 466.5,933.4 467.9,928.8 469.3,927.7 470.8,916.7 472.2,898.9 473.6,891 475.1,919.6 476.5,943.5 477.9,942.3 479.4,934.5 480.8,946.4 482.2,959.3 483.7,938.6 485.1,947.4 486.5,945.7 488,942.2 489.4,933.9 490.8,934.3 492.3,909.8 493.7,923.8 495.2,947.9 496.6,971.4 498,975.4 499.5,972.8 500.9,981.1 502.3,991.2 503.8,956.9 505.2,968.7 506.6,975.5 508.1,974 509.5,966.7 510.9,954.6 512.4,954.3 513.8,969 515.2,982.9 516.7,983.1 518.1,970.2 519.5,973.9 521,990.6 522.4,1008.2 523.9,1010.7 525.3,999.2 526.7,1002.2 528.2,978.2 529.6,982.3 531,994.1 532.5,983.9 533.9,1003.2 535.3,1003.8 536.8,1022.8 538.2,1029.1 539.6,1035.1 541.1,1044.2 542.5,1021.4 543.9,1010.2 545.4,1011.5 546.8,1017.2 548.2,1011.3 549.7,1010.8 551.1,994.5 552.6,1000.2 554,1005.6 555.4,989.4 556.9,975.6 558.3,990.4 559.7,993.5 561.2,973 562.6,952.6 564,963.4 565.5,978.2 566.9,947.3 568.3,962.6 569.8,961.2 571.2,962.4 572.6,982.6 574.1,967.1 575.5,961.8 577,950 578.4,927.8 579.8,914.3 581.3,911.5 582.7,922.4 584.1,920.4 585.6,963.2 587,959.2 588.4,953.5 589.9,946.1 591.3,944.1 592.7,954.9 594.2,950.3 595.6,982.1 597,960.5 598.5,961 599.9,975.5 601.3,978.6 602.8,964.5 604.2,935.3 605.7,931.8 607.1,931.4 608.5,942.8 610,940.7 611.4,926.8 612.8,919.8 614.3,934.8 615.7,922 617.1,954.9 618.6,947.7 620,937.3 621.4,943.5 622.9,913.6 624.3,906.6 625.7,915.1 627.2,936 628.6,930.8 630,956.6 631.5,937.9 632.9,925.2 634.4,929.3 635.8,925.9 637.2,955 638.7,999.5 640.1,1017.5 641.5,1025.9 643,1032.3 644.4,1042.3 645.8,1021.3 647.3,989.6 648.7,984.3 650.1,985.7 651.6,983.7 653,964.5 654.4,959.7 655.9,949.8 657.3,981.3 658.7,979.5 660.2,988.7 661.6,996.2 663.1,1009.9 664.5,1015.5 665.9,1014.8 667.4,1015.5 668.8,1002.5 670.2,1006.6 671.7,982.1 673.1,981.4 674.5,989.2 676,981.9 677.4,959.8 678.8,942.3 680.3,940.6 681.7,934.9 683.1,959.2 684.6,953.4 686,953.7 687.5,945.5 688.9,938.4 690.3,961.8 691.8,974.5 693.2,947.2 694.6,935.4 696.1,940.8 697.5,934.6 698.9,946.6 700.4,934.4 701.8,915.6 703.2,913.5 704.7,913.2 706.1,941 707.5,925.7 709,919.3 710.4,921.4 711.8,914.1 713.3,921 714.7,964.5 716.2,966.1 717.6,978.5 719,965.7 720.5,944.3 721.9,967.1 723.3,962.1 724.8,967.3 726.2,953.6 727.6,959.3 729.1,948.7 730.5,971.5 731.9,981.7 733.4,985 734.8,992.8 736.2,989.5 737.7,985.3 739.1,988.1 740.5,985.1 742,955.7 743.4,969 744.9,970.7 746.3,952.5 747.7,955.7 749.2,935.4 750.6,958 752,940.4 753.5,928.7 754.9,943.4 756.3,936.1 757.8,947.6 759.2,929.9 760.6,921.3 762.1,906.4 763.5,920.4 764.9,945.9 766.4,943.2 767.8,944.5 769.2,915.9 770.7,901 772.1,904.4 773.6,926.2 775,938.1 776.4,938.1 777.9,945.1 779.3,935.8 780.7,931.9 782.2,941.6 783.6,931.8 785,944.7 786.5,992.5 787.9,987.3 789.3,989.3 790.8,969.4 792.2,980.7 793.6,946.5 795.1,943.9 796.5,940.2 798,956.9 799.4,946.6 800.8,942.3 802.3,936.4 803.7,946.9 805.1,925.6 806.6,898.1 808,890.1 809.4,936.5 810.9,951.6 812.3,955.3 813.7,953.7 815.2,952 816.6,942.3 818,940.8 819.5,925.2 820.9,925.3 822.3,906.7 823.8,893.7 825.2,889.2 826.7,903.7 828.1,901.1 829.5,895.1 831,886.6 832.4,928.3 833.8,948 835.3,955.5 836.7,944.7 838.1,945.5 839.6,964.8 841,993 842.4,985.6 843.9,989.4 845.3,982.6 846.7,979.4 848.2,960.1 849.6,967 851,972.1 852.5,979.5 853.9,987.3 855.4,997.7 856.8,986.1 858.2,1007.6 859.7,1015.6 861.1,1018.2 862.5,1030.4 864,1032.8 865.4,1045.5 866.8,1048.9 868.3,1049.6 869.7,1056.3 871.1,1057.8 872.6,1030.9 874,1017.4 875.4,1003.4 876.9,1004.9 878.3,1016.5 879.8,1035.4 881.2,1025.6 882.6,1037.9 884.1,1021.4 885.5,1026.8 886.9,1028.4 888.4,1007.2 889.8,1010 891.2,1018.2 892.7,1000.9 894.1,984.9 895.5,979.5 897,972.8 898.4,994.2 899.8,1001.3 901.3,1025.9 902.7,1037.6 904.1,1017.3 905.6,1009.8 907,1013.9 908.5,1005.3 909.9,997.9 911.3,974.5 912.8,987.1 914.2,973.2 915.6,960.4 917.1,975.6 918.5,990.4 919.9,1009.8 921.4,989.1 922.8,974.8 924.2,988 925.7,972.1 927.1,961.6 928.5,950.5 930,946.5 931.4,966.8 932.8,960.8 934.3,957.6 935.7,957.1 937.2,977.7 938.6,971.3 940,973.8 941.5,959.8 942.9,972.2 944.3,967.9 945.8,972.3 947.2,982.7 948.6,971.6 950.1,958.1 951.5,947.6 952.9,956.6 954.4,952.8 955.8,964.9 957.2,981.8 958.7,986.8 960.1,1007.6 961.5,1000.3 963,986.7 964.4,980.8 965.9,980 967.3,974.4 968.7,972.2 970.2,991.3 971.6,982.7 973,993.7 974.5,1005.1 975.9,1025 977.3,1042.5 978.8,1043.1 980.2,1046.9 981.6,1036.1 983.1,1040.3 984.5,1036.5 985.9,1025.9 987.4,1026 988.8,1023.2 990.3,1033.2 991.7,1015.3 993.1,985 994.6,987.2 996,969 997.4,951.7 998.9,935.1 1000.3,954.1 1001.7,951.8 1003.2,945.7 1004.6,932.7 1006,924.1 1007.5,941.1 1008.9,960 1010.3,950 1011.8,945.6 1013.2,940.7 1014.6,972.7 1016.1,990.2 1017.5,992.8 1019,1014.1 1020.4,1022.6 1021.8,1026.1 1023.3,1015.6 1024.7,1013.4 1026.1,998.5 1027.6,1011.1 1029,969.6 1030.4,980.7 1031.9,983.7 1033.3,985.6 1034.7,961.6 1036.2,955.9 1037.6,969.5 1039,978.9 1040.5,1001.3 1041.9,1019.1 1043.3,1016.3 1044.8,1006.5 1046.2,996.6 1047.7,1006 1049.1,988.7 1050.5,976.2 1052,971.8 1053.4,941.4 1054.8,919.2 1056.3,914.7 1057.7,905.8 1059.1,895.6 1060.6,887.2 1062,895.6 1063.4,888.4 1064.9,944.2 1066.3,970.2 1067.7,960.9 1069.2,968.9 1070.6,983.5 1072,985.5 1073.5,993.9 1074.9,986.7 1076.4,966.1 1077.8,974.3 1079.2,967.4 1080.7,969.9 1082.1,973.2 1083.5,946.9 1085,934.6 1086.4,946.6 1087.8,964.1 1089.3,979 1090.7,955.3 1092.1,948.2 1093.6,937.7 1095,952.4 1096.4,951.7 1097.9,951.7 1099.3,944.3 1100.8,938.4 1102.2,931.6 1103.6,937.3 1105.1,932.3 1106.5,942.1 1107.9,927.7 1109.4,915 1110.8,914.2 1112.2,931 1113.7,922.8 1115.1,915.2 1116.5,913.3 1118,937.1 1119.4,929.4 1120.8,930.2 1122.3,911.8 1123.7,924.2 1125.1,915.3 1126.6,908.7 1128,911.8 1129.5,938.2 1130.9,929.1 1132.3,920.3 1133.8,930.5 1135.2,916.3 1136.6,921.7 1138.1,974.2 1139.5,968.3 1140.9,950.8 1142.4,944.6 1143.8,971.7 1145.2,984.1 1146.7,991.8 1148.1,999.8 1149.5,997.1 1151,981.1 1152.4,973.1 1153.8,974.1 1155.3,965.7 1156.7,963.5 1158.2,977.9 1159.6,971 1161,970.4 1162.5,959.2 1163.9,968.5 1165.3,966.8 1166.8,951.6 1168.2,952 1169.6,967.5 1171.1,974.5 1172.5,959.4 1173.9,944 1175.4,921.6 1176.8,916.2 1178.2,933.3 1179.7,949.9 1181.1,950.8 1182.5,956.2 1184,969.4 1185.4,982.2 1186.9,984.8 1188.3,1020.6 1189.7,1031.8 1191.2,1038.2 1192.6,1056.1 1194,1035.2 1195.5,1037.1 1196.9,1037.9 1198.3,1022.1 1199.8,1017.8 1201.2,1011.6 1202.6,1014.4 1204.1,1018.9 1205.5,1031.5 1206.9,1031 1208.4,1017 1209.8,1040.7 1211.3,1057.8 1212.7,1037.4 1214.1,1035.6 1215.6,1043.9 1217,1024.6 1218.4,1019 1219.9,1037.6 1221.3,1044.9 1222.7,1054.1 1224.2,1055.3 1225.6,1062.5 1227,1058 1228.5,1047.6 1229.9,1040.8 1231.3,1027.9 1232.8,1001.8 1234.2,1001.7 1235.6,975.9 1237.1,985.6 1238.5,980.4 1240,958.6 1241.4,941.3 1242.8,932.3 1244.3,920.6 1245.7,934.8 1247.1,956.7 1248.6,956.3 1250,956.9 1251.4,943.9 1252.9,934 1254.3,929.2 1255.7,922.8 1257.2,927.5 1258.6,912.5 1260,910.9 1261.5,926.6 1262.9,914.9 1264.3,912.8 1265.8,927.5 1267.2,909.4 1268.7,935.8 1270.1,939.6 1271.5,962.5 1273,945.9 1274.4,908.3 1275.8,900 1277.3,899 1278.7,908.8 1280.1,926.1 1281.6,925.3 1283,946.1 1284.4,935 1285.9,958.6 1287.3,955.4 1288.7,965.2 1290.2,980.7 1291.6,973.4 1293,983.6 1294.5,1003.8 1295.9,989.6 1297.4,990.8 1298.8,998.2 1300.2,1004.6 1301.7,992 1303.1,987.8 1304.5,989.3 1306,1000 1307.4,965.7 1308.8,1005.6 1310.3,1015.1 1311.7,1002.4 1313.1,1000.5 1314.6,1017.8 1316,1022.3 1317.4,1031.2 1318.9,1017.8 1320.3,995.3 1321.8,991.3 1323.2,989.7 1324.6,985.8 1326.1,983.9 1327.5,982.3 1328.9,980.2 1330.4,986.3 1331.8,1017.1 1333.2,1006.7 1334.7,1012.3 1336.1,996.5 1337.5,1015.7 1339,1001.8 1340.4,1006.1 1341.8,1002.8 1343.3,1016.5 1344.7,1029.1 1346.1,1016.2 1347.6,1025.2 1349,1028.6 1350.5,990.2 1351.9,977.3 1353.3,973.7 1354.8,959.1 1356.2,976.8 1357.6,959.8 1359.1,974.8 1360.5,974.1 1361.9,947.3 1363.4,956.4 1364.8,950.6 1366.2,941 1367.7,948.5 1369.1,948.9 1370.5,959.1 1372,959.5 1373.4,927.7 1374.8,928.9 1376.3,945.9 1377.7,955.2 1379.2,916.6 1380.6,949.1 1382,936.3 1383.5,951.3 1384.9,947.7 1386.3,950.4 1387.8,962 1389.2,972.9 1390.6,952.3 1392.1,927.8 1393.5,958.8 1394.9,949.7 1396.4,961.9 1397.8,974.7 1399.2,984.8 1400.7,996.2 1402.1,1000.8 1403.6,1004.5 1405,1013.9 1406.4,1017.6 1407.9,979 1409.3,988.4 1410.7,1005 1412.2,1037.2 1413.6,1056.2 1415,1078.1 1416.5,1081.2 1417.9,1072.5 1419.3,1066.5 1420.8,1055 1422.2,1058.3 1423.6,1069.8 1425.1,1075.4 1426.5,1075.8 1427.9,1021.5 1429.4,1026.5 1430.8,1029.1 1432.3,1053.7 1433.7,1054.4 1435.1,1056.4 1436.6,1057.4 1438,1062.5 1439.4,1043.8 1440.9,1048.9 1442.3,1045.3 1443.7,1038.5 1445.2,1034 1446.6,1027.2 1448,1012.3 1449.5,1025.7 1450.9,1033 1452.3,1034.3 1453.8,1046.7 1455.2,1054.6 1456.6,1028.4 1458.1,1036.4 1459.5,1041.4 1461,1038.5 1462.4,1044.7 1463.8,1050 1465.3,1059.3 1466.7,1065.3 1468.1,1070.7 1469.6,1074.9 1471,1085.6 1472.4,1066.3 1473.9,1072 1475.3,1060.1 1476.7,1068.2 1478.2,1072 1479.6,1072.6 1481,1035.8 1482.5,1026.3 1483.9,1031.3 1485.3,1016.5 1486.8,1025.9 1488.2,1000.3 1489.7,1012.1 1491.1,1014.8 1492.5,1012.7 1494,1003.1 1495.4,1010.6 1496.8,1016.6 1498.3,1021.7 1499.7,1022.9 1501.1,1014 1502.6,1011.2 1504,1014.7 1505.4,960.4 1506.9,960.5 1508.3,963.7 1509.7,984.6 1511.2,970.8 1512.6,989.7 1514.1,977.4 1515.5,962.8 1516.9,953.7 1518.4,953.5 1519.8,939.7 1521.2,936.3 1522.7,927.5 1524.1,932.2 1525.5,905.4 1527,930.1 1528.4,902 1529.8,936.8 1531.3,944.5 1532.7,970.7 1534.1,958.2 1535.6,983.6 1537,966 1538.4,992.7 1539.9,1000.9 1541.3,1008.8 1542.8,1016.2 1544.2,1010.2 1545.6,993.4 1547.1,967.8 1548.5,987.7 1549.9,987 1551.4,979.6 1552.8,998.7 1554.2,993.5 1555.7,1003.7 1557.1,1006.3 1558.5,1001.9 1560,1012.3 1561.4,1014.2 1562.8,1025.2 1564.3,1019.2 1565.7,1009.3 1567.1,1013.5 1568.6,978 1570,959 1571.5,961.7 1572.9,956.4 1574.3,960.8 1575.8,961 1577.2,958.7 1578.6,955.3 1580.1,945.2 1581.5,956.9 1582.9,967.8 1584.4,960.4 1585.8,965.2 1587.2,962.6 1588.7,968.8 1590.1,966.5 1591.5,951 1593,966.2 1594.4,965.8 1595.8,988.3 1597.3,1008.9 1598.7,1015.7 1600.2,1009.8 1601.6,997.9 1603,990.1 1604.5,1001 1605.9,996.2 1607.3,997.7 1608.8,990.3 1610.2,988.1 1611.6,973.3 1613.1,966.4 1614.5,965.6 1615.9,983.8 1617.4,966.1 1618.8,954.9 1620.2,961.6 1621.7,938 1623.1,924 1624.6,957.6 1626,959.4 1627.4,963.5 1628.9,959.4 1630.3,967.4 1631.7,972.7 1633.2,968.8 1634.6,988.9 1636,967.7 1637.5,969.2 1638.9,976.7 1640.3,1009.1 1641.8,1011.2 1643.2,1001.9 1644.6,1003.8 1646.1,1009.4 1647.5,1015.9 1648.9,982.1 1650.4,999.4 1651.8,986.4 1653.3,976.6 1654.7,972.6 1656.1,979 1657.6,986.9 1659,962.4 1660.4,964.1 1661.9,951.7 1663.3,980.3 1664.7,984.7 1666.2,943.8 1667.6,940.8 1669,952.4 1670.5,932.5 1671.9,942.8 1673.3,954.7 1674.8,943.6 1676.2,965.6 1677.6,980.4 1679.1,993.4 1680.5,968.3 1682,979.5 1683.4,966.1 1684.8,930.6 1686.3,920.9 1687.7,920.4 1689.1,936.2 1690.6,927.9 1692,937.9 1693.4,951.6 1694.9,965.3 1696.3,981.4 1697.7,971.6 1699.2,1018.5 1700.6,1017 1702,1015.5 1703.5,1034.2 1704.9,1034.7 1706.3,1045.1 1707.8,1035.9 1709.2,1008 1710.7,994.7 1712.1,1015.7 1713.5,994.6 1715,984.1 1716.4,995.1 1717.8,994.2 1719.3,987.6 1720.7,992.3 1722.1,1000.7 1723.6,1006.2 1725,1009.7 1726.4,987.1 1727.9,981.3 1729.3,988.7 1730.7,988.9 1732.2,996.4 1733.6,971.6 1735.1,964.5 1736.5,951.4 1737.9,983.9 1739.4,967.9 1740.8,991.7 1742.2,989.4 1743.7,998.8 1745.1,1008.2 1746.5,988.7 1748,1002.6 1749.4,996.8 1750.8,1030.9 1752.3,1041 1753.7,1055.1 1755.1,1065.2 1756.6,1069.5 1758,1055.5 1759.4,1033.8 1760.9,1005.6 1762.3,1002.7 1763.8,1010.5 1765.2,989.1 1766.6,986.4 1768.1,984.1 1769.5,984.1 1770.9,1001.1 1772.4,999 1773.8,1004.1 1775.2,1011.4 1776.7,1020.9 1778.1,1027.7 1779.5,1005 1781,993.2 1782.4,981.4 1783.8,996.1 1785.3,982.7 1786.7,975 1788.1,981.7 1789.6,965.7 1791,971.4 1792.5,971.3 1793.9,943.9 1795.3,931.7 1796.8,930.9 1798.2,920.9 1799.6,930 1801.1,941.5 1802.5,939.6 1803.9,924.6 1805.4,927.6 1806.8,963.1 1808.2,951.3 1809.7,974.9 1811.1,986.8 1812.5,988.1 1814,981.8 1815.4,995.3 1816.9,986.7 1818.3,993.8 1819.7,999.4 1821.2,990.4 1822.6,991 1824,985.4 1825.5,966.5 1826.9,984.4 1828.3,996.8 1829.8,989 1831.2,1006 1832.6,1011.8 1834.1,1015.4 1835.5,1000.8 1836.9,1034.3 1838.4,1044.9 1839.8,1049.4 1841.2,1050.7 1842.7,1029.8 1844.1,1037.9 1845.6,1023.7 1847,1049.2 1848.4,1040.9 1849.9,1054.3 1851.3,1045.2 1852.7,1031.8 1854.2,1035.8 1855.6,1046.1 1857,1048 1858.5,1040 1859.9,1004.1 1861.3,1021.3 1862.8,995.7 1864.2,1001.3 1865.6,973.2 1867.1,950.5 1868.5,937.7 1869.9,925.4 1871.4,973.9 1872.8,980.4 1874.3,994 1875.7,991.5 1877.1,1001.3 1878.6,999.3 1880,1005.7 1881.4,1006.7 1882.9,995.7 1884.3,993 1885.7,969.9 1887.2,954.5 1888.6,944.6 1890,963.7 1891.5,964.7 1892.9,995.5 1894.3,980.2 1895.8,987.3 1897.2,1000.4 1898.6,1009 1900.1,1022.9 1901.5,1004.3 1903,963.8 1904.4,965.3 1905.8,977.2 1907.3,991.1 1908.7,988.7 1910.1,973.4 1911.6,952.2 1913,977.9" fill="none" stroke="#7E57C2" stroke-width="1.9" stroke-linejoin="round"/><polyline points="20.1,957.9 21.6,954.3 23,949 24.4,944.4 25.9,939.4 27.3,936.7 28.8,934.7 30.2,933.3 31.6,934.3 33.1,934.2 34.5,934.3 35.9,935.6 37.4,937 38.8,936.6 40.2,936.1 41.7,937.6 43.1,941 44.5,944.5 46,946.6 47.4,945.8 48.8,943.1 50.3,941.1 51.7,938 53.1,935.1 54.6,932.9 56,931.4 57.5,930.5 58.9,928.6 60.3,927.6 61.8,926.3 63.2,925.4 64.6,924.4 66.1,925.3 67.5,926.3 68.9,927.6 70.4,930 71.8,931.3 73.2,934.5 74.7,938 76.1,940.2 77.5,941.2 79,944.2 80.4,948.3 81.9,951 83.3,952.8 84.7,956.6 86.2,959.5 87.6,963.8 89,967.9 90.5,970.6 91.9,975.2 93.3,978.3 94.8,980.2 96.2,982.3 97.6,983.7 99.1,982.8 100.5,980.2 101.9,979 103.4,976 104.8,974.1 106.2,973 107.7,972 109.1,972.2 110.6,973 112,973.4 113.4,971.8 114.9,969.8 116.3,968.2 117.7,967.3 119.2,967.5 120.6,967 122,966.3 123.5,968.7 124.9,968.8 126.3,968.2 127.8,968.5 129.2,965.7 130.6,962 132.1,957.4 133.5,953.4 134.9,949.4 136.4,946 137.8,942.9 139.3,939.5 140.7,938 142.1,938.7 143.6,937.6 145,937.6 146.4,937.9 147.9,936.1 149.3,936.2 150.7,936.8 152.2,939.2 153.6,941.9 155,944.9 156.5,945.4 157.9,947 159.3,949.7 160.8,951.6 162.2,952.9 163.7,953.9 165.1,955.7 166.5,957 168,958.6 169.4,960.4 170.8,962.3 172.3,963.6 173.7,964.4 175.1,966.9 176.6,971.5 178,975 179.4,975.6 180.9,975.8 182.3,974.5 183.7,974.6 185.2,974.5 186.6,975.8 188,975.9 189.5,975.9 190.9,976 192.4,976 193.8,976.3 195.2,978.1 196.7,978.4 198.1,979.8 199.5,981.2 201,984.1 202.4,987.9 203.8,992.5 205.3,995.7 206.7,998.3 208.1,1001 209.6,1003.7 211,1006.1 212.4,1008.5 213.9,1012.3 215.3,1011 216.7,1008.6 218.2,1005.9 219.6,1005.7 221.1,1005.1 222.5,1004.7 223.9,1000.5 225.4,998.4 226.8,997.9 228.2,997.5 229.7,996.2 231.1,994.3 232.5,991 234,987.2 235.4,985 236.8,985.4 238.3,985.5 239.7,984.1 241.1,982.7 242.6,981.7 244,981.4 245.4,979.4 246.9,974.6 248.3,972.9 249.8,971.7 251.2,969.3 252.6,968 254.1,967.8 255.5,968.9 256.9,969.2 258.4,971.4 259.8,973.8 261.2,974.7 262.7,976.3 264.1,978.7 265.5,980.3 267,984.1 268.4,983.5 269.8,983.5 271.3,985.5 272.7,988.2 274.2,988.6 275.6,989.1 277,987.7 278.5,985 279.9,982.6 281.3,979.5 282.8,973.3 284.2,965.5 285.6,958.7 287.1,952.1 288.5,949.6 289.9,946.4 291.4,942.4 292.8,938.3 294.2,935.1 295.7,932.8 297.1,932.2 298.5,931 300,932.1 301.4,937.9 302.9,943.9 304.3,951.6 305.7,959.7 307.2,966.9 308.6,971.2 310,975.1 311.5,978.4 312.9,982.2 314.3,986.1 315.8,987 317.2,989.4 318.6,992 320.1,992 321.5,988.3 322.9,986.3 324.4,983.8 325.8,980.1 327.2,977.8 328.7,975.8 330.1,974.5 331.6,970.7 333,965.6 334.4,961.8 335.9,961.3 337.3,958.3 338.7,955.3 340.2,954.1 341.6,952.9 343,951 344.5,950.5 345.9,950.7 347.3,949.9 348.8,945.3 350.2,941.9 351.6,942.6 353.1,942.7 354.5,940.8 355.9,938.3 357.4,938.1 358.8,937.7 360.3,939 361.7,939.9 363.1,940.1 364.6,939.2 366,936.7 367.4,932.4 368.9,931.9 370.3,930.2 371.7,926.7 373.2,923.8 374.6,921.8 376,918.1 377.5,912.6 378.9,911.9 380.3,909.6 381.8,908.4 383.2,908.7 384.7,908.5 386.1,908.8 387.5,910.7 389,913.8 390.4,916.5 391.8,920.1 393.3,924.9 394.7,930 396.1,935.7 397.6,942.3 399,943.3 400.4,943.6 401.9,944.6 403.3,945.6 404.7,948.2 406.2,951.6 407.6,955.2 409,958.8 410.5,962.9 411.9,966.8 413.4,967.6 414.8,969.7 416.2,970.6 417.7,971.2 419.1,973.2 420.5,974.2 422,972.6 423.4,970.6 424.8,966.6 426.3,964.1 427.7,961.8 429.1,958.3 430.6,958.5 432,958.3 433.4,961.7 434.9,963.1 436.3,965.7 437.7,968.5 439.2,969 440.6,969.3 442.1,971.5 443.5,974.2 444.9,977.3 446.4,978.3 447.8,978.8 449.2,976.7 450.7,970 452.1,961.8 453.5,952 455,944.7 456.4,937.3 457.8,930.4 459.3,925 460.7,921.3 462.1,916.6 463.6,911.2 465,907 466.5,905.1 467.9,902.9 469.3,903.5 470.8,905.1 472.2,907.3 473.6,909.1 475.1,911.2 476.5,914.4 477.9,916.9 479.4,919.1 480.8,921.7 482.2,925.4 483.7,927.8 485.1,930.6 486.5,931.5 488,932.4 489.4,932.9 490.8,934.1 492.3,934.9 493.7,937.2 495.2,939.3 496.6,941.3 498,943.6 499.5,946.4 500.9,948.8 502.3,951.1 503.8,952.4 505.2,953.9 506.6,956.1 508.1,958.3 509.5,960.7 510.9,962.1 512.4,965.3 513.8,968.5 515.2,971 516.7,971.9 518.1,971.5 519.5,971.6 521,972.3 522.4,973.5 523.9,977.3 525.3,979.5 526.7,981.4 528.2,981.7 529.6,982.8 531,985.6 532.5,987.8 533.9,990.2 535.3,991.7 536.8,994.5 538.2,998.7 539.6,1003.1 541.1,1006.9 542.5,1007.9 543.9,1007.8 545.4,1008.7 546.8,1009.8 548.2,1012.1 549.7,1014.2 551.1,1014.2 552.6,1015.4 554,1015.5 555.4,1014.5 556.9,1011.1 558.3,1008.4 559.7,1005.4 561.2,1000.3 562.6,995.4 564,992.1 565.5,989.7 566.9,984.7 568.3,981.2 569.8,977.7 571.2,975.4 572.6,974.1 574.1,971.4 575.5,969.4 577,967.6 578.4,963.1 579.8,957.4 581.3,953 582.7,950.9 584.1,947.8 585.6,946.7 587,947.6 588.4,947 589.9,945.9 591.3,944.6 592.7,942.6 594.2,941.4 595.6,942.8 597,943.6 598.5,946 599.9,950.3 601.3,955.1 602.8,958.1 604.2,959.2 605.7,957 607.1,955 608.5,954.2 610,953.8 611.4,952.6 612.8,950.1 614.3,949 615.7,944.7 617.1,944.3 618.6,943.3 620,940.6 621.4,938.1 622.9,934.5 624.3,932.4 625.7,931.2 627.2,931.6 628.6,930.7 630,931.8 631.5,932.6 632.9,933 634.4,932.6 635.8,932.9 637.2,932.9 638.7,936.6 640.1,942.3 641.5,948.2 643,956.7 644.4,966.4 645.8,974 647.3,977.8 648.7,981.6 650.1,983.7 651.6,987 653,989.8 654.4,991.9 655.9,993.7 657.3,995.5 658.7,994.1 660.2,992 661.6,989.9 663.1,988.3 664.5,986.4 665.9,985.9 667.4,987.8 668.8,989.1 670.2,990.6 671.7,990.5 673.1,991.7 674.5,993.8 676,996.1 677.4,994.5 678.8,991.9 680.3,988.4 681.7,984.1 683.1,980.4 684.6,976 686,971.6 687.5,966.6 688.9,962 690.3,958.9 691.8,958.3 693.2,955.9 694.6,952 696.1,949.1 697.5,947.3 698.9,947.6 700.4,947.2 701.8,945.8 703.2,942.5 704.7,939.7 706.1,938.7 707.5,937.3 709,936 710.4,933.1 711.8,928.8 713.3,926.9 714.7,929 716.2,930.8 717.6,933.9 719,935.3 720.5,936 721.9,939.7 723.3,943.1 724.8,947 726.2,947.9 727.6,950.3 729.1,952.4 730.5,956 731.9,960.8 733.4,965.4 734.8,967.4 736.2,969.1 737.7,969.6 739.1,971.2 740.5,974.1 742,973.3 743.4,973.8 744.9,974 746.3,973.9 747.7,973.7 749.2,972.7 750.6,971.8 752,968.8 753.5,964.8 754.9,961.3 756.3,957.4 757.8,954.8 759.2,950.6 760.6,946 762.1,942.5 763.5,939 764.9,937.3 766.4,936.6 767.8,935.8 769.2,934.4 770.7,930.3 772.1,927.8 773.6,927.6 775,927.2 776.4,927.4 777.9,927.2 779.3,927.6 780.7,928.3 782.2,930.9 783.6,931.7 785,931.6 786.5,935.1 787.9,938.2 789.3,943.4 790.8,948.3 792.2,953.8 793.6,955.2 795.1,955.6 796.5,955.8 798,956.6 799.4,957.4 800.8,958.1 802.3,957.8 803.7,958.8 805.1,957.5 806.6,950.7 808,943.8 809.4,940 810.9,938.7 812.3,936.9 813.7,937.4 815.2,938 816.6,938.2 818,937 819.5,935.5 820.9,934.3 822.3,932.1 823.8,928.3 825.2,925.7 826.7,926.1 828.1,926.9 829.5,924 831,919.3 832.4,917.4 833.8,917 835.3,917.2 836.7,917.4 838.1,917.8 839.6,920.6 841,925.4 842.4,931.1 843.9,937.9 845.3,944.6 846.7,950 848.2,954.2 849.6,959.3 851,965.4 852.5,969.1 853.9,971.9 855.4,974.9 856.8,977.9 858.2,982.3 859.7,985.9 861.1,987.7 862.5,990.9 864,994 865.4,998.5 866.8,1003.5 868.3,1009.9 869.7,1016.3 871.1,1022.4 872.6,1026.1 874,1028.2 875.4,1028.6 876.9,1030 878.3,1030.6 879.8,1032 881.2,1032.5 882.6,1033.1 884.1,1032.2 885.5,1030.9 886.9,1029.4 888.4,1026.4 889.8,1023.1 891.2,1020.3 892.7,1018.1 894.1,1015.8 895.5,1014.1 897,1011.8 898.4,1010.2 899.8,1007.8 901.3,1007.8 902.7,1007.8 904.1,1007.5 905.6,1006.3 907,1005.3 908.5,1005.1 909.9,1004.3 911.3,1001.1 912.8,1000.1 914.2,999.3 915.6,998 917.1,998.1 918.5,997.9 919.9,998.5 921.4,995.9 922.8,991.4 924.2,989.3 925.7,986.6 927.1,982.8 928.5,978.9 930,975.3 931.4,974.7 932.8,972.8 934.3,971.7 935.7,971.5 937.2,971.6 938.6,970.3 940,967.7 941.5,965.6 942.9,965.4 944.3,964 945.8,964 947.2,965.5 948.6,967 950.1,967.8 951.5,966.5 952.9,966.2 954.4,965.8 955.8,966.4 957.2,966.7 958.7,967.8 960.1,970.2 961.5,973.1 963,974.1 964.4,975 965.9,975.6 967.3,975 968.7,975 970.2,977.4 971.6,979.9 973,982.6 974.5,986.3 975.9,990.6 977.3,994.9 978.8,999 980.2,1001.8 981.6,1004.3 983.1,1008.2 984.5,1012.1 985.9,1015.4 987.4,1019.1 988.8,1022.7 990.3,1025.7 991.7,1028.1 993.1,1027.4 994.6,1026.2 996,1022.2 997.4,1015.7 998.9,1008 1000.3,1001.3 1001.7,995.3 1003.2,988.5 1004.6,981.1 1006,973.9 1007.5,967.8 1008.9,963.3 1010.3,957.3 1011.8,952.4 1013.2,949.2 1014.6,948.2 1016.1,949.7 1017.5,952.6 1019,958.3 1020.4,963.1 1021.8,968.5 1023.3,973.4 1024.7,979.2 1026.1,984.5 1027.6,989.5 1029,990.2 1030.4,992.4 1031.9,995.1 1033.3,998.3 1034.7,997.5 1036.2,995.1 1037.6,993.4 1039,990.9 1040.5,989.4 1041.9,988.9 1043.3,988.9 1044.8,988.5 1046.2,988.3 1047.7,988 1049.1,989.3 1050.5,989 1052,988.1 1053.4,985 1054.8,982 1056.3,979 1057.7,974.5 1059.1,968.5 1060.6,960.4 1062,951.5 1063.4,942.4 1064.9,938 1066.3,936.1 1067.7,932.8 1069.2,931.4 1070.6,932 1072,932.9 1073.5,936.7 1074.9,941.5 1076.4,945.2 1077.8,950.1 1079.2,955.2 1080.7,961.1 1082.1,966.7 1083.5,970.8 1085,970.1 1086.4,968.5 1087.8,968.7 1089.3,969.4 1090.7,967.4 1092.1,964.7 1093.6,960.7 1095,958.3 1096.4,957.2 1097.9,955.6 1099.3,954 1100.8,951.7 1102.2,948.7 1103.6,948 1105.1,947.9 1106.5,947.6 1107.9,945 1109.4,940.4 1110.8,937.5 1112.2,936.2 1113.7,935.2 1115.1,932.5 1116.5,929.8 1118,928.7 1119.4,927.7 1120.8,927.1 1122.3,925.7 1123.7,924.7 1125.1,923.5 1126.6,921.1 1128,920 1129.5,921.7 1130.9,922.7 1132.3,922 1133.8,922.5 1135.2,922.6 1136.6,923.2 1138.1,925.8 1139.5,928.6 1140.9,930.1 1142.4,932.4 1143.8,935.8 1145.2,940.7 1146.7,946.7 1148.1,953 1149.5,957.2 1151,960.9 1152.4,964.7 1153.8,967.8 1155.3,971.3 1156.7,974.3 1158.2,974.6 1159.6,974.8 1161,976.1 1162.5,977.2 1163.9,977 1165.3,975.7 1166.8,972.9 1168.2,969.4 1169.6,967.3 1171.1,966.8 1172.5,965.9 1173.9,963.7 1175.4,960.6 1176.8,957.2 1178.2,954 1179.7,952.5 1181.1,951.1 1182.5,950.9 1184,950.9 1185.4,952 1186.9,954.4 1188.3,959.3 1189.7,963.9 1191.2,968.4 1192.6,975.4 1194,981.9 1195.5,990.1 1196.9,998.8 1198.3,1005.1 1199.8,1010 1201.2,1014.3 1202.6,1018.5 1204.1,1022 1205.5,1025.6 1206.9,1028.9 1208.4,1028.6 1209.8,1029.3 1211.3,1030.7 1212.7,1029.3 1214.1,1029.3 1215.6,1029.8 1217,1028.9 1218.4,1028.7 1219.9,1030.1 1221.3,1032.5 1222.7,1035.3 1224.2,1037.9 1225.6,1040.1 1227,1042 1228.5,1044.2 1229.9,1044.2 1231.3,1042.1 1232.8,1039.5 1234.2,1037.1 1235.6,1032.3 1237.1,1029.5 1238.5,1026.7 1240,1021.1 1241.4,1013.7 1242.8,1005 1244.3,995.4 1245.7,986.2 1247.1,979 1248.6,972.5 1250,966.5 1251.4,960.5 1252.9,955.6 1254.3,950.5 1255.7,946.7 1257.2,942.5 1258.6,937.7 1260,934.3 1261.5,933.2 1262.9,932 1264.3,931.4 1265.8,930.9 1267.2,927.5 1268.7,926.1 1270.1,924.8 1271.5,926.2 1273,927 1274.4,925.5 1275.8,923.9 1277.3,921.8 1278.7,921.6 1280.1,922.7 1281.6,922.6 1283,924.8 1284.4,926.4 1285.9,928.6 1287.3,931.9 1288.7,934 1290.2,936.9 1291.6,937.7 1293,940.4 1294.5,947.2 1295.9,953.6 1297.4,960.2 1298.8,966.6 1300.2,972.2 1301.7,976.9 1303.1,979.9 1304.5,983.8 1306,986.7 1307.4,987.5 1308.8,990.4 1310.3,992.8 1311.7,994.9 1313.1,996.1 1314.6,997.1 1316,999.4 1317.4,1002.3 1318.9,1003.7 1320.3,1003.1 1321.8,1003 1323.2,1003.1 1324.6,1002.9 1326.1,1001.7 1327.5,1002.9 1328.9,1001.1 1330.4,999.1 1331.8,1000.1 1333.2,1000.5 1334.7,1000.2 1336.1,998.3 1337.5,997.2 1339,996.1 1340.4,996.8 1341.8,997.7 1343.3,999.6 1344.7,1002.7 1346.1,1005 1347.6,1008 1349,1011.5 1350.5,1011.8 1351.9,1008.9 1353.3,1006.6 1354.8,1002.8 1356.2,1001.4 1357.6,997.4 1359.1,995.4 1360.5,993.1 1361.9,989.2 1363.4,984.9 1364.8,979.3 1366.2,973.9 1367.7,968.4 1369.1,962.7 1370.5,960.5 1372,959.2 1373.4,956 1374.8,953.8 1376.3,951.6 1377.7,951.3 1379.2,947.1 1380.6,945.3 1382,944.5 1383.5,944.2 1384.9,944 1386.3,944.7 1387.8,945.6 1389.2,947.3 1390.6,946.8 1392.1,944.6 1393.5,946.8 1394.9,948.3 1396.4,949.4 1397.8,950.8 1399.2,955.7 1400.7,959 1402.1,963.7 1403.6,967.5 1405,972.2 1406.4,977 1407.9,978.2 1409.3,979.3 1410.7,983.1 1412.2,990.9 1413.6,997.8 1415,1007 1416.5,1015.5 1417.9,1022.5 1419.3,1028.4 1420.8,1032.6 1422.2,1036.7 1423.6,1041.3 1425.1,1045.7 1426.5,1049.9 1427.9,1052.9 1429.4,1055.6 1430.8,1057.4 1432.3,1058.5 1433.7,1058.4 1435.1,1056.9 1436.6,1055.2 1438,1054.5 1439.4,1052.8 1440.9,1052.4 1442.3,1051.5 1443.7,1049.2 1445.2,1046.3 1446.6,1042.8 1448,1042.2 1449.5,1042.1 1450.9,1042.4 1452.3,1041 1453.8,1040.4 1455.2,1040.3 1456.6,1038.2 1458.1,1036.4 1459.5,1036.2 1461,1035.4 1462.4,1035.4 1463.8,1036.2 1465.3,1038 1466.7,1040.8 1468.1,1044.9 1469.6,1048.4 1471,1052.2 1472.4,1054.5 1473.9,1056.3 1475.3,1056.7 1476.7,1059.5 1478.2,1062.1 1479.6,1064.3 1481,1064.1 1482.5,1062.8 1483.9,1061.4 1485.3,1058.4 1486.8,1055.6 1488.2,1050.5 1489.7,1046.1 1491.1,1041 1492.5,1037.2 1494,1032.3 1495.4,1028.7 1496.8,1025 1498.3,1021.5 1499.7,1017.9 1501.1,1016.3 1502.6,1015.3 1504,1014.1 1505.4,1010.1 1506.9,1005.4 1508.3,1002.8 1509.7,1000.8 1511.2,997.7 1512.6,996 1514.1,994.2 1515.5,990.8 1516.9,986.3 1518.4,981.4 1519.8,975.5 1521.2,969.9 1522.7,963.9 1524.1,958 1525.5,954.1 1527,951.9 1528.4,947.5 1529.8,944.1 1531.3,942.3 1532.7,940.9 1534.1,939.5 1535.6,941 1537,941.9 1538.4,944.7 1539.9,949.1 1541.3,954.2 1542.8,960.6 1544.2,966.1 1545.6,972.4 1547.1,975.1 1548.5,981.2 1549.9,984.8 1551.4,987.3 1552.8,989.3 1554.2,991.9 1555.7,993.3 1557.1,996.2 1558.5,996.8 1560,997.6 1561.4,998 1562.8,998.7 1564.3,999.3 1565.7,1000.5 1567.1,1003.7 1568.6,1003 1570,1001 1571.5,999.8 1572.9,996.7 1574.3,994.4 1575.8,991.3 1577.2,987.9 1578.6,984.6 1580.1,979.8 1581.5,975.7 1582.9,971.6 1584.4,967.4 1585.8,964.3 1587.2,960.6 1588.7,960 1590.1,960.5 1591.5,959.8 1593,960.5 1594.4,960.8 1595.8,962.8 1597.3,966.3 1598.7,970.7 1600.2,975.3 1601.6,978.2 1603,979.8 1604.5,982.7 1605.9,984.9 1607.3,987.4 1608.8,989 1610.2,990.5 1611.6,992.1 1613.1,992.1 1614.5,992.1 1615.9,991.8 1617.4,988.7 1618.8,984.4 1620.2,980.9 1621.7,976.7 1623.1,971.9 1624.6,968.8 1626,966.2 1627.4,963.8 1628.9,961.6 1630.3,960.1 1631.7,960 1633.2,960.2 1634.6,961.9 1636,960.7 1637.5,960.9 1638.9,962.5 1640.3,965.9 1641.8,971.1 1643.2,976.7 1644.6,980 1646.1,983.6 1647.5,987.3 1648.9,988.9 1650.4,991.2 1651.8,992.2 1653.3,992.7 1654.7,991.6 1656.1,992.4 1657.6,993.6 1659,992.6 1660.4,989.4 1661.9,985.2 1663.3,983.6 1664.7,982.3 1666.2,977.6 1667.6,972.2 1669,970.1 1670.5,965.3 1671.9,962.2 1673.3,960.6 1674.8,958.5 1676.2,957.6 1677.6,957.1 1679.1,959.3 1680.5,959.6 1682,961.6 1683.4,960.6 1684.8,956.7 1686.3,955.1 1687.7,953.6 1689.1,952.5 1690.6,952.2 1692,951.8 1693.4,951.6 1694.9,953.1 1696.3,954.3 1697.7,953.6 1699.2,955.4 1700.6,958.9 1702,961.5 1703.5,966.4 1704.9,973.8 1706.3,982.7 1707.8,990.9 1709.2,996.1 1710.7,1000.8 1712.1,1006.4 1713.5,1009.4 1715,1010.8 1716.4,1011.8 1717.8,1013.4 1719.3,1011.2 1720.7,1009.4 1722.1,1008.4 1723.6,1006.4 1725,1004.6 1726.4,1000.4 1727.9,996.5 1729.3,995.1 1730.7,994.7 1732.2,993.4 1733.6,991.7 1735.1,990.3 1736.5,987.2 1737.9,986.5 1739.4,985.1 1740.8,985 1742.2,984.2 1743.7,983.7 1745.1,983.6 1746.5,983.7 1748,985.2 1749.4,985.8 1750.8,988.8 1752.3,992 1753.7,997.9 1755.1,1005.1 1756.6,1013.6 1758,1018.7 1759.4,1023.4 1760.9,1024.4 1762.3,1025.3 1763.8,1026.2 1765.2,1024.8 1766.6,1024.6 1768.1,1023.3 1769.5,1022.4 1770.9,1020.3 1772.4,1017.3 1773.8,1013.6 1775.2,1009.8 1776.7,1006.3 1778.1,1004.3 1779.5,1002.3 1781,1001.4 1782.4,999.9 1783.8,998.8 1785.3,998.4 1786.7,997.6 1788.1,997.4 1789.6,996.1 1791,993.9 1792.5,992 1793.9,987.7 1795.3,982 1796.8,975.6 1798.2,967.9 1799.6,962.6 1801.1,958.9 1802.5,955.9 1803.9,950.8 1805.4,946.8 1806.8,946 1808.2,943.8 1809.7,944.5 1811.1,945.6 1812.5,946.8 1814,949.5 1815.4,954 1816.9,958 1818.3,963.2 1819.7,968.2 1821.2,971.7 1822.6,975.3 1824,979.7 1825.5,982.5 1826.9,984 1828.3,987.2 1829.8,988.2 1831.2,989.6 1832.6,991.3 1834.1,993.7 1835.5,994.1 1836.9,997.5 1838.4,1001.2 1839.8,1004.7 1841.2,1009 1842.7,1011.8 1844.1,1015.5 1845.6,1019.6 1847,1024.3 1848.4,1027.4 1849.9,1032.1 1851.3,1034.9 1852.7,1036.3 1854.2,1037.8 1855.6,1041 1857,1042 1858.5,1041.6 1859.9,1038.4 1861.3,1036.3 1862.8,1033.9 1864.2,1031.2 1865.6,1027.6 1867.1,1020.6 1868.5,1013.2 1869.9,1004 1871.4,998.9 1872.8,995.3 1874.3,992.3 1875.7,988.4 1877.1,985 1878.6,982.1 1880,982.2 1881.4,981.2 1882.9,981.2 1884.3,980.6 1885.7,980.4 1887.2,980.7 1888.6,981.1 1890,983.9 1891.5,983.2 1892.9,984.3 1894.3,983.3 1895.8,983 1897.2,982.9 1898.6,983.6 1900.1,984.9 1901.5,984.7 1903,982.4 1904.4,980.4 1905.8,980.9 1907.3,983.6 1908.7,986.7 1910.1,987.4 1911.6,986.5 1913,985.3" fill="none" stroke="#FDD835" stroke-width="2" stroke-linejoin="round"/></g>
<g clip-path="url(#clipd)"><rect x="21" y="1261" width="1901" height="2" fill="#9598A1" fill-opacity="0.7"/><g shape-rendering="crispEdges"><path d="M21 1256h1v6h-1zM23 1254h1v8h-1zM24 1251h1v11h-1zM25 1248h1v14h-1zM45 1261h1v1h-1zM47 1259h1v3h-1zM48 1256h1v6h-1zM50 1256h1v6h-1zM51 1255h1v7h-1zM100 1261h1v1h-1zM101 1259h1v3h-1zM103 1257h1v5h-1zM117 1261h1v1h-1zM119 1261h1v1h-1zM120 1259h1v3h-1zM122 1258h1v4h-1zM126 1258h1v4h-1zM129 1258h1v4h-1zM130 1257h1v5h-1zM132 1255h1v7h-1zM133 1252h1v10h-1zM134 1249h1v13h-1zM137 1249h1v13h-1zM182 1262h1v1h-1zM183 1261h1v1h-1zM216 1260h1v2h-1zM218 1258h1v4h-1zM219 1257h1v5h-1zM223 1257h1v5h-1zM231 1262h1v1h-1zM232 1260h1v2h-1zM233 1258h1v4h-1zM235 1257h1v5h-1zM238 1257h1v5h-1zM239 1256h1v6h-1zM246 1257h1v5h-1zM251 1258h1v4h-1zM252 1258h1v4h-1zM274 1261h1v1h-1zM277 1260h1v2h-1zM278 1259h1v3h-1zM279 1258h1v4h-1zM281 1256h1v6h-1zM282 1252h1v10h-1zM284 1247h1v15h-1zM285 1244h1v18h-1zM321 1261h1v1h-1zM322 1261h1v1h-1zM324 1260h1v2h-1zM325 1258h1v4h-1zM330 1259h1v3h-1zM331 1253h1v9h-1zM332 1249h1v13h-1zM334 1248h1v14h-1zM348 1256h1v6h-1zM350 1253h1v9h-1zM351 1253h1v9h-1zM353 1251h1v11h-1zM354 1247h1v15h-1zM365 1261h1v1h-1zM367 1254h1v8h-1zM368 1248h1v14h-1zM370 1242h1v20h-1zM371 1236h1v26h-1zM373 1232h1v30h-1zM374 1230h1v32h-1zM376 1230h1v32h-1zM377 1230h1v32h-1zM421 1261h1v1h-1zM423 1258h1v4h-1zM424 1254h1v8h-1zM426 1254h1v8h-1zM446 1260h1v2h-1zM447 1258h1v4h-1zM449 1250h1v12h-1zM450 1237h1v25h-1zM452 1217h1v45h-1zM453 1205h1v57h-1zM473 1257h1v5h-1zM493 1261h1v1h-1zM551 1261h1v1h-1zM552 1259h1v3h-1zM553 1258h1v4h-1zM555 1255h1v7h-1zM556 1252h1v10h-1zM561 1251h1v11h-1zM562 1247h1v15h-1zM564 1247h1v15h-1zM566 1246h1v16h-1zM576 1253h1v9h-1zM578 1248h1v14h-1zM579 1243h1v19h-1zM581 1240h1v22h-1zM605 1259h1v3h-1zM607 1256h1v6h-1zM611 1255h1v7h-1zM612 1253h1v9h-1zM615 1254h1v8h-1zM620 1259h1v3h-1zM622 1255h1v7h-1zM624 1251h1v11h-1zM625 1250h1v12h-1zM632 1258h1v4h-1zM634 1258h1v4h-1zM635 1258h1v4h-1zM654 1258h1v4h-1zM655 1252h1v10h-1zM673 1262h1v1h-1zM674 1260h1v2h-1zM675 1258h1v4h-1zM677 1252h1v10h-1zM678 1246h1v16h-1zM680 1242h1v20h-1zM681 1239h1v23h-1zM688 1246h1v16h-1zM693 1254h1v8h-1zM694 1251h1v11h-1zM696 1251h1v11h-1zM697 1250h1v12h-1zM700 1252h1v10h-1zM701 1248h1v14h-1zM703 1246h1v16h-1zM704 1245h1v17h-1zM708 1250h1v12h-1zM711 1251h1v11h-1zM746 1261h1v1h-1zM747 1259h1v3h-1zM749 1255h1v7h-1zM752 1253h1v9h-1zM753 1250h1v12h-1zM756 1250h1v12h-1zM759 1251h1v11h-1zM760 1249h1v13h-1zM762 1245h1v17h-1zM769 1253h1v9h-1zM770 1247h1v15h-1zM772 1245h1v17h-1zM799 1261h1v1h-1zM800 1260h1v2h-1zM802 1257h1v5h-1zM805 1254h1v8h-1zM806 1244h1v18h-1zM807 1236h1v26h-1zM819 1259h1v3h-1zM820 1257h1v5h-1zM822 1252h1v10h-1zM823 1244h1v18h-1zM825 1239h1v23h-1zM830 1240h1v22h-1zM878 1261h1v1h-1zM888 1260h1v2h-1zM889 1257h1v5h-1zM891 1257h1v5h-1zM892 1254h1v8h-1zM894 1250h1v12h-1zM895 1246h1v16h-1zM896 1243h1v19h-1zM909 1260h1v2h-1zM911 1254h1v8h-1zM912 1253h1v9h-1zM914 1250h1v12h-1zM915 1246h1v16h-1zM922 1255h1v7h-1zM925 1255h1v7h-1zM927 1251h1v11h-1zM928 1247h1v15h-1zM929 1244h1v18h-1zM941 1257h1v5h-1zM950 1261h1v1h-1zM951 1258h1v4h-1zM952 1257h1v5h-1zM954 1257h1v5h-1zM993 1259h1v3h-1zM994 1256h1v6h-1zM995 1252h1v10h-1zM997 1248h1v14h-1zM998 1244h1v18h-1zM1000 1243h1v19h-1zM1004 1243h1v19h-1zM1006 1242h1v20h-1zM1034 1259h1v3h-1zM1036 1256h1v6h-1zM1037 1256h1v6h-1zM1051 1260h1v2h-1zM1053 1254h1v8h-1zM1054 1247h1v15h-1zM1056 1243h1v19h-1zM1057 1239h1v23h-1zM1059 1235h1v27h-1zM1060 1232h1v30h-1zM1084 1259h1v3h-1zM1086 1257h1v5h-1zM1090 1261h1v1h-1zM1092 1259h1v3h-1zM1093 1256h1v6h-1zM1099 1258h1v4h-1zM1100 1257h1v5h-1zM1102 1256h1v6h-1zM1105 1256h1v6h-1zM1107 1257h1v5h-1zM1109 1254h1v8h-1zM1110 1254h1v8h-1zM1115 1255h1v7h-1zM1122 1259h1v3h-1zM1125 1259h1v3h-1zM1126 1258h1v4h-1zM1132 1262h1v1h-1zM1135 1262h1v1h-1zM1166 1260h1v2h-1zM1168 1260h1v2h-1zM1172 1261h1v1h-1zM1173 1259h1v3h-1zM1175 1256h1v6h-1zM1176 1253h1v9h-1zM1232 1258h1v4h-1zM1234 1255h1v7h-1zM1235 1251h1v11h-1zM1237 1250h1v12h-1zM1238 1249h1v13h-1zM1239 1246h1v16h-1zM1241 1244h1v18h-1zM1242 1241h1v21h-1zM1244 1239h1v23h-1zM1258 1251h1v11h-1zM1267 1255h1v7h-1zM1274 1259h1v3h-1zM1275 1255h1v7h-1zM1277 1253h1v9h-1zM1324 1261h1v1h-1zM1326 1259h1v3h-1zM1327 1258h1v4h-1zM1328 1257h1v5h-1zM1330 1257h1v5h-1zM1336 1262h1v1h-1zM1351 1260h1v2h-1zM1353 1258h1v4h-1zM1354 1255h1v7h-1zM1356 1255h1v7h-1zM1357 1254h1v8h-1zM1361 1253h1v9h-1zM1363 1253h1v9h-1zM1364 1253h1v9h-1zM1366 1252h1v10h-1zM1373 1255h1v7h-1zM1374 1254h1v8h-1zM1379 1254h1v8h-1zM1382 1256h1v6h-1zM1392 1260h1v2h-1zM1394 1261h1v1h-1zM1443 1258h1v4h-1zM1445 1254h1v8h-1zM1446 1250h1v12h-1zM1448 1246h1v16h-1zM1449 1245h1v17h-1zM1456 1255h1v7h-1zM1460 1257h1v5h-1zM1482 1258h1v4h-1zM1483 1254h1v8h-1zM1485 1250h1v12h-1zM1486 1248h1v14h-1zM1488 1244h1v18h-1zM1489 1244h1v18h-1zM1493 1243h1v19h-1zM1502 1250h1v12h-1zM1505 1244h1v18h-1zM1506 1241h1v21h-1zM1508 1240h1v22h-1zM1515 1247h1v15h-1zM1516 1246h1v16h-1zM1518 1246h1v16h-1zM1519 1244h1v18h-1zM1521 1243h1v19h-1zM1522 1242h1v20h-1zM1525 1240h1v22h-1zM1528 1237h1v25h-1zM1570 1254h1v8h-1zM1571 1249h1v13h-1zM1572 1245h1v17h-1zM1574 1243h1v19h-1zM1575 1243h1v19h-1zM1580 1243h1v19h-1zM1591 1256h1v6h-1zM1613 1260h1v2h-1zM1614 1258h1v4h-1zM1617 1258h1v4h-1zM1618 1256h1v6h-1zM1620 1256h1v6h-1zM1621 1254h1v8h-1zM1623 1251h1v11h-1zM1654 1261h1v1h-1zM1656 1261h1v1h-1zM1658 1259h1v3h-1zM1660 1258h1v4h-1zM1661 1257h1v5h-1zM1666 1257h1v5h-1zM1667 1255h1v7h-1zM1670 1253h1v9h-1zM1684 1259h1v3h-1zM1686 1254h1v8h-1zM1687 1251h1v11h-1zM1690 1251h1v11h-1zM1719 1260h1v2h-1zM1720 1259h1v3h-1zM1726 1260h1v2h-1zM1727 1258h1v4h-1zM1729 1257h1v5h-1zM1730 1257h1v5h-1zM1733 1255h1v7h-1zM1735 1253h1v9h-1zM1736 1251h1v11h-1zM1739 1253h1v9h-1zM1765 1260h1v2h-1zM1766 1254h1v8h-1zM1768 1250h1v12h-1zM1769 1248h1v14h-1zM1779 1260h1v2h-1zM1780 1258h1v4h-1zM1782 1254h1v8h-1zM1785 1253h1v9h-1zM1786 1251h1v11h-1zM1788 1251h1v11h-1zM1789 1249h1v13h-1zM1791 1249h1v13h-1zM1793 1245h1v17h-1zM1795 1242h1v20h-1zM1796 1240h1v22h-1zM1798 1238h1v24h-1zM1861 1261h1v1h-1zM1862 1257h1v5h-1zM1864 1255h1v7h-1zM1865 1249h1v13h-1zM1867 1241h1v21h-1zM1868 1234h1v28h-1zM1869 1227h1v35h-1zM1885 1260h1v2h-1zM1887 1254h1v8h-1zM1888 1248h1v14h-1zM1904 1260h1v2h-1zM1905 1259h1v3h-1zM1910 1260h1v2h-1zM1911 1253h1v9h-1z" fill="#26A69A"/><path d="M20 1258h1v4h-1zM27 1249h1v13h-1zM28 1253h1v9h-1zM30 1255h1v7h-1zM31 1258h1v4h-1zM33 1260h1v2h-1zM34 1262h1v1h-1zM53 1255h1v7h-1zM54 1257h1v5h-1zM56 1259h1v3h-1zM57 1261h1v1h-1zM104 1257h1v5h-1zM106 1257h1v5h-1zM107 1259h1v3h-1zM109 1261h1v1h-1zM123 1259h1v3h-1zM124 1259h1v3h-1zM127 1260h1v2h-1zM136 1250h1v12h-1zM139 1249h1v13h-1zM140 1252h1v10h-1zM142 1256h1v6h-1zM143 1259h1v3h-1zM221 1258h1v4h-1zM222 1259h1v3h-1zM225 1259h1v3h-1zM236 1257h1v5h-1zM241 1257h1v5h-1zM242 1258h1v4h-1zM244 1258h1v4h-1zM245 1258h1v4h-1zM248 1259h1v3h-1zM249 1260h1v2h-1zM254 1258h1v4h-1zM255 1260h1v2h-1zM256 1261h1v1h-1zM275 1261h1v1h-1zM287 1244h1v18h-1zM288 1248h1v14h-1zM289 1249h1v13h-1zM291 1251h1v11h-1zM292 1253h1v9h-1zM294 1254h1v8h-1zM295 1258h1v4h-1zM297 1260h1v2h-1zM327 1259h1v3h-1zM328 1260h1v2h-1zM335 1251h1v11h-1zM337 1252h1v10h-1zM338 1253h1v9h-1zM340 1256h1v6h-1zM341 1257h1v5h-1zM343 1258h1v4h-1zM344 1260h1v2h-1zM345 1262h1v1h-1zM355 1248h1v14h-1zM357 1252h1v10h-1zM358 1255h1v7h-1zM378 1241h1v21h-1zM380 1252h1v10h-1zM381 1262h1v1h-1zM427 1256h1v6h-1zM429 1256h1v6h-1zM454 1205h1v57h-1zM456 1210h1v52h-1zM457 1218h1v44h-1zM459 1224h1v38h-1zM460 1232h1v30h-1zM462 1238h1v24h-1zM463 1243h1v19h-1zM465 1248h1v14h-1zM466 1257h1v5h-1zM475 1260h1v2h-1zM558 1252h1v10h-1zM559 1253h1v9h-1zM565 1249h1v13h-1zM568 1247h1v15h-1zM569 1248h1v14h-1zM571 1249h1v13h-1zM572 1253h1v9h-1zM574 1254h1v8h-1zM575 1254h1v8h-1zM582 1241h1v21h-1zM584 1242h1v20h-1zM585 1250h1v12h-1zM586 1255h1v7h-1zM588 1257h1v5h-1zM589 1258h1v4h-1zM591 1259h1v3h-1zM592 1261h1v1h-1zM608 1257h1v5h-1zM609 1257h1v5h-1zM614 1255h1v7h-1zM617 1258h1v4h-1zM618 1259h1v3h-1zM621 1260h1v2h-1zM627 1253h1v9h-1zM628 1255h1v7h-1zM630 1260h1v2h-1zM631 1260h1v2h-1zM657 1254h1v8h-1zM658 1256h1v6h-1zM660 1259h1v3h-1zM683 1242h1v20h-1zM684 1244h1v18h-1zM686 1245h1v17h-1zM687 1246h1v16h-1zM690 1250h1v12h-1zM691 1255h1v7h-1zM698 1252h1v10h-1zM706 1250h1v12h-1zM707 1250h1v12h-1zM710 1251h1v11h-1zM713 1253h1v9h-1zM714 1261h1v1h-1zM750 1256h1v6h-1zM754 1251h1v11h-1zM757 1252h1v10h-1zM763 1245h1v17h-1zM764 1250h1v12h-1zM766 1253h1v9h-1zM767 1257h1v5h-1zM773 1248h1v14h-1zM774 1253h1v9h-1zM776 1257h1v5h-1zM777 1261h1v1h-1zM803 1258h1v4h-1zM809 1240h1v22h-1zM810 1248h1v14h-1zM812 1255h1v7h-1zM813 1260h1v2h-1zM826 1240h1v22h-1zM828 1241h1v21h-1zM829 1242h1v20h-1zM832 1248h1v14h-1zM833 1258h1v4h-1zM898 1246h1v16h-1zM899 1249h1v13h-1zM901 1256h1v6h-1zM917 1246h1v16h-1zM918 1250h1v12h-1zM919 1257h1v5h-1zM921 1258h1v4h-1zM924 1257h1v5h-1zM931 1246h1v16h-1zM932 1247h1v15h-1zM934 1248h1v14h-1zM935 1249h1v13h-1zM937 1254h1v8h-1zM938 1256h1v6h-1zM940 1258h1v4h-1zM942 1259h1v3h-1zM944 1260h1v2h-1zM945 1261h1v1h-1zM955 1258h1v4h-1zM957 1262h1v1h-1zM1001 1244h1v18h-1zM1003 1244h1v18h-1zM1007 1244h1v18h-1zM1008 1248h1v14h-1zM1010 1250h1v12h-1zM1011 1251h1v11h-1zM1013 1252h1v10h-1zM1014 1256h1v6h-1zM1016 1261h1v1h-1zM1039 1257h1v5h-1zM1040 1261h1v1h-1zM1062 1233h1v29h-1zM1063 1233h1v29h-1zM1064 1241h1v21h-1zM1066 1251h1v11h-1zM1067 1257h1v5h-1zM1087 1259h1v3h-1zM1095 1257h1v5h-1zM1096 1257h1v5h-1zM1097 1258h1v4h-1zM1103 1256h1v6h-1zM1106 1257h1v5h-1zM1112 1255h1v7h-1zM1113 1256h1v6h-1zM1116 1255h1v7h-1zM1117 1258h1v4h-1zM1119 1259h1v3h-1zM1120 1261h1v1h-1zM1123 1259h1v3h-1zM1128 1258h1v4h-1zM1129 1261h1v1h-1zM1136 1262h1v1h-1zM1169 1260h1v2h-1zM1171 1261h1v1h-1zM1178 1253h1v9h-1zM1179 1255h1v7h-1zM1181 1257h1v5h-1zM1182 1259h1v3h-1zM1183 1261h1v1h-1zM1245 1240h1v22h-1zM1247 1243h1v19h-1zM1248 1246h1v16h-1zM1249 1249h1v13h-1zM1251 1250h1v12h-1zM1252 1250h1v12h-1zM1254 1250h1v12h-1zM1255 1250h1v12h-1zM1257 1251h1v11h-1zM1260 1251h1v11h-1zM1261 1253h1v9h-1zM1262 1253h1v9h-1zM1264 1254h1v8h-1zM1265 1256h1v6h-1zM1268 1257h1v5h-1zM1270 1259h1v3h-1zM1278 1253h1v9h-1zM1280 1255h1v7h-1zM1281 1257h1v5h-1zM1283 1260h1v2h-1zM1284 1262h1v1h-1zM1331 1260h1v2h-1zM1333 1261h1v1h-1zM1359 1254h1v8h-1zM1360 1255h1v7h-1zM1367 1253h1v9h-1zM1369 1253h1v9h-1zM1370 1255h1v7h-1zM1371 1257h1v5h-1zM1376 1255h1v7h-1zM1377 1257h1v5h-1zM1380 1256h1v6h-1zM1383 1257h1v5h-1zM1384 1258h1v4h-1zM1386 1259h1v3h-1zM1387 1261h1v1h-1zM1393 1261h1v1h-1zM1450 1247h1v15h-1zM1452 1248h1v14h-1zM1453 1252h1v10h-1zM1455 1256h1v6h-1zM1458 1256h1v6h-1zM1459 1258h1v4h-1zM1462 1258h1v4h-1zM1463 1260h1v2h-1zM1491 1244h1v18h-1zM1492 1244h1v18h-1zM1495 1244h1v18h-1zM1496 1246h1v16h-1zM1498 1248h1v14h-1zM1499 1250h1v12h-1zM1501 1250h1v12h-1zM1504 1250h1v12h-1zM1509 1243h1v19h-1zM1511 1243h1v19h-1zM1512 1247h1v15h-1zM1514 1248h1v14h-1zM1524 1243h1v19h-1zM1526 1241h1v21h-1zM1529 1240h1v22h-1zM1531 1245h1v17h-1zM1532 1253h1v9h-1zM1534 1257h1v5h-1zM1577 1243h1v19h-1zM1578 1244h1v18h-1zM1581 1245h1v17h-1zM1582 1248h1v14h-1zM1584 1250h1v12h-1zM1585 1252h1v10h-1zM1587 1254h1v8h-1zM1588 1256h1v6h-1zM1590 1257h1v5h-1zM1592 1258h1v4h-1zM1594 1259h1v3h-1zM1615 1259h1v3h-1zM1624 1252h1v10h-1zM1625 1254h1v8h-1zM1627 1256h1v6h-1zM1628 1257h1v5h-1zM1630 1259h1v3h-1zM1631 1260h1v2h-1zM1633 1261h1v1h-1zM1657 1261h1v1h-1zM1663 1258h1v4h-1zM1664 1259h1v3h-1zM1669 1255h1v7h-1zM1671 1253h1v9h-1zM1673 1255h1v7h-1zM1674 1255h1v7h-1zM1676 1257h1v5h-1zM1677 1261h1v1h-1zM1689 1251h1v11h-1zM1691 1252h1v10h-1zM1693 1255h1v7h-1zM1694 1259h1v3h-1zM1722 1260h1v2h-1zM1723 1261h1v1h-1zM1732 1258h1v4h-1zM1737 1253h1v9h-1zM1740 1257h1v5h-1zM1742 1259h1v3h-1zM1743 1262h1v1h-1zM1770 1250h1v12h-1zM1772 1250h1v12h-1zM1773 1252h1v10h-1zM1775 1254h1v8h-1zM1776 1258h1v4h-1zM1778 1261h1v1h-1zM1783 1254h1v8h-1zM1792 1249h1v13h-1zM1799 1239h1v23h-1zM1801 1242h1v20h-1zM1802 1245h1v17h-1zM1803 1245h1v17h-1zM1805 1247h1v15h-1zM1806 1252h1v10h-1zM1808 1255h1v7h-1zM1809 1260h1v2h-1zM1871 1234h1v28h-1zM1872 1240h1v22h-1zM1874 1249h1v13h-1zM1875 1254h1v8h-1zM1877 1260h1v2h-1zM1890 1248h1v14h-1zM1891 1249h1v13h-1zM1892 1256h1v6h-1zM1894 1257h1v5h-1zM1895 1260h1v2h-1zM1907 1262h1v1h-1zM1912 1255h1v7h-1z" fill="#B2DFDB"/><path d="M41 1262h1v3h-1zM44 1262h1v3h-1zM64 1262h1v2h-1zM66 1262h1v2h-1zM67 1262h1v1h-1zM68 1262h1v1h-1zM71 1262h1v1h-1zM77 1262h1v4h-1zM81 1262h1v7h-1zM86 1262h1v6h-1zM89 1262h1v6h-1zM90 1262h1v6h-1zM94 1262h1v6h-1zM96 1262h1v6h-1zM97 1262h1v4h-1zM99 1262h1v1h-1zM113 1262h1v2h-1zM114 1262h1v1h-1zM116 1262h1v1h-1zM149 1262h1v2h-1zM153 1262h1v5h-1zM155 1262h1v4h-1zM156 1262h1v2h-1zM157 1262h1v1h-1zM166 1262h1v6h-1zM167 1262h1v6h-1zM169 1262h1v5h-1zM173 1262h1v5h-1zM178 1262h1v6h-1zM179 1262h1v3h-1zM180 1262h1v2h-1zM188 1262h1v2h-1zM189 1262h1v1h-1zM193 1262h1v1h-1zM199 1262h1v4h-1zM208 1262h1v8h-1zM209 1262h1v6h-1zM211 1262h1v5h-1zM212 1262h1v4h-1zM213 1262h1v4h-1zM215 1262h1v1h-1zM229 1262h1v1h-1zM261 1262h1v3h-1zM265 1262h1v5h-1zM268 1262h1v3h-1zM269 1262h1v1h-1zM271 1262h1v1h-1zM308 1262h1v16h-1zM310 1262h1v12h-1zM311 1262h1v8h-1zM312 1262h1v7h-1zM314 1262h1v5h-1zM315 1262h1v1h-1zM318 1262h1v2h-1zM320 1262h1v1h-1zM364 1262h1v3h-1zM386 1262h1v9h-1zM387 1262h1v9h-1zM390 1262h1v8h-1zM391 1262h1v7h-1zM399 1262h1v12h-1zM400 1262h1v11h-1zM410 1262h1v20h-1zM411 1262h1v18h-1zM413 1262h1v12h-1zM414 1262h1v11h-1zM416 1262h1v8h-1zM417 1262h1v6h-1zM419 1262h1v5h-1zM420 1262h1v3h-1zM439 1262h1v11h-1zM440 1262h1v6h-1zM442 1262h1v4h-1zM443 1262h1v4h-1zM444 1262h1v1h-1zM472 1262h1v1h-1zM483 1262h1v15h-1zM486 1262h1v15h-1zM487 1262h1v14h-1zM489 1262h1v11h-1zM490 1262h1v9h-1zM492 1262h1v1h-1zM503 1262h1v18h-1zM505 1262h1v17h-1zM506 1262h1v16h-1zM508 1262h1v15h-1zM509 1262h1v13h-1zM510 1262h1v8h-1zM512 1262h1v5h-1zM518 1262h1v8h-1zM519 1262h1v7h-1zM525 1262h1v16h-1zM526 1262h1v15h-1zM528 1262h1v10h-1zM529 1262h1v7h-1zM531 1262h1v7h-1zM532 1262h1v5h-1zM542 1262h1v18h-1zM543 1262h1v13h-1zM545 1262h1v10h-1zM546 1262h1v8h-1zM548 1262h1v5h-1zM549 1262h1v3h-1zM597 1262h1v5h-1zM598 1262h1v5h-1zM602 1262h1v7h-1zM604 1262h1v1h-1zM645 1262h1v44h-1zM647 1262h1v34h-1zM648 1262h1v25h-1zM650 1262h1v18h-1zM651 1262h1v12h-1zM653 1262h1v3h-1zM668 1262h1v11h-1zM670 1262h1v9h-1zM671 1262h1v4h-1zM720 1262h1v9h-1zM723 1262h1v10h-1zM726 1262h1v8h-1zM727 1262h1v8h-1zM729 1262h1v5h-1zM737 1262h1v14h-1zM739 1262h1v13h-1zM740 1262h1v11h-1zM741 1262h1v6h-1zM743 1262h1v4h-1zM744 1262h1v3h-1zM783 1262h1v3h-1zM790 1262h1v19h-1zM792 1262h1v19h-1zM793 1262h1v11h-1zM795 1262h1v6h-1zM796 1262h1v1h-1zM816 1262h1v1h-1zM845 1262h1v32h-1zM846 1262h1v30h-1zM848 1262h1v23h-1zM849 1262h1v19h-1zM851 1262h1v17h-1zM852 1262h1v16h-1zM856 1262h1v17h-1zM868 1262h1v31h-1zM869 1262h1v31h-1zM871 1262h1v29h-1zM872 1262h1v22h-1zM874 1262h1v15h-1zM875 1262h1v7h-1zM876 1262h1v1h-1zM881 1262h1v2h-1zM884 1262h1v3h-1zM885 1262h1v2h-1zM886 1262h1v2h-1zM905 1262h1v3h-1zM907 1262h1v3h-1zM908 1262h1v1h-1zM948 1262h1v1h-1zM962 1262h1v9h-1zM964 1262h1v7h-1zM965 1262h1v6h-1zM967 1262h1v3h-1zM968 1262h1v2h-1zM971 1262h1v2h-1zM981 1262h1v18h-1zM983 1262h1v17h-1zM984 1262h1v14h-1zM985 1262h1v11h-1zM987 1262h1v8h-1zM988 1262h1v5h-1zM990 1262h1v4h-1zM991 1262h1v1h-1zM1023 1262h1v15h-1zM1024 1262h1v14h-1zM1026 1262h1v11h-1zM1027 1262h1v10h-1zM1028 1262h1v5h-1zM1030 1262h1v2h-1zM1031 1262h1v1h-1zM1033 1262h1v1h-1zM1046 1262h1v6h-1zM1047 1262h1v6h-1zM1049 1262h1v3h-1zM1050 1262h1v1h-1zM1076 1262h1v13h-1zM1077 1262h1v11h-1zM1079 1262h1v9h-1zM1080 1262h1v8h-1zM1082 1262h1v7h-1zM1083 1262h1v2h-1zM1140 1262h1v8h-1zM1142 1262h1v7h-1zM1150 1262h1v15h-1zM1152 1262h1v12h-1zM1153 1262h1v10h-1zM1155 1262h1v7h-1zM1156 1262h1v5h-1zM1158 1262h1v4h-1zM1159 1262h1v3h-1zM1161 1262h1v3h-1zM1162 1262h1v1h-1zM1163 1262h1v1h-1zM1165 1262h1v1h-1zM1195 1262h1v20h-1zM1196 1262h1v18h-1zM1198 1262h1v15h-1zM1199 1262h1v12h-1zM1201 1262h1v8h-1zM1202 1262h1v6h-1zM1204 1262h1v4h-1zM1205 1262h1v4h-1zM1206 1262h1v4h-1zM1208 1262h1v2h-1zM1214 1262h1v6h-1zM1216 1262h1v5h-1zM1218 1262h1v2h-1zM1227 1262h1v7h-1zM1228 1262h1v6h-1zM1229 1262h1v3h-1zM1231 1262h1v1h-1zM1295 1262h1v14h-1zM1297 1262h1v13h-1zM1298 1262h1v13h-1zM1301 1262h1v12h-1zM1303 1262h1v10h-1zM1304 1262h1v8h-1zM1305 1262h1v8h-1zM1307 1262h1v4h-1zM1311 1262h1v8h-1zM1313 1262h1v7h-1zM1318 1262h1v10h-1zM1320 1262h1v6h-1zM1321 1262h1v3h-1zM1323 1262h1v1h-1zM1338 1262h1v1h-1zM1341 1262h1v1h-1zM1346 1262h1v3h-1zM1350 1262h1v1h-1zM1390 1262h1v1h-1zM1407 1262h1v10h-1zM1409 1262h1v9h-1zM1419 1262h1v43h-1zM1420 1262h1v37h-1zM1422 1262h1v32h-1zM1423 1262h1v31h-1zM1425 1262h1v31h-1zM1426 1262h1v28h-1zM1427 1262h1v17h-1zM1429 1262h1v10h-1zM1430 1262h1v5h-1zM1436 1262h1v10h-1zM1437 1262h1v10h-1zM1439 1262h1v6h-1zM1440 1262h1v3h-1zM1442 1262h1v1h-1zM1472 1262h1v13h-1zM1475 1262h1v11h-1zM1476 1262h1v11h-1zM1478 1262h1v11h-1zM1479 1262h1v9h-1zM1481 1262h1v3h-1zM1545 1262h1v24h-1zM1547 1262h1v14h-1zM1548 1262h1v13h-1zM1549 1262h1v11h-1zM1551 1262h1v7h-1zM1554 1262h1v9h-1zM1558 1262h1v11h-1zM1564 1262h1v14h-1zM1565 1262h1v11h-1zM1567 1262h1v9h-1zM1568 1262h1v1h-1zM1601 1262h1v10h-1zM1603 1262h1v8h-1zM1604 1262h1v8h-1zM1605 1262h1v7h-1zM1607 1262h1v6h-1zM1608 1262h1v4h-1zM1610 1262h1v3h-1zM1611 1262h1v1h-1zM1636 1262h1v1h-1zM1637 1262h1v1h-1zM1644 1262h1v7h-1zM1648 1262h1v5h-1zM1650 1262h1v5h-1zM1651 1262h1v3h-1zM1653 1262h1v1h-1zM1680 1262h1v2h-1zM1683 1262h1v2h-1zM1707 1262h1v26h-1zM1709 1262h1v20h-1zM1710 1262h1v14h-1zM1712 1262h1v13h-1zM1713 1262h1v9h-1zM1714 1262h1v4h-1zM1716 1262h1v2h-1zM1717 1262h1v1h-1zM1746 1262h1v2h-1zM1749 1262h1v4h-1zM1758 1262h1v33h-1zM1759 1262h1v28h-1zM1760 1262h1v18h-1zM1762 1262h1v10h-1zM1763 1262h1v5h-1zM1821 1262h1v11h-1zM1822 1262h1v9h-1zM1824 1262h1v8h-1zM1825 1262h1v4h-1zM1826 1262h1v4h-1zM1829 1262h1v4h-1zM1835 1262h1v7h-1zM1842 1262h1v16h-1zM1844 1262h1v15h-1zM1845 1262h1v12h-1zM1848 1262h1v14h-1zM1851 1262h1v16h-1zM1852 1262h1v12h-1zM1854 1262h1v10h-1zM1855 1262h1v10h-1zM1857 1262h1v9h-1zM1858 1262h1v7h-1zM1859 1262h1v1h-1zM1882 1262h1v5h-1zM1884 1262h1v3h-1zM1901 1262h1v13h-1zM1902 1262h1v4h-1z" fill="#FFCDD2"/><path d="M35 1262h1v1h-1zM37 1262h1v2h-1zM38 1262h1v3h-1zM40 1262h1v3h-1zM43 1262h1v4h-1zM58 1262h1v1h-1zM60 1262h1v1h-1zM61 1262h1v1h-1zM63 1262h1v3h-1zM70 1262h1v2h-1zM73 1262h1v2h-1zM74 1262h1v4h-1zM76 1262h1v5h-1zM78 1262h1v6h-1zM80 1262h1v8h-1zM83 1262h1v7h-1zM84 1262h1v8h-1zM87 1262h1v7h-1zM91 1262h1v6h-1zM93 1262h1v7h-1zM110 1262h1v2h-1zM111 1262h1v3h-1zM144 1262h1v1h-1zM146 1262h1v1h-1zM147 1262h1v2h-1zM150 1262h1v3h-1zM152 1262h1v5h-1zM159 1262h1v2h-1zM160 1262h1v3h-1zM162 1262h1v4h-1zM163 1262h1v5h-1zM165 1262h1v6h-1zM170 1262h1v6h-1zM172 1262h1v6h-1zM175 1262h1v5h-1zM176 1262h1v6h-1zM185 1262h1v1h-1zM186 1262h1v2h-1zM190 1262h1v1h-1zM192 1262h1v2h-1zM195 1262h1v3h-1zM196 1262h1v5h-1zM198 1262h1v5h-1zM200 1262h1v4h-1zM202 1262h1v4h-1zM203 1262h1v8h-1zM205 1262h1v9h-1zM206 1262h1v9h-1zM226 1262h1v1h-1zM228 1262h1v1h-1zM258 1262h1v2h-1zM259 1262h1v3h-1zM262 1262h1v4h-1zM264 1262h1v5h-1zM266 1262h1v5h-1zM272 1262h1v1h-1zM298 1262h1v1h-1zM299 1262h1v3h-1zM301 1262h1v12h-1zM302 1262h1v15h-1zM304 1262h1v16h-1zM305 1262h1v17h-1zM307 1262h1v18h-1zM317 1262h1v2h-1zM347 1262h1v1h-1zM360 1262h1v1h-1zM361 1262h1v3h-1zM363 1262h1v4h-1zM383 1262h1v8h-1zM384 1262h1v10h-1zM388 1262h1v11h-1zM393 1262h1v8h-1zM394 1262h1v10h-1zM396 1262h1v12h-1zM397 1262h1v13h-1zM401 1262h1v13h-1zM403 1262h1v16h-1zM404 1262h1v18h-1zM406 1262h1v19h-1zM407 1262h1v20h-1zM409 1262h1v21h-1zM430 1262h1v1h-1zM432 1262h1v4h-1zM433 1262h1v10h-1zM434 1262h1v12h-1zM436 1262h1v14h-1zM437 1262h1v15h-1zM467 1262h1v1h-1zM469 1262h1v5h-1zM470 1262h1v5h-1zM476 1262h1v4h-1zM477 1262h1v9h-1zM479 1262h1v10h-1zM480 1262h1v13h-1zM482 1262h1v18h-1zM485 1262h1v15h-1zM495 1262h1v3h-1zM496 1262h1v10h-1zM498 1262h1v16h-1zM499 1262h1v18h-1zM500 1262h1v21h-1zM502 1262h1v24h-1zM513 1262h1v5h-1zM515 1262h1v8h-1zM516 1262h1v9h-1zM520 1262h1v9h-1zM522 1262h1v14h-1zM523 1262h1v17h-1zM533 1262h1v7h-1zM535 1262h1v7h-1zM536 1262h1v11h-1zM538 1262h1v14h-1zM539 1262h1v17h-1zM541 1262h1v20h-1zM594 1262h1v1h-1zM595 1262h1v5h-1zM599 1262h1v7h-1zM601 1262h1v8h-1zM637 1262h1v1h-1zM638 1262h1v12h-1zM640 1262h1v25h-1zM641 1262h1v34h-1zM642 1262h1v41h-1zM644 1262h1v47h-1zM661 1262h1v1h-1zM663 1262h1v7h-1zM664 1262h1v11h-1zM665 1262h1v13h-1zM667 1262h1v14h-1zM716 1262h1v5h-1zM717 1262h1v11h-1zM719 1262h1v12h-1zM721 1262h1v10h-1zM724 1262h1v11h-1zM730 1262h1v7h-1zM731 1262h1v10h-1zM733 1262h1v12h-1zM734 1262h1v14h-1zM736 1262h1v15h-1zM779 1262h1v1h-1zM780 1262h1v1h-1zM782 1262h1v3h-1zM785 1262h1v4h-1zM786 1262h1v14h-1zM787 1262h1v18h-1zM789 1262h1v21h-1zM797 1262h1v1h-1zM815 1262h1v1h-1zM818 1262h1v1h-1zM835 1262h1v5h-1zM836 1262h1v9h-1zM838 1262h1v11h-1zM839 1262h1v17h-1zM841 1262h1v27h-1zM842 1262h1v31h-1zM843 1262h1v33h-1zM853 1262h1v17h-1zM855 1262h1v19h-1zM858 1262h1v20h-1zM859 1262h1v23h-1zM861 1262h1v24h-1zM862 1262h1v27h-1zM863 1262h1v28h-1zM865 1262h1v31h-1zM866 1262h1v32h-1zM879 1262h1v2h-1zM882 1262h1v4h-1zM902 1262h1v2h-1zM904 1262h1v4h-1zM947 1262h1v1h-1zM958 1262h1v3h-1zM960 1262h1v8h-1zM961 1262h1v10h-1zM970 1262h1v3h-1zM973 1262h1v3h-1zM974 1262h1v5h-1zM975 1262h1v9h-1zM977 1262h1v15h-1zM978 1262h1v18h-1zM980 1262h1v19h-1zM1017 1262h1v3h-1zM1018 1262h1v8h-1zM1020 1262h1v12h-1zM1021 1262h1v15h-1zM1041 1262h1v4h-1zM1043 1262h1v7h-1zM1044 1262h1v7h-1zM1069 1262h1v1h-1zM1070 1262h1v7h-1zM1072 1262h1v11h-1zM1073 1262h1v15h-1zM1074 1262h1v16h-1zM1089 1262h1v1h-1zM1130 1262h1v1h-1zM1133 1262h1v1h-1zM1138 1262h1v6h-1zM1139 1262h1v9h-1zM1143 1262h1v9h-1zM1145 1262h1v12h-1zM1146 1262h1v15h-1zM1148 1262h1v17h-1zM1149 1262h1v17h-1zM1185 1262h1v2h-1zM1186 1262h1v4h-1zM1188 1262h1v9h-1zM1189 1262h1v13h-1zM1191 1262h1v16h-1zM1192 1262h1v21h-1zM1194 1262h1v21h-1zM1209 1262h1v4h-1zM1211 1262h1v7h-1zM1212 1262h1v7h-1zM1215 1262h1v6h-1zM1219 1262h1v3h-1zM1221 1262h1v4h-1zM1222 1262h1v6h-1zM1224 1262h1v7h-1zM1225 1262h1v8h-1zM1271 1262h1v1h-1zM1272 1262h1v1h-1zM1285 1262h1v3h-1zM1287 1262h1v5h-1zM1288 1262h1v7h-1zM1290 1262h1v9h-1zM1291 1262h1v10h-1zM1293 1262h1v11h-1zM1294 1262h1v14h-1zM1300 1262h1v13h-1zM1308 1262h1v6h-1zM1310 1262h1v8h-1zM1314 1262h1v8h-1zM1316 1262h1v9h-1zM1317 1262h1v11h-1zM1334 1262h1v1h-1zM1337 1262h1v1h-1zM1340 1262h1v1h-1zM1343 1262h1v1h-1zM1344 1262h1v3h-1zM1347 1262h1v4h-1zM1349 1262h1v4h-1zM1389 1262h1v2h-1zM1396 1262h1v1h-1zM1397 1262h1v3h-1zM1399 1262h1v5h-1zM1400 1262h1v8h-1zM1402 1262h1v10h-1zM1403 1262h1v12h-1zM1404 1262h1v13h-1zM1406 1262h1v14h-1zM1410 1262h1v9h-1zM1412 1262h1v15h-1zM1413 1262h1v23h-1zM1415 1262h1v36h-1zM1416 1262h1v44h-1zM1417 1262h1v46h-1zM1432 1262h1v9h-1zM1433 1262h1v11h-1zM1435 1262h1v11h-1zM1465 1262h1v1h-1zM1466 1262h1v4h-1zM1468 1262h1v6h-1zM1469 1262h1v9h-1zM1470 1262h1v14h-1zM1473 1262h1v14h-1zM1535 1262h1v3h-1zM1537 1262h1v4h-1zM1538 1262h1v11h-1zM1539 1262h1v18h-1zM1541 1262h1v23h-1zM1542 1262h1v28h-1zM1544 1262h1v28h-1zM1552 1262h1v9h-1zM1555 1262h1v10h-1zM1557 1262h1v12h-1zM1559 1262h1v12h-1zM1561 1262h1v12h-1zM1562 1262h1v14h-1zM1595 1262h1v1h-1zM1597 1262h1v5h-1zM1598 1262h1v10h-1zM1600 1262h1v11h-1zM1634 1262h1v1h-1zM1638 1262h1v2h-1zM1640 1262h1v5h-1zM1641 1262h1v7h-1zM1643 1262h1v7h-1zM1646 1262h1v8h-1zM1647 1262h1v8h-1zM1679 1262h1v2h-1zM1681 1262h1v3h-1zM1696 1262h1v2h-1zM1697 1262h1v4h-1zM1699 1262h1v12h-1zM1700 1262h1v17h-1zM1702 1262h1v19h-1zM1703 1262h1v23h-1zM1704 1262h1v25h-1zM1706 1262h1v27h-1zM1725 1262h1v1h-1zM1745 1262h1v3h-1zM1747 1262h1v4h-1zM1750 1262h1v10h-1zM1752 1262h1v16h-1zM1753 1262h1v23h-1zM1755 1262h1v30h-1zM1756 1262h1v35h-1zM1811 1262h1v3h-1zM1812 1262h1v7h-1zM1813 1262h1v8h-1zM1815 1262h1v11h-1zM1816 1262h1v11h-1zM1818 1262h1v11h-1zM1819 1262h1v12h-1zM1828 1262h1v5h-1zM1831 1262h1v6h-1zM1832 1262h1v7h-1zM1834 1262h1v8h-1zM1836 1262h1v11h-1zM1838 1262h1v16h-1zM1839 1262h1v18h-1zM1841 1262h1v19h-1zM1846 1262h1v15h-1zM1849 1262h1v17h-1zM1878 1262h1v1h-1zM1879 1262h1v4h-1zM1881 1262h1v6h-1zM1897 1262h1v3h-1zM1898 1262h1v7h-1zM1900 1262h1v13h-1zM1908 1262h1v1h-1z" fill="#FF5252"/></g><polyline points="20.1,1253.6 21.6,1250.3 23,1246.3 24.4,1240.5 25.9,1233.8 27.3,1232.1 28.8,1233 30.2,1234.1 31.6,1236.1 33.1,1237.6 34.5,1239 35.9,1241.2 37.4,1242.6 38.8,1244.5 40.2,1245.6 41.7,1246 43.1,1247.9 44.5,1247.9 46,1244.3 47.4,1240.6 48.8,1236.9 50.3,1235 51.7,1232.7 53.1,1231.3 54.6,1231.1 56,1232.7 57.5,1234.5 58.9,1235.5 60.3,1237 61.8,1237.3 63.2,1239.5 64.6,1239.6 66.1,1239.6 67.5,1239.3 68.9,1238.9 70.4,1240.7 71.8,1239.7 73.2,1241.4 74.7,1244.1 76.1,1246.8 77.5,1247.4 79,1250.1 80.4,1254.8 81.9,1255.3 83.3,1257.2 84.7,1259.8 86.2,1260.3 87.6,1262.5 89,1263.5 90.5,1265.1 91.9,1266.7 93.3,1268.8 94.8,1269.9 96.2,1271.4 97.6,1270.1 99.1,1267.9 100.5,1265.8 101.9,1263 103.4,1259.1 104.8,1258.3 106.2,1257.3 107.7,1258.3 109.1,1260 110.6,1263.2 112,1265.5 113.4,1265.2 114.9,1263.9 116.3,1264.2 117.7,1262.6 119.2,1261.9 120.6,1260 122,1257.1 123.5,1257.5 124.9,1257 126.3,1255.2 127.8,1257 129.2,1253.8 130.6,1251.8 132.1,1248.1 133.5,1242.6 134.9,1236.2 136.4,1233.9 137.8,1230 139.3,1227.1 140.7,1226.9 142.1,1229.3 143.6,1232 145,1235.3 146.4,1236.9 147.9,1238.6 149.3,1239.1 150.7,1240.7 152.2,1243.6 153.6,1244.7 155,1244.9 156.5,1243.5 157.9,1243 159.3,1244.2 160.8,1245.6 162.2,1247.9 163.7,1249.8 165.1,1253.2 166.5,1254.5 168,1256 169.4,1256.8 170.8,1258.6 172.3,1260.3 173.7,1260.3 175.1,1261.6 176.6,1264.5 178,1265.7 179.4,1264.3 180.9,1263 182.3,1260.8 183.7,1260.7 185.2,1262.3 186.6,1264 188,1263.9 189.5,1263.6 190.9,1264.4 192.4,1265.2 193.8,1264.7 195.2,1268.2 196.7,1270.5 198.1,1272.7 199.5,1272.2 201,1273.7 202.4,1275.1 203.8,1280.3 205.3,1284 206.7,1286.3 208.1,1286.7 209.6,1286.5 211,1287.1 212.4,1287.5 213.9,1288.2 215.3,1286 216.7,1282.2 218.2,1278.9 219.6,1276.9 221.1,1276.6 222.5,1276.7 223.9,1274.5 225.4,1275.6 226.8,1278.9 228.2,1280.2 229.7,1279.4 231.1,1278.7 232.5,1276.1 234,1273.7 235.4,1270.8 236.8,1270 238.3,1268.7 239.7,1266.4 241.1,1265.9 242.6,1266.4 244,1265.5 245.4,1265 246.9,1262.5 248.3,1263.7 249.8,1263.6 251.2,1261.6 252.6,1259.8 254.1,1259.7 255.5,1260.6 256.9,1261.8 258.4,1265.2 259.8,1266.9 261.2,1267.5 262.7,1270.3 264.1,1272.3 265.5,1273 267,1274.5 268.4,1272.9 269.8,1271.3 271.3,1271 272.7,1271.7 274.2,1270.2 275.6,1270.3 277,1267.8 278.5,1266.2 279.9,1264.3 281.3,1260.8 282.8,1254.9 284.2,1245.4 285.6,1238.4 287.1,1234.4 288.5,1234.5 289.9,1232.7 291.4,1231.6 292.8,1231.8 294.2,1231.1 295.7,1233.5 297.1,1235.7 298.5,1237.3 300,1241.5 301.4,1253.1 302.9,1259.9 304.3,1265 305.7,1270.9 307.2,1275.6 308.6,1277.8 310,1276.8 311.5,1274.9 312.9,1275.2 314.3,1274.7 315.8,1271.8 317.2,1272.5 318.6,1272.9 320.1,1271.6 321.5,1270 322.9,1269.3 324.4,1267.7 325.8,1265.4 327.2,1266 328.7,1265.7 330.1,1264.1 331.6,1256 333,1248.9 334.4,1244.8 335.9,1245.4 337.3,1243.7 338.7,1242.5 340.2,1243.5 341.6,1243.9 343,1244 344.5,1245.3 345.9,1246.9 347.3,1249 348.8,1240.6 350.2,1234.8 351.6,1232.5 353.1,1228.1 354.5,1220.8 355.9,1218.4 357.4,1219.7 358.8,1220.4 360.3,1227.7 361.7,1232.3 363.1,1233.4 364.6,1233.1 366,1228.8 367.4,1219.7 368.9,1210.9 370.3,1199.6 371.7,1187.1 373.2,1175.7 374.6,1166.3 376,1158.3 377.5,1150 378.9,1155.6 380.3,1164.3 381.8,1173.8 383.2,1184.2 384.7,1189.2 386.1,1190.6 387.5,1192.8 389,1198 390.4,1196.6 391.8,1197 393.3,1200.6 394.7,1204.4 396.1,1209.4 397.6,1214.7 399,1216.1 400.4,1218.4 401.9,1223.9 403.3,1230 404.7,1237 406.2,1242.7 407.6,1248.6 409,1255.6 410.5,1259.4 411.9,1262.4 413.4,1259.6 414.8,1260.6 416.2,1259.8 417.7,1259.3 419.1,1259.8 420.5,1258.4 422,1253.7 423.4,1250.5 424.8,1244.1 426.3,1242.1 427.7,1242.3 429.1,1241.4 430.6,1248.3 432,1253 433.4,1261 434.9,1265.7 436.3,1271.3 437.7,1276.3 439.2,1275.5 440.6,1271.9 442.1,1270.6 443.5,1271.3 444.9,1269 446.4,1265.7 447.8,1263.1 449.2,1251.2 450.7,1232.5 452.1,1200.8 453.5,1174.8 455,1160.7 456.4,1152.7 457.8,1149.5 459.3,1146.2 460.7,1146.5 462.1,1146.2 463.6,1146.8 465,1149.1 466.5,1157 467.9,1162.9 469.3,1168.3 470.8,1170 472.2,1165.3 473.6,1158.9 475.1,1160.7 476.5,1168.6 477.9,1175.5 479.4,1179.3 480.8,1185.9 482.2,1194.9 483.7,1196.3 485.1,1200.3 486.5,1203.5 488,1205.7 489.4,1205.6 490.8,1206.2 492.3,1199.1 493.7,1196.8 495.2,1201 496.6,1210.9 498,1220.3 499.5,1227.5 500.9,1235.7 502.3,1245.1 503.8,1243.9 505.2,1246.3 506.6,1250.2 508.1,1253 509.5,1253.5 510.9,1250.9 512.4,1248.9 513.8,1250.6 515.2,1255.4 516.7,1259.2 518.1,1259.6 519.5,1260.7 521,1265.2 522.4,1273.4 523.9,1280.3 525.3,1283.5 526.7,1286.6 528.2,1284.3 529.6,1283.2 531,1284.6 532.5,1283.7 533.9,1287.2 535.3,1289.8 536.8,1296.6 538.2,1303.5 539.6,1310.3 541.1,1318.3 542.5,1320.4 543.9,1319.6 545.4,1318.6 546.8,1318.7 548.2,1317.2 549.7,1315.4 551.1,1311 552.6,1308.2 554,1306.5 555.4,1302.5 556.9,1296.8 558.3,1294.5 559.7,1292.9 561.2,1288.3 562.6,1280.9 564,1276.5 565.5,1275.4 566.9,1268.5 568.3,1265.7 569.8,1263.2 571.2,1261.5 572.6,1263.6 574.1,1262.6 575.5,1260.8 577,1257.1 578.4,1249.3 579.8,1239.6 581.3,1231.4 582.7,1226.9 584.1,1223.2 585.6,1227.6 587,1230.7 588.4,1232.2 589.9,1232.2 591.3,1232.2 592.7,1234.1 594.2,1235 595.6,1241.3 597,1242.6 598.5,1243.8 599.9,1247.5 601.3,1251.2 602.8,1251.8 604.2,1246.2 605.7,1241.2 607.1,1237.5 608.5,1236.4 610,1235.5 611.4,1232.1 612.8,1228.2 614.3,1227.5 615.7,1224.5 617.1,1227.4 618.6,1228.6 620,1227.6 621.4,1228.2 622.9,1221.6 624.3,1214.6 625.7,1210.9 627.2,1211.8 628.6,1211.8 630,1216.7 631.5,1216.6 632.9,1213.3 634.4,1212.1 635.8,1210.7 637.2,1215.3 638.7,1230.5 640.1,1249.1 641.5,1267.2 643,1284.1 644.4,1301.6 645.8,1310.6 647.3,1309.1 648.7,1305.9 650.1,1303.4 651.6,1300.5 653,1292.6 654.4,1284.8 655.9,1275.5 657.3,1276.5 658.7,1276.7 660.2,1279.3 661.6,1283.5 663.1,1291 664.5,1298.5 665.9,1303.9 667.4,1307.8 668.8,1308 670.2,1308.7 671.7,1304 673.1,1299.7 674.5,1297.6 676,1294.3 677.4,1286.7 678.8,1276.1 680.3,1267.3 681.7,1258.8 683.1,1256.6 684.6,1253.6 686,1251.5 687.5,1248.1 688.9,1244 690.3,1244.9 691.8,1248.3 693.2,1245.1 694.6,1239.8 696.1,1236.8 697.5,1233.1 698.9,1232.6 700.4,1229.6 701.8,1222.1 703.2,1216.1 704.7,1211.7 706.1,1213.3 707.5,1210.9 709,1207.8 710.4,1206.2 711.8,1203.5 713.3,1203.1 714.7,1211 716.2,1218 717.6,1226.6 719,1231.1 720.5,1230 721.9,1234.2 723.3,1236.6 724.8,1239.9 726.2,1239.6 727.6,1240.8 729.1,1239.5 730.5,1243.2 731.9,1248.6 733.4,1253.7 734.8,1259.6 736.2,1263.6 737.7,1266.1 739.1,1268.5 740.5,1269.8 742,1265.9 743.4,1265 744.9,1264.5 746.3,1260.9 747.7,1258.5 749.2,1252.7 750.6,1251.7 752,1247.4 753.5,1241.2 754.9,1239 756.3,1235.8 757.8,1235.4 759.2,1231.2 760.6,1225.9 762.1,1217.6 763.5,1213.8 764.9,1215.7 766.4,1217.1 767.8,1218.9 769.2,1212.9 770.7,1203.3 772.1,1196.9 773.6,1196.4 775,1199 776.4,1201.8 777.9,1205.9 779.3,1207.4 780.7,1208.2 782.2,1211 783.6,1211.4 785,1214.4 786.5,1227.1 787.9,1236.5 789.3,1244.5 790.8,1247.1 792.2,1251.7 793.6,1247.2 795.1,1243.1 796.5,1239 798,1239.4 799.4,1237.4 800.8,1234.9 802.3,1231.7 803.7,1231.5 805.1,1225.8 806.6,1211.3 808,1196.6 809.4,1195.8 810.9,1200 812.3,1205 813.7,1209.1 815.2,1212.4 816.6,1212.6 818,1212.9 819.5,1208.6 820.9,1205.9 822.3,1197.5 823.8,1185.6 825.2,1174.9 826.7,1170.1 828.1,1166.3 829.5,1161.7 831,1155.1 832.4,1159.3 833.8,1168.6 835.3,1178.9 836.7,1184.4 838.1,1189.8 839.6,1199.6 841,1216.5 842.4,1228.3 843.9,1239.1 845.3,1246.2 846.7,1251.1 848.2,1250 849.6,1251 851,1253.2 852.5,1256.8 853.9,1261.7 855.4,1268.3 856.8,1271.1 858.2,1279.2 859.7,1288 861.1,1295.4 862.5,1305.1 864,1313.1 865.4,1323.9 866.8,1333.1 868.3,1339.8 869.7,1347 871.1,1352.3 872.6,1351.6 874,1347.7 875.4,1341.4 876.9,1335.9 878.3,1333.7 879.8,1337.3 881.2,1337.6 882.6,1341.2 884.1,1340.4 885.5,1340.7 886.9,1340.5 888.4,1336 889.8,1332.4 891.2,1330.9 892.7,1326.2 894.1,1318.9 895.5,1311.6 897,1304 898.4,1302.1 899.8,1301.8 901.3,1308 902.7,1316.5 904.1,1319.1 905.6,1319 907,1319.5 908.5,1317.8 909.9,1314.5 911.3,1306.9 912.8,1303.3 914.2,1297.2 915.6,1289.2 917.1,1285.8 918.5,1286.5 919.9,1292.1 921.4,1291.9 922.8,1288.1 924.2,1288.3 925.7,1284.4 927.1,1278.3 928.5,1270.3 930,1262.8 931.4,1261.5 932.8,1258.9 934.3,1256.1 935.7,1253.9 937.2,1256.7 938.6,1257.5 940,1258.7 941.5,1256.8 942.9,1257.8 944.3,1257.8 945.8,1258.7 947.2,1261.4 948.6,1261.6 950.1,1259.2 951.5,1255.1 952.9,1253.5 954.4,1251.6 955.8,1252.1 957.2,1255.6 958.7,1259.3 960.1,1266.6 961.5,1271.1 963,1272.5 964.4,1272.5 965.9,1272.3 967.3,1271.2 968.7,1269.9 970.2,1271.8 971.6,1271.9 973,1273.7 974.5,1277 975.9,1283.4 977.3,1292.8 978.8,1300.1 980.2,1306.4 981.6,1309.6 983.1,1312.7 984.5,1314.1 985.9,1313.6 987.4,1312.6 988.8,1310.9 990.3,1310.9 991.7,1308.7 993.1,1303.2 994.6,1298.7 996,1292.6 997.4,1285.1 998.9,1276.3 1000.3,1271.4 1001.7,1267.2 1003.2,1262.9 1004.6,1257.5 1006,1251.7 1007.5,1249.2 1008.9,1249.6 1010.3,1248.5 1011.8,1247.2 1013.2,1245.6 1014.6,1248.3 1016.1,1253.3 1017.5,1257.7 1019,1264.9 1020.4,1272.2 1021.8,1278.6 1023.3,1282.3 1024.7,1284.8 1026.1,1284.8 1027.6,1286.7 1029,1282.6 1030.4,1280.8 1031.9,1279.7 1033.3,1278.9 1034.7,1274.8 1036.2,1270.6 1037.6,1269 1039,1269 1040.5,1272.5 1041.9,1278.7 1043.3,1283 1044.8,1285 1046.2,1285.1 1047.7,1286.5 1049.1,1285.3 1050.5,1282.3 1052,1279.2 1053.4,1271.8 1054.8,1261.1 1056.3,1251.6 1057.7,1242 1059.1,1231.8 1060.6,1221.3 1062,1214.5 1063.4,1207.5 1064.9,1210.4 1066.3,1218.3 1067.7,1223 1069.2,1228.7 1070.6,1236.7 1072,1243.7 1073.5,1251.2 1074.9,1256 1076.4,1256 1077.8,1257.6 1079.2,1257.7 1080.7,1258.2 1082.1,1259.2 1083.5,1255.1 1085,1249.2 1086.4,1246.7 1087.8,1247.8 1089.3,1251.6 1090.7,1249.9 1092.1,1247.2 1093.6,1242.7 1095,1241.9 1096.4,1241.4 1097.9,1241.2 1099.3,1239.8 1100.8,1237.8 1102.2,1235.1 1103.6,1234 1105.1,1232.5 1106.5,1232.8 1107.9,1230.8 1109.4,1226.7 1110.8,1223.8 1112.2,1223.8 1113.7,1222.7 1115.1,1220.6 1116.5,1219.1 1118,1221 1119.4,1221.5 1120.8,1222.5 1122.3,1220.2 1123.7,1220.1 1125.1,1218.8 1126.6,1216.9 1128,1216.1 1129.5,1218.8 1130.9,1219.9 1132.3,1219.5 1133.8,1220.8 1135.2,1219.6 1136.6,1219.7 1138.1,1227 1139.5,1232.1 1140.9,1233.6 1142.4,1233.9 1143.8,1238.5 1145.2,1244.6 1146.7,1251 1148.1,1257.6 1149.5,1262.5 1151,1264.1 1152.4,1264.2 1153.8,1264.4 1155.3,1263.3 1156.7,1262.2 1158.2,1263.1 1159.6,1263 1161,1262.8 1162.5,1261.3 1163.9,1261.2 1165.3,1260.9 1166.8,1258.9 1168.2,1257.4 1169.6,1257.7 1171.1,1258.8 1172.5,1258.1 1173.9,1255.8 1175.4,1250.8 1176.8,1246.2 1178.2,1244.3 1179.7,1244.5 1181.1,1245.1 1182.5,1246.2 1184,1248.5 1185.4,1251.8 1186.9,1254.8 1188.3,1262 1189.7,1269.7 1191.2,1276.8 1192.6,1286.5 1194,1291.8 1195.5,1296 1196.9,1299.1 1198.3,1299.7 1199.8,1299.3 1201.2,1298.1 1202.6,1297.1 1204.1,1296.5 1205.5,1297.6 1206.9,1298 1208.4,1296.9 1209.8,1299.3 1211.3,1304.7 1212.7,1306.6 1214.1,1307.4 1215.6,1309.2 1217,1308.4 1218.4,1306.8 1219.9,1308.4 1221.3,1310.7 1222.7,1314.2 1224.2,1316.6 1225.6,1319.8 1227,1321.3 1228.5,1320.9 1229.9,1319.5 1231.3,1316.7 1232.8,1311.6 1234.2,1307 1235.6,1300.4 1237.1,1295.9 1238.5,1291.5 1240,1285.3 1241.4,1277.9 1242.8,1270.7 1244.3,1263 1245.7,1258.3 1247.1,1257 1248.6,1255.9 1250,1255.2 1251.4,1253.2 1252.9,1250.4 1254.3,1247.6 1255.7,1244.7 1257.2,1243 1258.6,1239.8 1260,1237.2 1261.5,1236.7 1262.9,1234.9 1264.3,1233.5 1265.8,1233.8 1267.2,1231.8 1268.7,1232.7 1270.1,1234 1271.5,1237.5 1273,1238.5 1274.4,1233.3 1275.8,1227.7 1277.3,1223.4 1278.7,1221.4 1280.1,1221.9 1281.6,1222.6 1283,1225.7 1284.4,1226.9 1285.9,1230.8 1287.3,1233.7 1288.7,1237.5 1290.2,1242.6 1291.6,1246 1293,1250.1 1294.5,1256.3 1295.9,1259.7 1297.4,1262.5 1298.8,1265.7 1300.2,1269 1301.7,1270.4 1303.1,1270.9 1304.5,1271.4 1306,1272.9 1307.4,1270.6 1308.8,1274.1 1310.3,1278.3 1311.7,1280.1 1313.1,1281.1 1314.6,1284.5 1316,1287.7 1317.4,1291.6 1318.9,1293.1 1320.3,1291.5 1321.8,1289.5 1323.2,1287.4 1324.6,1285.1 1326.1,1282.8 1327.5,1280.6 1328.9,1278.5 1330.4,1277.3 1331.8,1279.7 1333.2,1280.6 1334.7,1281.8 1336.1,1281.2 1337.5,1283 1339,1283 1340.4,1283.3 1341.8,1283 1343.3,1284.2 1344.7,1286.8 1346.1,1287.5 1347.6,1289 1349,1290.4 1350.5,1288 1351.9,1284.6 1353.3,1281.3 1354.8,1276.9 1356.2,1275.1 1357.6,1271.7 1359.1,1270.6 1360.5,1269.5 1361.9,1265.5 1363.4,1263.2 1364.8,1260.7 1366.2,1257.5 1367.7,1255.8 1369.1,1254.5 1370.5,1254.5 1372,1254.6 1373.4,1251.2 1374.8,1248.7 1376.3,1248.2 1377.7,1248.8 1379.2,1244.3 1380.6,1244.2 1382,1242.3 1383.5,1242.7 1384.9,1242.8 1386.3,1243.3 1387.8,1245.1 1389.2,1248 1390.6,1247.9 1392.1,1244.1 1393.5,1245.1 1394.9,1244.6 1396.4,1246 1397.8,1249.1 1399.2,1253.1 1400.7,1258.3 1402.1,1263.1 1403.6,1267.5 1405,1272.4 1406.4,1276.8 1407.9,1275.7 1409.3,1276.1 1410.7,1279 1412.2,1288.6 1413.6,1302.5 1415,1324.9 1416.5,1344.1 1417.9,1356.8 1419.3,1364.8 1420.8,1368.2 1422.2,1371.2 1423.6,1378.2 1425.1,1385.7 1426.5,1390.5 1427.9,1383.8 1429.4,1379 1430.8,1374.9 1432.3,1381.7 1433.7,1386 1435.1,1389 1436.6,1390.4 1438,1392.6 1439.4,1389.9 1440.9,1388.5 1442.3,1385.4 1443.7,1380.6 1445.2,1374.7 1446.6,1367.9 1448,1359.2 1449.5,1354.9 1450.9,1352.6 1452.3,1350.2 1453.8,1351.4 1455.2,1354.2 1456.6,1351.6 1458.1,1351.2 1459.5,1351.6 1461,1350.4 1462.4,1350.5 1463.8,1351.4 1465.3,1354.6 1466.7,1358.5 1468.1,1363 1469.6,1367.4 1471,1375.9 1472.4,1378.8 1473.9,1382.6 1475.3,1382.7 1476.7,1385.2 1478.2,1387.8 1479.6,1388.7 1481,1382.9 1482.5,1375.5 1483.9,1370 1485.3,1362.2 1486.8,1357.6 1488.2,1348.7 1489.7,1344 1491.1,1340.1 1492.5,1335.8 1494,1330.1 1495.4,1326.6 1496.8,1324.6 1498.3,1323.6 1499.7,1322.4 1501.1,1319.6 1502.6,1316.5 1504,1314 1505.4,1303.7 1506.9,1295.2 1508.3,1288.6 1509.7,1286.5 1511.2,1282.4 1512.6,1282.3 1514.1,1280.1 1515.5,1275.6 1516.9,1270.2 1518.4,1265.9 1519.8,1259.9 1521.2,1254.5 1522.7,1248.6 1524.1,1244.7 1525.5,1235.7 1527,1232.2 1528.4,1221.6 1529.8,1219.7 1531.3,1220.1 1532.7,1226.5 1534.1,1228.9 1535.6,1237.4 1537,1239.9 1538.4,1250 1539.9,1260.9 1541.3,1272.3 1542.8,1283.9 1544.2,1291.4 1545.6,1293.1 1547.1,1287.3 1548.5,1288.7 1549.9,1289.2 1551.4,1287.4 1552.8,1291.8 1554.2,1293.7 1555.7,1298.1 1557.1,1302.1 1558.5,1303.9 1560,1308.1 1561.4,1311.4 1562.8,1317.3 1564.3,1320.1 1565.7,1319.9 1567.1,1320.2 1568.6,1312.8 1570,1301.6 1571.5,1293.1 1572.9,1284.7 1574.3,1278.8 1575.8,1274 1577.2,1269.6 1578.6,1265.4 1580.1,1260 1581.5,1257.6 1582.9,1257.7 1584.4,1256.4 1585.8,1256.2 1587.2,1255.7 1588.7,1256.3 1590.1,1256.5 1591.5,1254.4 1593,1254.8 1594.4,1255.2 1595.8,1258.8 1597.3,1265.3 1598.7,1271.8 1600.2,1276.1 1601.6,1277.8 1603,1278 1604.5,1279.8 1605.9,1280.4 1607.3,1280.9 1608.8,1280.3 1610.2,1279.4 1611.6,1276.9 1613.1,1274 1614.5,1271.5 1615.9,1271.4 1617.4,1269.3 1618.8,1266.3 1620.2,1264.6 1621.7,1260.2 1623.1,1254.6 1624.6,1253.9 1626,1253.7 1627.4,1254.1 1628.9,1253.9 1630.3,1254.8 1631.7,1256.1 1633.2,1256.7 1634.6,1259.5 1636,1259.5 1637.5,1259.7 1638.9,1260.6 1640.3,1265.4 1641.8,1269.4 1643.2,1271.6 1644.6,1273.5 1646.1,1275.5 1647.5,1277.8 1648.9,1276.5 1650.4,1277.4 1651.8,1276.7 1653.3,1275 1654.7,1273.1 1656.1,1272.1 1657.6,1272.1 1659,1269.6 1660.4,1267.7 1661.9,1264.8 1663.3,1265.3 1664.7,1266.2 1666.2,1262.1 1667.6,1258.5 1669,1256.8 1670.5,1252.7 1671.9,1250.6 1673.3,1250.4 1674.8,1248.8 1676.2,1250.2 1677.6,1253.3 1679.1,1257.6 1680.5,1257.9 1682,1259.7 1683.4,1259.4 1684.8,1253 1686.3,1245.9 1687.7,1240.5 1689.1,1238.4 1690.6,1235.4 1692,1234.5 1693.4,1235.9 1694.9,1239.1 1696.3,1244.4 1697.7,1247.2 1699.2,1259 1700.6,1268 1702,1274.8 1703.5,1284.9 1704.9,1292.6 1706.3,1301.4 1707.8,1306.7 1709.2,1306.6 1710.7,1304 1712.1,1306.4 1713.5,1304.4 1715,1300.4 1716.4,1299.3 1717.8,1297.8 1719.3,1295.2 1720.7,1293.7 1722.1,1293.8 1723.6,1294.7 1725,1295.7 1726.4,1293.1 1727.9,1289.8 1729.3,1288.1 1730.7,1286.5 1732.2,1286.2 1733.6,1282.4 1735.1,1278.2 1736.5,1272.7 1737.9,1273.1 1739.4,1270.8 1740.8,1273.1 1742.2,1274.5 1743.7,1277.2 1745.1,1281.1 1746.5,1281.2 1748,1283.8 1749.4,1284.7 1750.8,1293.7 1752.3,1303.7 1753.7,1316.8 1755.1,1331.4 1756.6,1344.5 1758,1351.7 1759.4,1352.9 1760.9,1347.4 1762.3,1341.6 1763.8,1338.5 1765.2,1330.9 1766.6,1323.5 1768.1,1316.6 1769.5,1310.6 1770.9,1309.2 1772.4,1307.3 1773.8,1306.4 1775.2,1306.9 1776.7,1309.2 1778.1,1312.3 1779.5,1310.8 1781,1307.3 1782.4,1302 1783.8,1300.5 1785.3,1296.6 1786.7,1291.8 1788.1,1288.9 1789.6,1283.6 1791,1280.1 1792.5,1277.2 1793.9,1269.8 1795.3,1261.1 1796.8,1254.1 1798.2,1246.5 1799.6,1241.8 1801.1,1240 1802.5,1238.4 1803.9,1234.4 1805.4,1231.9 1806.8,1235.2 1808.2,1235.9 1809.7,1240.7 1811.1,1247 1812.5,1252.3 1814,1255.6 1815.4,1260.7 1816.9,1263.5 1818.3,1266.9 1819.7,1270.5 1821.2,1272.1 1822.6,1273.3 1824,1273.5 1825.5,1271 1826.9,1271.5 1828.3,1273.8 1829.8,1274.5 1831.2,1277.7 1832.6,1281.1 1834.1,1284.2 1835.5,1284.8 1836.9,1291.9 1838.4,1300 1839.8,1307.4 1841.2,1313 1842.7,1314.6 1844.1,1317.2 1845.6,1317 1847,1323.4 1848.4,1326.7 1849.9,1333.1 1851.3,1336.2 1852.7,1336 1854.2,1336.1 1855.6,1338.5 1857,1340.2 1858.5,1339.7 1859.9,1333.6 1861.3,1332.3 1862.8,1326.4 1864.2,1322.3 1865.6,1313.2 1867.1,1300.2 1868.5,1286.1 1869.9,1271 1871.4,1270.3 1872.8,1271.6 1874.3,1276.7 1875.7,1279.9 1877.1,1285.2 1878.6,1288.7 1880,1293.1 1881.4,1296.4 1882.9,1296.6 1884.3,1295.8 1885.7,1290.2 1887.2,1281.8 1888.6,1272.5 1890,1269.1 1891.5,1266.5 1892.9,1271.8 1894.3,1272.5 1895.8,1274.8 1897.2,1280.1 1898.6,1286.7 1900.1,1296.2 1901.5,1299.5 1903,1291.4 1904.4,1285.1 1905.8,1283.2 1907.3,1285.7 1908.7,1286.7 1910.1,1283.5 1911.6,1274.6 1913,1274.7" fill="none" stroke="#2962FF" stroke-width="2" stroke-linejoin="round"/><polyline points="20.1,1257 21.6,1255.6 23,1253.8 24.4,1251.1 25.9,1247.7 27.3,1244.5 28.8,1242.2 30.2,1240.6 31.6,1239.7 33.1,1239.3 34.5,1239.2 35.9,1239.6 37.4,1240.2 38.8,1241.1 40.2,1242 41.7,1242.8 43.1,1243.8 44.5,1244.6 46,1244.6 47.4,1243.8 48.8,1242.4 50.3,1240.9 51.7,1239.3 53.1,1237.7 54.6,1236.4 56,1235.6 57.5,1235.4 58.9,1235.4 60.3,1235.7 61.8,1236.1 63.2,1236.8 64.6,1237.3 66.1,1237.8 67.5,1238.1 68.9,1238.2 70.4,1238.7 71.8,1238.9 73.2,1239.4 74.7,1240.3 76.1,1241.6 77.5,1242.8 79,1244.2 80.4,1246.3 81.9,1248.1 83.3,1250 84.7,1251.9 86.2,1253.6 87.6,1255.4 89,1257 90.5,1258.6 91.9,1260.2 93.3,1261.9 94.8,1263.5 96.2,1265.1 97.6,1266.1 99.1,1266.4 100.5,1266.3 101.9,1265.6 103.4,1264.3 104.8,1263.1 106.2,1262 107.7,1261.2 109.1,1261 110.6,1261.4 112,1262.2 113.4,1262.8 114.9,1263.1 116.3,1263.3 117.7,1263.1 119.2,1262.9 120.6,1262.3 122,1261.2 123.5,1260.5 124.9,1259.8 126.3,1258.9 127.8,1258.5 129.2,1257.6 130.6,1256.4 132.1,1254.7 133.5,1252.3 134.9,1249.1 136.4,1246 137.8,1242.8 139.3,1239.7 140.7,1237.1 142.1,1235.6 143.6,1234.8 145,1234.9 146.4,1235.3 147.9,1236 149.3,1236.6 150.7,1237.4 152.2,1238.7 153.6,1239.9 155,1240.9 156.5,1241.4 157.9,1241.7 159.3,1242.2 160.8,1242.9 162.2,1243.9 163.7,1245.1 165.1,1246.7 166.5,1248.3 168,1249.8 169.4,1251.2 170.8,1252.7 172.3,1254.2 173.7,1255.4 175.1,1256.7 176.6,1258.2 178,1259.7 179.4,1260.7 180.9,1261.1 182.3,1261.1 183.7,1261 185.2,1261.3 186.6,1261.8 188,1262.2 189.5,1262.5 190.9,1262.9 192.4,1263.4 193.8,1263.6 195.2,1264.5 196.7,1265.7 198.1,1267.1 199.5,1268.1 201,1269.3 202.4,1270.4 203.8,1272.4 205.3,1274.7 206.7,1277 208.1,1279 209.6,1280.5 211,1281.8 212.4,1283 213.9,1284 215.3,1284.4 216.7,1284 218.2,1283 219.6,1281.7 221.1,1280.7 222.5,1279.9 223.9,1278.8 225.4,1278.2 226.8,1278.3 228.2,1278.7 229.7,1278.9 231.1,1278.8 232.5,1278.3 234,1277.4 235.4,1276 236.8,1274.8 238.3,1273.6 239.7,1272.2 241.1,1270.9 242.6,1270 244,1269.1 245.4,1268.3 246.9,1267.1 248.3,1266.5 249.8,1265.9 251.2,1265 252.6,1264 254.1,1263.1 255.5,1262.6 256.9,1262.5 258.4,1263 259.8,1263.8 261.2,1264.5 262.7,1265.7 264.1,1267 265.5,1268.2 267,1269.5 268.4,1270.1 269.8,1270.4 271.3,1270.5 272.7,1270.7 274.2,1270.6 275.6,1270.6 277,1270 278.5,1269.3 279.9,1268.3 281.3,1266.8 282.8,1264.4 284.2,1260.6 285.6,1256.2 287.1,1251.8 288.5,1248.4 289.9,1245.2 291.4,1242.5 292.8,1240.4 294.2,1238.5 295.7,1237.5 297.1,1237.1 298.5,1237.2 300,1238 301.4,1241 302.9,1244.8 304.3,1248.9 305.7,1253.3 307.2,1257.7 308.6,1261.7 310,1264.8 311.5,1266.8 312.9,1268.5 314.3,1269.7 315.8,1270.1 317.2,1270.6 318.6,1271 320.1,1271.2 321.5,1270.9 322.9,1270.6 324.4,1270 325.8,1269.1 327.2,1268.5 328.7,1267.9 330.1,1267.2 331.6,1264.9 333,1261.7 334.4,1258.4 335.9,1255.8 337.3,1253.3 338.7,1251.2 340.2,1249.7 341.6,1248.5 343,1247.6 344.5,1247.1 345.9,1247.1 347.3,1247.5 348.8,1246.1 350.2,1243.8 351.6,1241.6 353.1,1238.9 354.5,1235.3 355.9,1231.9 357.4,1229.5 358.8,1227.6 360.3,1227.7 361.7,1228.6 363.1,1229.5 364.6,1230.3 366,1230 367.4,1227.9 368.9,1224.5 370.3,1219.5 371.7,1213 373.2,1205.6 374.6,1197.7 376,1189.8 377.5,1181.9 378.9,1176.6 380.3,1174.2 381.8,1174.1 383.2,1176.1 384.7,1178.7 386.1,1181.1 387.5,1183.5 389,1186.4 390.4,1188.4 391.8,1190.1 393.3,1192.2 394.7,1194.7 396.1,1197.6 397.6,1201 399,1204 400.4,1206.9 401.9,1210.3 403.3,1214.2 404.7,1218.8 406.2,1223.6 407.6,1228.6 409,1234 410.5,1239.1 411.9,1243.7 413.4,1246.9 414.8,1249.6 416.2,1251.7 417.7,1253.2 419.1,1254.5 420.5,1255.3 422,1255 423.4,1254.1 424.8,1252.1 426.3,1250.1 427.7,1248.5 429.1,1247.1 430.6,1247.4 432,1248.5 433.4,1251 434.9,1253.9 436.3,1257.4 437.7,1261.2 439.2,1264.1 440.6,1265.6 442.1,1266.6 443.5,1267.5 444.9,1267.8 446.4,1267.4 447.8,1266.6 449.2,1263.5 450.7,1257.3 452.1,1246 453.5,1231.8 455,1217.5 456.4,1204.6 457.8,1193.6 459.3,1184.1 460.7,1176.6 462.1,1170.5 463.6,1165.8 465,1162.4 466.5,1161.3 467.9,1161.7 469.3,1163 470.8,1164.4 472.2,1164.6 473.6,1163.4 475.1,1162.9 476.5,1164 477.9,1166.3 479.4,1168.9 480.8,1172.3 482.2,1176.8 483.7,1180.7 485.1,1184.6 486.5,1188.4 488,1191.9 489.4,1194.6 490.8,1196.9 492.3,1197.4 493.7,1197.3 495.2,1198 496.6,1200.6 498,1204.5 499.5,1209.1 500.9,1214.4 502.3,1220.6 503.8,1225.3 505.2,1229.5 506.6,1233.6 508.1,1237.5 509.5,1240.7 510.9,1242.7 512.4,1244 513.8,1245.3 515.2,1247.3 516.7,1249.7 518.1,1251.7 519.5,1253.5 521,1255.8 522.4,1259.3 523.9,1263.5 525.3,1267.5 526.7,1271.3 528.2,1273.9 529.6,1275.8 531,1277.5 532.5,1278.8 533.9,1280.5 535.3,1282.3 536.8,1285.2 538.2,1288.9 539.6,1293.2 541.1,1298.2 542.5,1302.6 543.9,1306 545.4,1308.5 546.8,1310.6 548.2,1311.9 549.7,1312.6 551.1,1312.3 552.6,1311.4 554,1310.5 555.4,1308.9 556.9,1306.4 558.3,1304.1 559.7,1301.8 561.2,1299.1 562.6,1295.5 564,1291.7 565.5,1288.4 566.9,1284.5 568.3,1280.7 569.8,1277.2 571.2,1274.1 572.6,1272 574.1,1270.1 575.5,1268.2 577,1266 578.4,1262.7 579.8,1258.1 581.3,1252.7 582.7,1247.6 584.1,1242.7 585.6,1239.7 587,1237.9 588.4,1236.8 589.9,1235.9 591.3,1235.1 592.7,1234.9 594.2,1234.9 595.6,1236.2 597,1237.5 598.5,1238.7 599.9,1240.5 601.3,1242.6 602.8,1244.5 604.2,1244.8 605.7,1244.1 607.1,1242.8 608.5,1241.5 610,1240.3 611.4,1238.7 612.8,1236.6 614.3,1234.7 615.7,1232.7 617.1,1231.6 618.6,1231 620,1230.3 621.4,1229.9 622.9,1228.3 624.3,1225.5 625.7,1222.6 627.2,1220.5 628.6,1218.7 630,1218.3 631.5,1218 632.9,1217 634.4,1216 635.8,1215 637.2,1215 638.7,1218.1 640.1,1224.3 641.5,1232.9 643,1243.1 644.4,1254.8 645.8,1266 647.3,1274.6 648.7,1280.9 650.1,1285.4 651.6,1288.4 653,1289.2 654.4,1288.4 655.9,1285.8 657.3,1283.9 658.7,1282.5 660.2,1281.9 661.6,1282.2 663.1,1283.9 664.5,1286.9 665.9,1290.3 667.4,1293.8 668.8,1296.6 670.2,1299 671.7,1300 673.1,1300 674.5,1299.5 676,1298.4 677.4,1296.1 678.8,1292.1 680.3,1287.1 681.7,1281.5 683.1,1276.5 684.6,1271.9 686,1267.8 687.5,1263.9 688.9,1259.9 690.3,1256.9 691.8,1255.2 693.2,1253.2 694.6,1250.5 696.1,1247.8 697.5,1244.8 698.9,1242.4 700.4,1239.8 701.8,1236.3 703.2,1232.2 704.7,1228.1 706.1,1225.2 707.5,1222.3 709,1219.4 710.4,1216.8 711.8,1214.1 713.3,1211.9 714.7,1211.7 716.2,1213 717.6,1215.7 719,1218.8 720.5,1221 721.9,1223.7 723.3,1226.3 724.8,1229 726.2,1231.1 727.6,1233 729.1,1234.3 730.5,1236.1 731.9,1238.6 733.4,1241.6 734.8,1245.2 736.2,1248.9 737.7,1252.3 739.1,1255.6 740.5,1258.4 742,1259.9 743.4,1260.9 744.9,1261.7 746.3,1261.5 747.7,1260.9 749.2,1259.3 750.6,1257.8 752,1255.7 753.5,1252.8 754.9,1250 756.3,1247.2 757.8,1244.8 759.2,1242.1 760.6,1238.9 762.1,1234.6 763.5,1230.4 764.9,1227.5 766.4,1225.4 767.8,1224.1 769.2,1221.9 770.7,1218.2 772.1,1213.9 773.6,1210.4 775,1208.1 776.4,1206.9 777.9,1206.7 779.3,1206.8 780.7,1207.1 782.2,1207.9 783.6,1208.6 785,1209.7 786.5,1213.2 787.9,1217.9 789.3,1223.2 790.8,1228 792.2,1232.7 793.6,1235.6 795.1,1237.1 796.5,1237.5 798,1237.9 799.4,1237.8 800.8,1237.2 802.3,1236.1 803.7,1235.2 805.1,1233.3 806.6,1228.9 808,1222.4 809.4,1217.1 810.9,1213.7 812.3,1212 813.7,1211.4 815.2,1211.6 816.6,1211.8 818,1212 819.5,1211.3 820.9,1210.2 822.3,1207.7 823.8,1203.3 825.2,1197.6 826.7,1192.1 828.1,1186.9 829.5,1181.9 831,1176.5 832.4,1173.1 833.8,1172.2 835.3,1173.5 836.7,1175.7 838.1,1178.5 839.6,1182.7 841,1189.5 842.4,1197.3 843.9,1205.6 845.3,1213.7 846.7,1221.2 848.2,1227 849.6,1231.8 851,1236 852.5,1240.2 853.9,1244.5 855.4,1249.3 856.8,1253.6 858.2,1258.7 859.7,1264.6 861.1,1270.8 862.5,1277.6 864,1284.7 865.4,1292.6 866.8,1300.7 868.3,1308.5 869.7,1316.2 871.1,1323.4 872.6,1329 874,1332.8 875.4,1334.5 876.9,1334.8 878.3,1334.6 879.8,1335.1 881.2,1335.6 882.6,1336.7 884.1,1337.5 885.5,1338.1 886.9,1338.6 888.4,1338.1 889.8,1336.9 891.2,1335.7 892.7,1333.8 894.1,1330.9 895.5,1327 897,1322.4 898.4,1318.3 899.8,1315 901.3,1313.6 902.7,1314.2 904.1,1315.2 905.6,1315.9 907,1316.7 908.5,1316.9 909.9,1316.4 911.3,1314.5 912.8,1312.3 914.2,1309.3 915.6,1305.2 917.1,1301.4 918.5,1298.4 919.9,1297.1 921.4,1296.1 922.8,1294.5 924.2,1293.3 925.7,1291.5 927.1,1288.9 928.5,1285.1 930,1280.7 931.4,1276.8 932.8,1273.3 934.3,1269.8 935.7,1266.6 937.2,1264.7 938.6,1263.2 940,1262.3 941.5,1261.2 942.9,1260.5 944.3,1260 945.8,1259.7 947.2,1260.1 948.6,1260.4 950.1,1260.1 951.5,1259.1 952.9,1258 954.4,1256.7 955.8,1255.8 957.2,1255.8 958.7,1256.5 960.1,1258.5 961.5,1261 963,1263.3 964.4,1265.2 965.9,1266.6 967.3,1267.5 968.7,1268 970.2,1268.7 971.6,1269.4 973,1270.3 974.5,1271.6 975.9,1274 977.3,1277.7 978.8,1282.2 980.2,1287 981.6,1291.5 983.1,1295.8 984.5,1299.4 985.9,1302.3 987.4,1304.3 988.8,1305.6 990.3,1306.7 991.7,1307.1 993.1,1306.3 994.6,1304.8 996,1302.4 997.4,1298.9 998.9,1294.4 1000.3,1289.8 1001.7,1285.3 1003.2,1280.8 1004.6,1276.1 1006,1271.3 1007.5,1266.8 1008.9,1263.4 1010.3,1260.4 1011.8,1257.8 1013.2,1255.3 1014.6,1253.9 1016.1,1253.8 1017.5,1254.6 1019,1256.6 1020.4,1259.8 1021.8,1263.5 1023.3,1267.3 1024.7,1270.8 1026.1,1273.6 1027.6,1276.2 1029,1277.5 1030.4,1278.1 1031.9,1278.5 1033.3,1278.6 1034.7,1277.8 1036.2,1276.4 1037.6,1274.9 1039,1273.7 1040.5,1273.5 1041.9,1274.5 1043.3,1276.2 1044.8,1278 1046.2,1279.4 1047.7,1280.8 1049.1,1281.7 1050.5,1281.8 1052,1281.3 1053.4,1279.4 1054.8,1275.7 1056.3,1270.9 1057.7,1265.1 1059.1,1258.5 1060.6,1251 1062,1243.7 1063.4,1236.5 1064.9,1231.3 1066.3,1228.7 1067.7,1227.5 1069.2,1227.8 1070.6,1229.5 1072,1232.4 1073.5,1236.1 1074.9,1240.1 1076.4,1243.3 1077.8,1246.2 1079.2,1248.5 1080.7,1250.4 1082.1,1252.2 1083.5,1252.8 1085,1252.1 1086.4,1251 1087.8,1250.3 1089.3,1250.6 1090.7,1250.5 1092.1,1249.8 1093.6,1248.4 1095,1247.1 1096.4,1245.9 1097.9,1245 1099.3,1243.9 1100.8,1242.7 1102.2,1241.2 1103.6,1239.7 1105.1,1238.3 1106.5,1237.2 1107.9,1235.9 1109.4,1234.1 1110.8,1232 1112.2,1230.4 1113.7,1228.8 1115.1,1227.2 1116.5,1225.6 1118,1224.7 1119.4,1224 1120.8,1223.7 1122.3,1223 1123.7,1222.4 1125.1,1221.7 1126.6,1220.7 1128,1219.8 1129.5,1219.6 1130.9,1219.7 1132.3,1219.6 1133.8,1219.9 1135.2,1219.8 1136.6,1219.8 1138.1,1221.2 1139.5,1223.4 1140.9,1225.4 1142.4,1227.1 1143.8,1229.4 1145.2,1232.4 1146.7,1236.1 1148.1,1240.4 1149.5,1244.8 1151,1248.7 1152.4,1251.8 1153.8,1254.3 1155.3,1256.1 1156.7,1257.3 1158.2,1258.5 1159.6,1259.4 1161,1260.1 1162.5,1260.3 1163.9,1260.5 1165.3,1260.6 1166.8,1260.2 1168.2,1259.7 1169.6,1259.3 1171.1,1259.2 1172.5,1259 1173.9,1258.3 1175.4,1256.8 1176.8,1254.7 1178.2,1252.6 1179.7,1251 1181.1,1249.8 1182.5,1249.1 1184,1249 1185.4,1249.5 1186.9,1250.6 1188.3,1252.9 1189.7,1256.2 1191.2,1260.4 1192.6,1265.6 1194,1270.8 1195.5,1275.9 1196.9,1280.5 1198.3,1284.3 1199.8,1287.3 1201.2,1289.5 1202.6,1291 1204.1,1292.1 1205.5,1293.2 1206.9,1294.2 1208.4,1294.7 1209.8,1295.6 1211.3,1297.4 1212.7,1299.3 1214.1,1300.9 1215.6,1302.6 1217,1303.7 1218.4,1304.3 1219.9,1305.2 1221.3,1306.3 1222.7,1307.9 1224.2,1309.6 1225.6,1311.7 1227,1313.6 1228.5,1315 1229.9,1315.9 1231.3,1316.1 1232.8,1315.2 1234.2,1313.5 1235.6,1310.9 1237.1,1307.9 1238.5,1304.6 1240,1300.8 1241.4,1296.2 1242.8,1291.1 1244.3,1285.5 1245.7,1280 1247.1,1275.4 1248.6,1271.5 1250,1268.3 1251.4,1265.2 1252.9,1262.3 1254.3,1259.3 1255.7,1256.4 1257.2,1253.7 1258.6,1250.9 1260,1248.2 1261.5,1245.9 1262.9,1243.7 1264.3,1241.7 1265.8,1240.1 1267.2,1238.4 1268.7,1237.3 1270.1,1236.6 1271.5,1236.8 1273,1237.1 1274.4,1236.4 1275.8,1234.6 1277.3,1232.4 1278.7,1230.2 1280.1,1228.5 1281.6,1227.3 1283,1227 1284.4,1227 1285.9,1227.7 1287.3,1228.9 1288.7,1230.6 1290.2,1233 1291.6,1235.6 1293,1238.5 1294.5,1242.1 1295.9,1245.6 1297.4,1249 1298.8,1252.3 1300.2,1255.7 1301.7,1258.6 1303.1,1261.1 1304.5,1263.1 1306,1265.1 1307.4,1266.2 1308.8,1267.8 1310.3,1269.9 1311.7,1271.9 1313.1,1273.8 1314.6,1275.9 1316,1278.3 1317.4,1280.9 1318.9,1283.4 1320.3,1285 1321.8,1285.9 1323.2,1286.2 1324.6,1286 1326.1,1285.3 1327.5,1284.4 1328.9,1283.2 1330.4,1282 1331.8,1281.6 1333.2,1281.4 1334.7,1281.5 1336.1,1281.4 1337.5,1281.7 1339,1282 1340.4,1282.2 1341.8,1282.4 1343.3,1282.8 1344.7,1283.6 1346.1,1284.3 1347.6,1285.3 1349,1286.3 1350.5,1286.7 1351.9,1286.2 1353.3,1285.2 1354.8,1283.6 1356.2,1281.9 1357.6,1279.9 1359.1,1278 1360.5,1276.3 1361.9,1274.1 1363.4,1272 1364.8,1269.7 1366.2,1267.3 1367.7,1265 1369.1,1262.9 1370.5,1261.2 1372,1259.9 1373.4,1258.1 1374.8,1256.3 1376.3,1254.7 1377.7,1253.5 1379.2,1251.6 1380.6,1250.2 1382,1248.6 1383.5,1247.4 1384.9,1246.5 1386.3,1245.8 1387.8,1245.7 1389.2,1246.2 1390.6,1246.5 1392.1,1246 1393.5,1245.8 1394.9,1245.6 1396.4,1245.7 1397.8,1246.3 1399.2,1247.7 1400.7,1249.8 1402.1,1252.5 1403.6,1255.5 1405,1258.9 1406.4,1262.4 1407.9,1265.1 1409.3,1267.3 1410.7,1269.6 1412.2,1273.4 1413.6,1279.2 1415,1288.4 1416.5,1299.5 1417.9,1311 1419.3,1321.8 1420.8,1331.1 1422.2,1339.1 1423.6,1346.9 1425.1,1354.7 1426.5,1361.8 1427.9,1366.2 1429.4,1368.8 1430.8,1370 1432.3,1372.3 1433.7,1375.1 1435.1,1377.8 1436.6,1380.4 1438,1382.8 1439.4,1384.2 1440.9,1385.1 1442.3,1385.2 1443.7,1384.2 1445.2,1382.3 1446.6,1379.5 1448,1375.4 1449.5,1371.3 1450.9,1367.6 1452.3,1364.1 1453.8,1361.5 1455.2,1360.1 1456.6,1358.4 1458.1,1356.9 1459.5,1355.9 1461,1354.8 1462.4,1353.9 1463.8,1353.4 1465.3,1353.7 1466.7,1354.6 1468.1,1356.3 1469.6,1358.5 1471,1362 1472.4,1365.4 1473.9,1368.8 1475.3,1371.6 1476.7,1374.3 1478.2,1377 1479.6,1379.4 1481,1380.1 1482.5,1379.2 1483.9,1377.3 1485.3,1374.3 1486.8,1371 1488.2,1366.5 1489.7,1362 1491.1,1357.6 1492.5,1353.3 1494,1348.6 1495.4,1344.2 1496.8,1340.3 1498.3,1337 1499.7,1334.1 1501.1,1331.2 1502.6,1328.2 1504,1325.4 1505.4,1321.1 1506.9,1315.9 1508.3,1310.4 1509.7,1305.6 1511.2,1301 1512.6,1297.2 1514.1,1293.8 1515.5,1290.2 1516.9,1286.2 1518.4,1282.1 1519.8,1277.7 1521.2,1273 1522.7,1268.2 1524.1,1263.5 1525.5,1257.9 1527,1252.8 1528.4,1246.5 1529.8,1241.1 1531.3,1236.9 1532.7,1234.9 1534.1,1233.7 1535.6,1234.4 1537,1235.5 1538.4,1238.4 1539.9,1242.9 1541.3,1248.8 1542.8,1255.8 1544.2,1262.9 1545.6,1269 1547.1,1272.6 1548.5,1275.8 1549.9,1278.5 1551.4,1280.3 1552.8,1282.6 1554.2,1284.8 1555.7,1287.5 1557.1,1290.4 1558.5,1293.1 1560,1296.1 1561.4,1299.2 1562.8,1302.8 1564.3,1306.2 1565.7,1309 1567.1,1311.2 1568.6,1311.5 1570,1309.6 1571.5,1306.3 1572.9,1301.9 1574.3,1297.3 1575.8,1292.6 1577.2,1288 1578.6,1283.5 1580.1,1278.8 1581.5,1274.6 1582.9,1271.2 1584.4,1268.2 1585.8,1265.8 1587.2,1263.8 1588.7,1262.3 1590.1,1261.2 1591.5,1259.8 1593,1258.8 1594.4,1258.1 1595.8,1258.2 1597.3,1259.6 1598.7,1262.1 1600.2,1264.9 1601.6,1267.5 1603,1269.6 1604.5,1271.6 1605.9,1273.4 1607.3,1274.9 1608.8,1276 1610.2,1276.7 1611.6,1276.7 1613.1,1276.2 1614.5,1275.2 1615.9,1274.5 1617.4,1273.4 1618.8,1272 1620.2,1270.5 1621.7,1268.5 1623.1,1265.7 1624.6,1263.3 1626,1261.4 1627.4,1259.9 1628.9,1258.7 1630.3,1257.9 1631.7,1257.6 1633.2,1257.4 1634.6,1257.8 1636,1258.2 1637.5,1258.5 1638.9,1258.9 1640.3,1260.2 1641.8,1262 1643.2,1263.9 1644.6,1265.8 1646.1,1267.8 1647.5,1269.8 1648.9,1271.1 1650.4,1272.4 1651.8,1273.2 1653.3,1273.6 1654.7,1273.5 1656.1,1273.2 1657.6,1273 1659,1272.3 1660.4,1271.4 1661.9,1270.1 1663.3,1269.1 1664.7,1268.5 1666.2,1267.3 1667.6,1265.5 1669,1263.8 1670.5,1261.5 1671.9,1259.4 1673.3,1257.6 1674.8,1255.8 1676.2,1254.7 1677.6,1254.4 1679.1,1255 1680.5,1255.6 1682,1256.4 1683.4,1257 1684.8,1256.2 1686.3,1254.2 1687.7,1251.4 1689.1,1248.8 1690.6,1246.1 1692,1243.8 1693.4,1242.2 1694.9,1241.6 1696.3,1242.1 1697.7,1243.2 1699.2,1246.3 1700.6,1250.7 1702,1255.5 1703.5,1261.4 1704.9,1267.6 1706.3,1274.4 1707.8,1280.8 1709.2,1286 1710.7,1289.6 1712.1,1293 1713.5,1295.3 1715,1296.3 1716.4,1296.9 1717.8,1297.1 1719.3,1296.7 1720.7,1296.1 1722.1,1295.7 1723.6,1295.5 1725,1295.5 1726.4,1295 1727.9,1294 1729.3,1292.8 1730.7,1291.5 1732.2,1290.5 1733.6,1288.9 1735.1,1286.7 1736.5,1283.9 1737.9,1281.8 1739.4,1279.6 1740.8,1278.3 1742.2,1277.5 1743.7,1277.5 1745.1,1278.2 1746.5,1278.8 1748,1279.8 1749.4,1280.8 1750.8,1283.4 1752.3,1287.4 1753.7,1293.3 1755.1,1300.9 1756.6,1309.6 1758,1318.1 1759.4,1325 1760.9,1329.5 1762.3,1331.9 1763.8,1333.2 1765.2,1332.8 1766.6,1330.9 1768.1,1328.1 1769.5,1324.6 1770.9,1321.5 1772.4,1318.7 1773.8,1316.2 1775.2,1314.4 1776.7,1313.3 1778.1,1313.1 1779.5,1312.7 1781,1311.6 1782.4,1309.7 1783.8,1307.8 1785.3,1305.6 1786.7,1302.8 1788.1,1300 1789.6,1296.8 1791,1293.4 1792.5,1290.2 1793.9,1286.1 1795.3,1281.1 1796.8,1275.7 1798.2,1269.9 1799.6,1264.3 1801.1,1259.4 1802.5,1255.2 1803.9,1251 1805.4,1247.2 1806.8,1244.8 1808.2,1243 1809.7,1242.6 1811.1,1243.4 1812.5,1245.2 1814,1247.3 1815.4,1250 1816.9,1252.7 1818.3,1255.5 1819.7,1258.5 1821.2,1261.2 1822.6,1263.7 1824,1265.6 1825.5,1266.7 1826.9,1267.7 1828.3,1268.9 1829.8,1270 1831.2,1271.5 1832.6,1273.5 1834.1,1275.6 1835.5,1277.4 1836.9,1280.3 1838.4,1284.3 1839.8,1288.9 1841.2,1293.7 1842.7,1297.9 1844.1,1301.7 1845.6,1304.8 1847,1308.5 1848.4,1312.2 1849.9,1316.3 1851.3,1320.3 1852.7,1323.4 1854.2,1326 1855.6,1328.5 1857,1330.8 1858.5,1332.6 1859.9,1332.8 1861.3,1332.7 1862.8,1331.4 1864.2,1329.6 1865.6,1326.3 1867.1,1321.1 1868.5,1314.1 1869.9,1305.5 1871.4,1298.5 1872.8,1293.1 1874.3,1289.8 1875.7,1287.8 1877.1,1287.3 1878.6,1287.6 1880,1288.7 1881.4,1290.2 1882.9,1291.5 1884.3,1292.4 1885.7,1291.9 1887.2,1289.9 1888.6,1286.4 1890,1282.9 1891.5,1279.6 1892.9,1278.1 1894.3,1277 1895.8,1276.5 1897.2,1277.3 1898.6,1279.1 1900.1,1282.6 1901.5,1285.9 1903,1287 1904.4,1286.7 1905.8,1286 1907.3,1285.9 1908.7,1286.1 1910.1,1285.6 1911.6,1283.4 1913,1281.6" fill="none" stroke="#FF6D00" stroke-width="2" stroke-linejoin="round"/></g>
<rect x="1879" y="779" width="49" height="44" fill="#FFFFFF"/><g clip-path="url(#clipi)">
<path d="M1894.3 793.3 A19.4 19.4 0 1 1 1898.9 813.7" fill="none" stroke="#9C1AB1" stroke-width="2.8"/>
</g>
<path d="M1918.3 789.2L1919.7 790.4L1913 798.7L1921.5 799.3L1907.4 810.5L1906.3 809.5L1912.7 801L1904.5 800.7Z" fill="#9C1AB1"/>
<path d="M1891.9 797.1Q1893.2 805.7 1901.9 807Q1893.2 808.3 1891.9 816.7Q1890.6 808.3 1882 807Q1890.6 805.7 1891.9 797.1Z" fill="#7B4DFF"/><text x="35.90" y="38.00" fill="#000000" stroke="#000000" stroke-width="0.45" font-size="24" textLength="380.20" lengthAdjust="spacingAndGlyphs">Bitcoin / U.S. Dollar · 5 · Coinbase</text><text x="428.40" y="38.00" fill="#000000" stroke="#000000" stroke-width="0.45" font-size="24">O</text><text x="447.30" y="38.00" fill="#F23645" stroke="#F23645" stroke-width="0.45" font-size="24" textLength="113.53" lengthAdjust="spacingAndGlyphs">69,514.63</text><text x="574.60" y="38.00" fill="#000000" stroke="#000000" stroke-width="0.45" font-size="24">H</text><text x="591.80" y="38.00" fill="#F23645" stroke="#F23645" stroke-width="0.45" font-size="24" textLength="112.84" lengthAdjust="spacingAndGlyphs">69,521.99</text><text x="718.00" y="38.00" fill="#000000" stroke="#000000" stroke-width="0.45" font-size="24">L</text><text x="732.50" y="38.00" fill="#F23645" stroke="#F23645" stroke-width="0.45" font-size="24" textLength="113.14" lengthAdjust="spacingAndGlyphs">69,325.73</text><text x="860.10" y="38.00" fill="#000000" stroke="#000000" stroke-width="0.45" font-size="24">C</text><text x="876.40" y="38.00" fill="#F23645" stroke="#F23645" stroke-width="0.45" font-size="24" textLength="111.44" lengthAdjust="spacingAndGlyphs">69,327.73</text><text x="1000.40" y="38.00" fill="#F23645" stroke="#F23645" stroke-width="0.45" font-size="24" textLength="199.65" lengthAdjust="spacingAndGlyphs">−185.18 (−0.27%)</text><text x="1945.70" y="22.90" fill="#000000" stroke="#000000" stroke-width="0.45" font-size="24" textLength="119.62" lengthAdjust="spacingAndGlyphs">77,000.00</text><text x="1945.70" y="83.63" fill="#000000" stroke="#000000" stroke-width="0.45" font-size="24" textLength="119.62" lengthAdjust="spacingAndGlyphs">76,000.00</text><text x="1945.70" y="144.36" fill="#000000" stroke="#000000" stroke-width="0.45" font-size="24" textLength="119.62" lengthAdjust="spacingAndGlyphs">75,000.00</text><text x="1945.70" y="205.09" fill="#000000" stroke="#000000" stroke-width="0.45" font-size="24" textLength="119.62" lengthAdjust="spacingAndGlyphs">74,000.00</text><text x="1945.70" y="265.82" fill="#000000" stroke="#000000" stroke-width="0.45" font-size="24" textLength="119.62" lengthAdjust="spacingAndGlyphs">73,000.00</text><text x="1945.70" y="326.55" fill="#000000" stroke="#000000" stroke-width="0.45" font-size="24" textLength="119.62" lengthAdjust="spacingAndGlyphs">72,000.00</text><text x="1945.70" y="387.28" fill="#000000" stroke="#000000" stroke-width="0.45" font-size="24" textLength="119.62" lengthAdjust="spacingAndGlyphs">71,000.00</text><text x="1945.70" y="448.01" fill="#000000" stroke="#000000" stroke-width="0.45" font-size="24" textLength="119.62" lengthAdjust="spacingAndGlyphs">70,000.00</text><text x="1945.70" y="569.47" fill="#000000" stroke="#000000" stroke-width="0.45" font-size="24" textLength="119.62" lengthAdjust="spacingAndGlyphs">68,000.00</text><text x="1945.70" y="630.20" fill="#000000" stroke="#000000" stroke-width="0.45" font-size="24" textLength="119.62" lengthAdjust="spacingAndGlyphs">67,000.00</text><text x="1945.70" y="690.93" fill="#000000" stroke="#000000" stroke-width="0.45" font-size="24" textLength="119.62" lengthAdjust="spacingAndGlyphs">66,000.00</text><text x="1945.70" y="751.66" fill="#000000" stroke="#000000" stroke-width="0.45" font-size="24" textLength="119.62" lengthAdjust="spacingAndGlyphs">65,000.00</text><text x="1945.70" y="812.39" fill="#000000" stroke="#000000" stroke-width="0.45" font-size="24" textLength="119.62" lengthAdjust="spacingAndGlyphs">64,000.00</text><text x="36.30" y="870.50" fill="#000000" stroke="#000000" stroke-width="0.45" font-size="24" textLength="159.63" lengthAdjust="spacingAndGlyphs">RSI (14, close)</text><text x="211.40" y="870.50" fill="#7E57C2" stroke="#7E57C2" stroke-width="0.45" font-size="24" textLength="66.95" lengthAdjust="spacingAndGlyphs">48.04</text><text x="291.20" y="870.50" fill="#FDD835" stroke="#FDD835" stroke-width="0.45" font-size="24" textLength="67.85" lengthAdjust="spacingAndGlyphs">46.43</text><text x="1945.90" y="879.00" fill="#000000" stroke="#000000" stroke-width="0.45" font-size="24" textLength="67.45" lengthAdjust="spacingAndGlyphs">80.00</text><text x="1945.90" y="945.80" fill="#000000" stroke="#000000" stroke-width="0.45" font-size="24" textLength="67.45" lengthAdjust="spacingAndGlyphs">60.00</text><text x="1945.90" y="1078.70" fill="#000000" stroke="#000000" stroke-width="0.45" font-size="24" textLength="67.45" lengthAdjust="spacingAndGlyphs">20.00</text><text x="36.10" y="1167.60" fill="#000000" stroke="#000000" stroke-width="0.45" font-size="24" textLength="266.01" lengthAdjust="spacingAndGlyphs">MACD (close, 12, 26, 9)</text><text x="316.40" y="1167.60" fill="#B2DFDB" stroke="#B2DFDB" stroke-width="0.45" font-size="24" textLength="66.25" lengthAdjust="spacingAndGlyphs">24.86</text><text x="395.20" y="1167.60" fill="#2962FF" stroke="#2962FF" stroke-width="0.45" font-size="24" textLength="80.47" lengthAdjust="spacingAndGlyphs">−26.37</text><text x="487.30" y="1167.60" fill="#FF6D00" stroke="#FF6D00" stroke-width="0.45" font-size="24" textLength="77.77" lengthAdjust="spacingAndGlyphs">−51.23</text><text x="1946.70" y="1200.00" fill="#000000" stroke="#000000" stroke-width="0.45" font-size="24" textLength="82.04" lengthAdjust="spacingAndGlyphs">200.00</text><text x="1946.20" y="1339.30" fill="#000000" stroke="#000000" stroke-width="0.45" font-size="24" textLength="97.55" lengthAdjust="spacingAndGlyphs">−200.00</text><text x="1946.20" y="1408.70" fill="#000000" stroke="#000000" stroke-width="0.45" font-size="24" textLength="97.55" lengthAdjust="spacingAndGlyphs">−400.00</text><text x="375.50" y="1454.00" fill="#000000" font-size="24" font-weight="bold" textLength="30.34" lengthAdjust="spacingAndGlyphs">16</text><text x="790.70" y="1454.00" fill="#000000" stroke="#000000" stroke-width="0.45" font-size="24" textLength="27.58" lengthAdjust="spacingAndGlyphs">17</text><text x="1203.20" y="1454.00" fill="#000000" stroke="#000000" stroke-width="0.45" font-size="24" textLength="27.58" lengthAdjust="spacingAndGlyphs">18</text><text x="1616.20" y="1454.00" fill="#000000" stroke="#000000" stroke-width="0.45" font-size="24" textLength="27.58" lengthAdjust="spacingAndGlyphs">19</text><path d="M1930.0 465.0H2073.0Q2078.0 465.0 2078.0 470.0V522.0Q2078.0 527.0 2073.0 527.0H1930.0Z" fill="#F23645"/><text x="1945.80" y="488.20" fill="#FFFFFF" stroke="#FFFFFF" stroke-width="0.45" font-size="24" textLength="119.42" lengthAdjust="spacingAndGlyphs">69,327.73</text><text x="1946.20" y="516.10" fill="rgba(255,255,255,0.85)" stroke="rgba(255,255,255,0.85)" stroke-width="0.45" font-size="24" textLength="66.75" lengthAdjust="spacingAndGlyphs">01:57</text><path d="M1930.0 960.0H2019.7Q2023.7 960.0 2023.7 964.0V989.5Q2023.7 993.5 2019.7 993.5H1930.0Z" fill="#7E57C2"/><text x="1945.90" y="985.00" fill="#FFFFFF" stroke="#FFFFFF" stroke-width="0.45" font-size="24" textLength="67.45" lengthAdjust="spacingAndGlyphs">48.04</text><path d="M1930.0 994.5H2019.7Q2023.7 994.5 2023.7 998.5V1023.5Q2023.7 1027.5 2019.7 1027.5H1930.0Z" fill="#FDD835"/><text x="1945.90" y="1018.70" fill="#131722" stroke="#131722" stroke-width="0.45" font-size="24" textLength="67.45" lengthAdjust="spacingAndGlyphs">46.43</text><path d="M1930.0 1236.2H2019.8Q2023.8 1236.2 2023.8 1240.2V1265.3Q2023.8 1269.3 2019.8 1269.3H1930.0Z" fill="#B2DFDB"/><text x="1947.00" y="1260.00" fill="#131722" stroke="#131722" stroke-width="0.45" font-size="24" textLength="65.95" lengthAdjust="spacingAndGlyphs">24.86</text><path d="M1930.0 1270.0H2035.7Q2039.7 1270.0 2039.7 1274.0V1299.3Q2039.7 1303.3 2035.7 1303.3H1930.0Z" fill="#2962FF"/><text x="1946.20" y="1294.20" fill="#FFFFFF" stroke="#FFFFFF" stroke-width="0.45" font-size="24" textLength="82.17" lengthAdjust="spacingAndGlyphs">−26.37</text><path d="M1930.0 1304.3H2035.7Q2039.7 1304.3 2039.7 1308.3V1333.7Q2039.7 1337.7 2035.7 1337.7H1930.0Z" fill="#FF6D00"/><text x="1946.20" y="1328.70" fill="#FFFFFF" stroke="#FFFFFF" stroke-width="0.45" font-size="24" textLength="82.17" lengthAdjust="spacingAndGlyphs">−51.23</text><g fill="#131313">
<path d="M24.2 1516.1H47.8V1545.7H36.1V1527.7H24.2Z"/>
<circle cx="57.9" cy="1522" r="5.7"/>
<path d="M70.1 1516.1H83.7L71.8 1545.7H58.1Z"/>
<text x="96.5" y="1545.7" font-size="40.5" font-weight="bold" textLength="244" lengthAdjust="spacingAndGlyphs">TradingView</text>
</g>
</svg>
</body></html>
